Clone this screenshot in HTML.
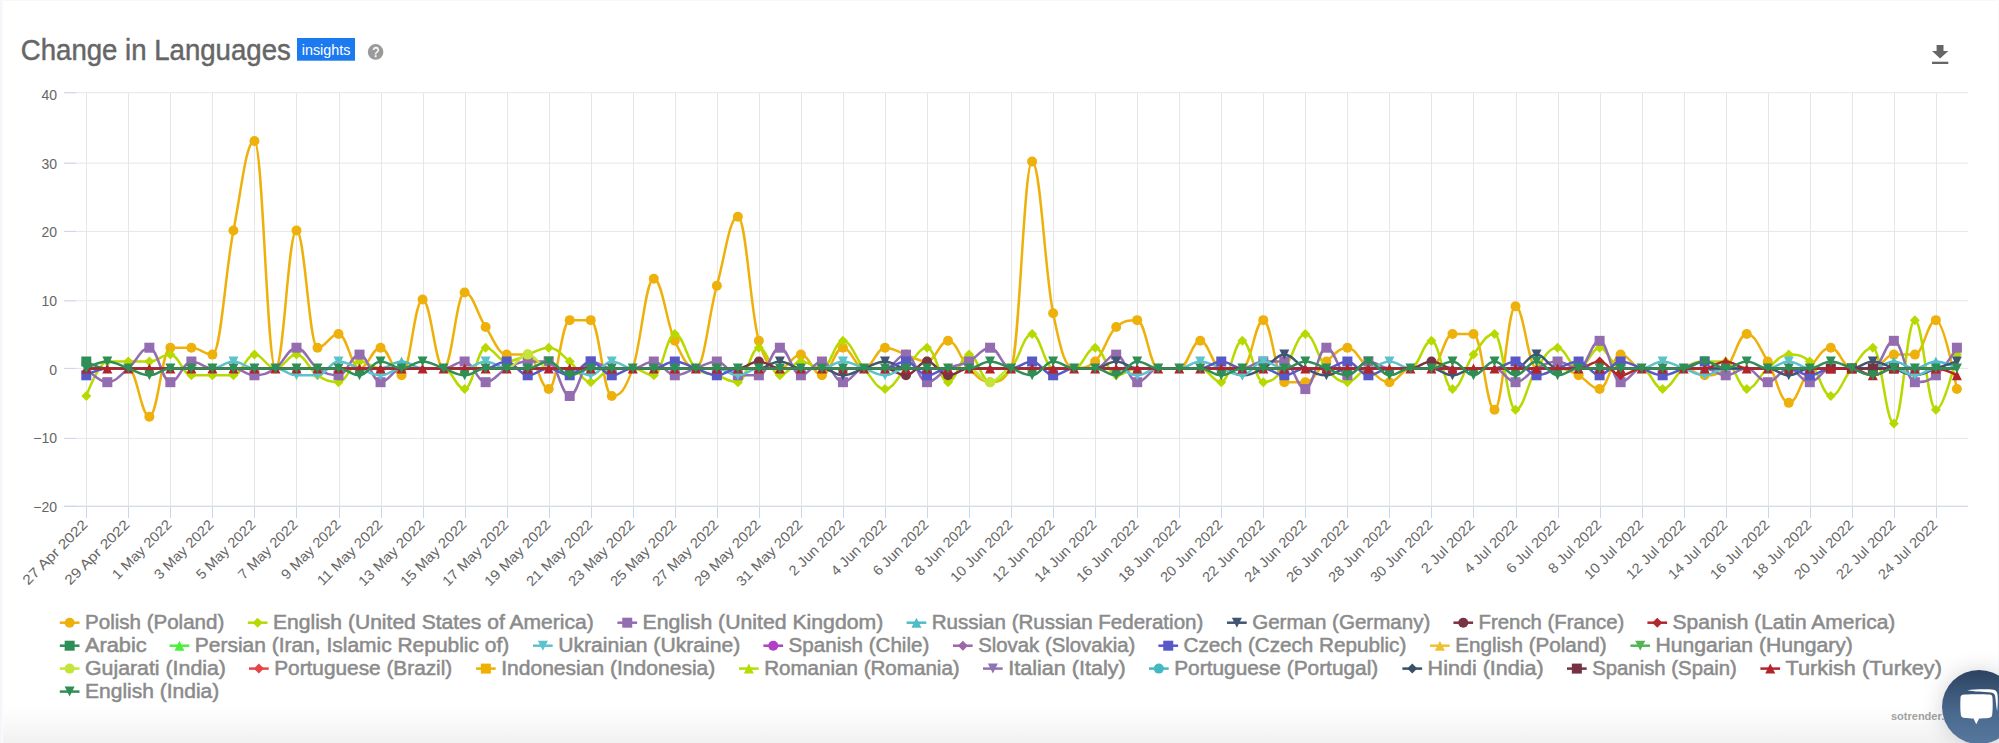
<!DOCTYPE html>
<html><head><meta charset="utf-8"><title>Change in Languages</title>
<style>
html,body{margin:0;padding:0;overflow:hidden;}
body{width:1999px;height:743px;background:#fff;}
.page{width:1999px;height:743px;overflow:hidden;position:relative;background:#fff;font-family:"Liberation Sans",Arial,sans-serif;}
.edge-l{position:absolute;left:0;top:0;width:3px;height:743px;background:linear-gradient(90deg,#f4f6f9 0,#f4f6f9 2px,#fafbfc 2px);}
.edge-t{position:absolute;left:0;top:0;width:1999px;height:1px;background:#f6f8fa;}
.edge-r{position:absolute;right:0;top:0;width:1px;height:743px;background:#f8f9fb;}
.bottom{position:absolute;left:3px;right:1px;top:704px;height:39px;background:linear-gradient(#fff,#fdfdfd 25%,#f1f1f1);}
.chart{position:absolute;left:0;top:0;}
.yl{font-size:14px;fill:#666;font-family:"Liberation Sans",Arial,sans-serif;}
.xl{font-size:14px;fill:#666;font-family:"Liberation Sans",Arial,sans-serif;}
.lg{font-size:19.5px;fill:#8b8b8b;stroke:#8b8b8b;stroke-width:0.5px;font-family:"Liberation Sans",Arial,sans-serif;}
.ttl{font-size:30px;fill:#666;stroke:#666;stroke-width:0.5px;font-family:"Liberation Sans",Arial,sans-serif;}
.bdg{font-size:15px;fill:#fff;font-family:"Liberation Sans",Arial,sans-serif;}
.hlp{font-size:14.6px;fill:#fff;stroke:#fff;stroke-width:0.35px;font-family:"Liberation Sans",Arial,sans-serif;}
.cr{font-size:11px;font-weight:bold;fill:#a2a2a2;font-family:"Liberation Sans",Arial,sans-serif;}
.dl{position:absolute;left:1930px;top:44px;}
.chat{position:absolute;left:1942px;top:670px;width:74px;height:74px;border-radius:50%;background:linear-gradient(#2c4360,#4b6a90 60%,#56779d);box-shadow:0 0 22px rgba(0,0,0,0.17);z-index:5;}
</style></head><body><div class="page">
<div class="edge-l"></div><div class="edge-t"></div><div class="edge-r"></div>
<div class="bottom"></div>
<svg class="chart" width="1999" height="743" viewBox="0 0 1999 743"><path d="M64 92.7H1968" stroke="#e6e6e6" stroke-width="1"/><path d="M64 163.2H1968" stroke="#e6e6e6" stroke-width="1"/><path d="M64 231.4H1968" stroke="#e6e6e6" stroke-width="1"/><path d="M64 300.8H1968" stroke="#e6e6e6" stroke-width="1"/><path d="M64 368.4H1968" stroke="#e6e6e6" stroke-width="1"/><path d="M64 438.4H1968" stroke="#e6e6e6" stroke-width="1"/><path d="M64 506.3H1968" stroke="#e6e6e6" stroke-width="1"/><path d="M86.5 93V507" stroke="#e6e6e6" stroke-width="1"/><path d="M128.5 93V507" stroke="#e6e6e6" stroke-width="1"/><path d="M170.5 93V507" stroke="#e6e6e6" stroke-width="1"/><path d="M212.5 93V507" stroke="#e6e6e6" stroke-width="1"/><path d="M254.5 93V507" stroke="#e6e6e6" stroke-width="1"/><path d="M296.5 93V507" stroke="#e6e6e6" stroke-width="1"/><path d="M339.5 93V507" stroke="#e6e6e6" stroke-width="1"/><path d="M381.5 93V507" stroke="#e6e6e6" stroke-width="1"/><path d="M423.5 93V507" stroke="#e6e6e6" stroke-width="1"/><path d="M465.5 93V507" stroke="#e6e6e6" stroke-width="1"/><path d="M507.5 93V507" stroke="#e6e6e6" stroke-width="1"/><path d="M549.5 93V507" stroke="#e6e6e6" stroke-width="1"/><path d="M591.5 93V507" stroke="#e6e6e6" stroke-width="1"/><path d="M633.5 93V507" stroke="#e6e6e6" stroke-width="1"/><path d="M675.5 93V507" stroke="#e6e6e6" stroke-width="1"/><path d="M717.5 93V507" stroke="#e6e6e6" stroke-width="1"/><path d="M759.5 93V507" stroke="#e6e6e6" stroke-width="1"/><path d="M801.5 93V507" stroke="#e6e6e6" stroke-width="1"/><path d="M843.5 93V507" stroke="#e6e6e6" stroke-width="1"/><path d="M885.5 93V507" stroke="#e6e6e6" stroke-width="1"/><path d="M927.5 93V507" stroke="#e6e6e6" stroke-width="1"/><path d="M969.5 93V507" stroke="#e6e6e6" stroke-width="1"/><path d="M1011.5 93V507" stroke="#e6e6e6" stroke-width="1"/><path d="M1053.5 93V507" stroke="#e6e6e6" stroke-width="1"/><path d="M1095.5 93V507" stroke="#e6e6e6" stroke-width="1"/><path d="M1137.5 93V507" stroke="#e6e6e6" stroke-width="1"/><path d="M1179.5 93V507" stroke="#e6e6e6" stroke-width="1"/><path d="M1221.5 93V507" stroke="#e6e6e6" stroke-width="1"/><path d="M1263.5 93V507" stroke="#e6e6e6" stroke-width="1"/><path d="M1305.5 93V507" stroke="#e6e6e6" stroke-width="1"/><path d="M1347.5 93V507" stroke="#e6e6e6" stroke-width="1"/><path d="M1389.5 93V507" stroke="#e6e6e6" stroke-width="1"/><path d="M1431.5 93V507" stroke="#e6e6e6" stroke-width="1"/><path d="M1473.5 93V507" stroke="#e6e6e6" stroke-width="1"/><path d="M1516.5 93V507" stroke="#e6e6e6" stroke-width="1"/><path d="M1558.5 93V507" stroke="#e6e6e6" stroke-width="1"/><path d="M1600.5 93V507" stroke="#e6e6e6" stroke-width="1"/><path d="M1642.5 93V507" stroke="#e6e6e6" stroke-width="1"/><path d="M1684.5 93V507" stroke="#e6e6e6" stroke-width="1"/><path d="M1726.5 93V507" stroke="#e6e6e6" stroke-width="1"/><path d="M1768.5 93V507" stroke="#e6e6e6" stroke-width="1"/><path d="M1810.5 93V507" stroke="#e6e6e6" stroke-width="1"/><path d="M1852.5 93V507" stroke="#e6e6e6" stroke-width="1"/><path d="M1894.5 93V507" stroke="#e6e6e6" stroke-width="1"/><path d="M1936.5 93V507" stroke="#e6e6e6" stroke-width="1"/><path d="M64 92.7H76" stroke="#ccd6eb" stroke-width="1"/><path d="M64 163.2H76" stroke="#ccd6eb" stroke-width="1"/><path d="M64 231.4H76" stroke="#ccd6eb" stroke-width="1"/><path d="M64 300.8H76" stroke="#ccd6eb" stroke-width="1"/><path d="M64 368.4H76" stroke="#ccd6eb" stroke-width="1"/><path d="M64 438.4H76" stroke="#ccd6eb" stroke-width="1"/><path d="M64 506.3H76" stroke="#ccd6eb" stroke-width="1"/><path d="M64 506.3H1968" stroke="#ccd6eb" stroke-width="1"/><path d="M86.5 507V518" stroke="#ccd6eb" stroke-width="1"/><path d="M128.5 507V518" stroke="#ccd6eb" stroke-width="1"/><path d="M170.5 507V518" stroke="#ccd6eb" stroke-width="1"/><path d="M212.5 507V518" stroke="#ccd6eb" stroke-width="1"/><path d="M254.5 507V518" stroke="#ccd6eb" stroke-width="1"/><path d="M296.5 507V518" stroke="#ccd6eb" stroke-width="1"/><path d="M339.5 507V518" stroke="#ccd6eb" stroke-width="1"/><path d="M381.5 507V518" stroke="#ccd6eb" stroke-width="1"/><path d="M423.5 507V518" stroke="#ccd6eb" stroke-width="1"/><path d="M465.5 507V518" stroke="#ccd6eb" stroke-width="1"/><path d="M507.5 507V518" stroke="#ccd6eb" stroke-width="1"/><path d="M549.5 507V518" stroke="#ccd6eb" stroke-width="1"/><path d="M591.5 507V518" stroke="#ccd6eb" stroke-width="1"/><path d="M633.5 507V518" stroke="#ccd6eb" stroke-width="1"/><path d="M675.5 507V518" stroke="#ccd6eb" stroke-width="1"/><path d="M717.5 507V518" stroke="#ccd6eb" stroke-width="1"/><path d="M759.5 507V518" stroke="#ccd6eb" stroke-width="1"/><path d="M801.5 507V518" stroke="#ccd6eb" stroke-width="1"/><path d="M843.5 507V518" stroke="#ccd6eb" stroke-width="1"/><path d="M885.5 507V518" stroke="#ccd6eb" stroke-width="1"/><path d="M927.5 507V518" stroke="#ccd6eb" stroke-width="1"/><path d="M969.5 507V518" stroke="#ccd6eb" stroke-width="1"/><path d="M1011.5 507V518" stroke="#ccd6eb" stroke-width="1"/><path d="M1053.5 507V518" stroke="#ccd6eb" stroke-width="1"/><path d="M1095.5 507V518" stroke="#ccd6eb" stroke-width="1"/><path d="M1137.5 507V518" stroke="#ccd6eb" stroke-width="1"/><path d="M1179.5 507V518" stroke="#ccd6eb" stroke-width="1"/><path d="M1221.5 507V518" stroke="#ccd6eb" stroke-width="1"/><path d="M1263.5 507V518" stroke="#ccd6eb" stroke-width="1"/><path d="M1305.5 507V518" stroke="#ccd6eb" stroke-width="1"/><path d="M1347.5 507V518" stroke="#ccd6eb" stroke-width="1"/><path d="M1389.5 507V518" stroke="#ccd6eb" stroke-width="1"/><path d="M1431.5 507V518" stroke="#ccd6eb" stroke-width="1"/><path d="M1473.5 507V518" stroke="#ccd6eb" stroke-width="1"/><path d="M1516.5 507V518" stroke="#ccd6eb" stroke-width="1"/><path d="M1558.5 507V518" stroke="#ccd6eb" stroke-width="1"/><path d="M1600.5 507V518" stroke="#ccd6eb" stroke-width="1"/><path d="M1642.5 507V518" stroke="#ccd6eb" stroke-width="1"/><path d="M1684.5 507V518" stroke="#ccd6eb" stroke-width="1"/><path d="M1726.5 507V518" stroke="#ccd6eb" stroke-width="1"/><path d="M1768.5 507V518" stroke="#ccd6eb" stroke-width="1"/><path d="M1810.5 507V518" stroke="#ccd6eb" stroke-width="1"/><path d="M1852.5 507V518" stroke="#ccd6eb" stroke-width="1"/><path d="M1894.5 507V518" stroke="#ccd6eb" stroke-width="1"/><path d="M1936.5 507V518" stroke="#ccd6eb" stroke-width="1"/><text x="57" y="99.8" text-anchor="end" class="yl">40</text><text x="57" y="168.5" text-anchor="end" class="yl">30</text><text x="57" y="237.1" text-anchor="end" class="yl">20</text><text x="57" y="305.8" text-anchor="end" class="yl">10</text><text x="57" y="374.5" text-anchor="end" class="yl">0</text><text x="57" y="443.1" text-anchor="end" class="yl">−10</text><text x="57" y="511.8" text-anchor="end" class="yl">−20</text><text x="88.5" y="525.5" text-anchor="end" transform="rotate(-45 88.5 525.5)" class="xl" textLength="85.2" lengthAdjust="spacingAndGlyphs">27 Apr 2022</text><text x="130.5" y="525.5" text-anchor="end" transform="rotate(-45 130.5 525.5)" class="xl" textLength="85.2" lengthAdjust="spacingAndGlyphs">29 Apr 2022</text><text x="172.5" y="525.5" text-anchor="end" transform="rotate(-45 172.5 525.5)" class="xl" textLength="77.3" lengthAdjust="spacingAndGlyphs">1 May 2022</text><text x="214.5" y="525.5" text-anchor="end" transform="rotate(-45 214.5 525.5)" class="xl" textLength="77.3" lengthAdjust="spacingAndGlyphs">3 May 2022</text><text x="256.5" y="525.5" text-anchor="end" transform="rotate(-45 256.5 525.5)" class="xl" textLength="77.3" lengthAdjust="spacingAndGlyphs">5 May 2022</text><text x="298.5" y="525.5" text-anchor="end" transform="rotate(-45 298.5 525.5)" class="xl" textLength="77.3" lengthAdjust="spacingAndGlyphs">7 May 2022</text><text x="341.5" y="525.5" text-anchor="end" transform="rotate(-45 341.5 525.5)" class="xl" textLength="77.3" lengthAdjust="spacingAndGlyphs">9 May 2022</text><text x="383.5" y="525.5" text-anchor="end" transform="rotate(-45 383.5 525.5)" class="xl" textLength="86.0" lengthAdjust="spacingAndGlyphs">11 May 2022</text><text x="425.5" y="525.5" text-anchor="end" transform="rotate(-45 425.5 525.5)" class="xl" textLength="87.1" lengthAdjust="spacingAndGlyphs">13 May 2022</text><text x="467.5" y="525.5" text-anchor="end" transform="rotate(-45 467.5 525.5)" class="xl" textLength="87.1" lengthAdjust="spacingAndGlyphs">15 May 2022</text><text x="509.5" y="525.5" text-anchor="end" transform="rotate(-45 509.5 525.5)" class="xl" textLength="87.1" lengthAdjust="spacingAndGlyphs">17 May 2022</text><text x="551.5" y="525.5" text-anchor="end" transform="rotate(-45 551.5 525.5)" class="xl" textLength="87.1" lengthAdjust="spacingAndGlyphs">19 May 2022</text><text x="593.5" y="525.5" text-anchor="end" transform="rotate(-45 593.5 525.5)" class="xl" textLength="87.1" lengthAdjust="spacingAndGlyphs">21 May 2022</text><text x="635.5" y="525.5" text-anchor="end" transform="rotate(-45 635.5 525.5)" class="xl" textLength="87.1" lengthAdjust="spacingAndGlyphs">23 May 2022</text><text x="677.5" y="525.5" text-anchor="end" transform="rotate(-45 677.5 525.5)" class="xl" textLength="87.1" lengthAdjust="spacingAndGlyphs">25 May 2022</text><text x="719.5" y="525.5" text-anchor="end" transform="rotate(-45 719.5 525.5)" class="xl" textLength="87.1" lengthAdjust="spacingAndGlyphs">27 May 2022</text><text x="761.5" y="525.5" text-anchor="end" transform="rotate(-45 761.5 525.5)" class="xl" textLength="87.1" lengthAdjust="spacingAndGlyphs">29 May 2022</text><text x="803.5" y="525.5" text-anchor="end" transform="rotate(-45 803.5 525.5)" class="xl" textLength="87.1" lengthAdjust="spacingAndGlyphs">31 May 2022</text><text x="845.5" y="525.5" text-anchor="end" transform="rotate(-45 845.5 525.5)" class="xl" textLength="72.1" lengthAdjust="spacingAndGlyphs">2 Jun 2022</text><text x="887.5" y="525.5" text-anchor="end" transform="rotate(-45 887.5 525.5)" class="xl" textLength="72.1" lengthAdjust="spacingAndGlyphs">4 Jun 2022</text><text x="929.5" y="525.5" text-anchor="end" transform="rotate(-45 929.5 525.5)" class="xl" textLength="72.1" lengthAdjust="spacingAndGlyphs">6 Jun 2022</text><text x="971.5" y="525.5" text-anchor="end" transform="rotate(-45 971.5 525.5)" class="xl" textLength="72.1" lengthAdjust="spacingAndGlyphs">8 Jun 2022</text><text x="1013.5" y="525.5" text-anchor="end" transform="rotate(-45 1013.5 525.5)" class="xl" textLength="81.3" lengthAdjust="spacingAndGlyphs">10 Jun 2022</text><text x="1055.5" y="525.5" text-anchor="end" transform="rotate(-45 1055.5 525.5)" class="xl" textLength="81.3" lengthAdjust="spacingAndGlyphs">12 Jun 2022</text><text x="1097.5" y="525.5" text-anchor="end" transform="rotate(-45 1097.5 525.5)" class="xl" textLength="81.3" lengthAdjust="spacingAndGlyphs">14 Jun 2022</text><text x="1139.5" y="525.5" text-anchor="end" transform="rotate(-45 1139.5 525.5)" class="xl" textLength="81.3" lengthAdjust="spacingAndGlyphs">16 Jun 2022</text><text x="1181.5" y="525.5" text-anchor="end" transform="rotate(-45 1181.5 525.5)" class="xl" textLength="81.3" lengthAdjust="spacingAndGlyphs">18 Jun 2022</text><text x="1223.5" y="525.5" text-anchor="end" transform="rotate(-45 1223.5 525.5)" class="xl" textLength="81.3" lengthAdjust="spacingAndGlyphs">20 Jun 2022</text><text x="1265.5" y="525.5" text-anchor="end" transform="rotate(-45 1265.5 525.5)" class="xl" textLength="81.3" lengthAdjust="spacingAndGlyphs">22 Jun 2022</text><text x="1307.5" y="525.5" text-anchor="end" transform="rotate(-45 1307.5 525.5)" class="xl" textLength="81.3" lengthAdjust="spacingAndGlyphs">24 Jun 2022</text><text x="1349.5" y="525.5" text-anchor="end" transform="rotate(-45 1349.5 525.5)" class="xl" textLength="81.3" lengthAdjust="spacingAndGlyphs">26 Jun 2022</text><text x="1391.5" y="525.5" text-anchor="end" transform="rotate(-45 1391.5 525.5)" class="xl" textLength="81.3" lengthAdjust="spacingAndGlyphs">28 Jun 2022</text><text x="1433.5" y="525.5" text-anchor="end" transform="rotate(-45 1433.5 525.5)" class="xl" textLength="81.3" lengthAdjust="spacingAndGlyphs">30 Jun 2022</text><text x="1475.5" y="525.5" text-anchor="end" transform="rotate(-45 1475.5 525.5)" class="xl" textLength="69.1" lengthAdjust="spacingAndGlyphs">2 Jul 2022</text><text x="1518.5" y="525.5" text-anchor="end" transform="rotate(-45 1518.5 525.5)" class="xl" textLength="69.1" lengthAdjust="spacingAndGlyphs">4 Jul 2022</text><text x="1560.5" y="525.5" text-anchor="end" transform="rotate(-45 1560.5 525.5)" class="xl" textLength="69.1" lengthAdjust="spacingAndGlyphs">6 Jul 2022</text><text x="1602.5" y="525.5" text-anchor="end" transform="rotate(-45 1602.5 525.5)" class="xl" textLength="69.1" lengthAdjust="spacingAndGlyphs">8 Jul 2022</text><text x="1644.5" y="525.5" text-anchor="end" transform="rotate(-45 1644.5 525.5)" class="xl" textLength="77.5" lengthAdjust="spacingAndGlyphs">10 Jul 2022</text><text x="1686.5" y="525.5" text-anchor="end" transform="rotate(-45 1686.5 525.5)" class="xl" textLength="77.5" lengthAdjust="spacingAndGlyphs">12 Jul 2022</text><text x="1728.5" y="525.5" text-anchor="end" transform="rotate(-45 1728.5 525.5)" class="xl" textLength="77.5" lengthAdjust="spacingAndGlyphs">14 Jul 2022</text><text x="1770.5" y="525.5" text-anchor="end" transform="rotate(-45 1770.5 525.5)" class="xl" textLength="77.5" lengthAdjust="spacingAndGlyphs">16 Jul 2022</text><text x="1812.5" y="525.5" text-anchor="end" transform="rotate(-45 1812.5 525.5)" class="xl" textLength="77.5" lengthAdjust="spacingAndGlyphs">18 Jul 2022</text><text x="1854.5" y="525.5" text-anchor="end" transform="rotate(-45 1854.5 525.5)" class="xl" textLength="77.5" lengthAdjust="spacingAndGlyphs">20 Jul 2022</text><text x="1896.5" y="525.5" text-anchor="end" transform="rotate(-45 1896.5 525.5)" class="xl" textLength="77.5" lengthAdjust="spacingAndGlyphs">22 Jul 2022</text><text x="1938.5" y="525.5" text-anchor="end" transform="rotate(-45 1938.5 525.5)" class="xl" textLength="77.5" lengthAdjust="spacingAndGlyphs">24 Jul 2022</text><g><path d="M86.30 368.40C86.30 368.40 98.91 368.40 107.32 368.40C115.73 368.40 119.93 368.40 128.34 368.40C136.74 368.40 140.95 416.65 149.35 416.65C157.76 416.65 161.96 347.72 170.37 347.72C178.78 347.72 182.98 347.72 191.39 347.72C199.80 347.72 204.00 354.61 212.41 354.61C220.82 354.61 225.02 273.28 233.43 230.54C241.83 187.80 246.04 140.93 254.44 140.93C262.85 140.93 267.05 368.40 275.46 368.40C283.87 368.40 288.07 230.54 296.48 230.54C304.89 230.54 309.09 347.72 317.50 347.72C325.91 347.72 330.11 333.94 338.52 333.94C346.92 333.94 351.13 368.40 359.53 368.40C367.94 368.40 372.14 347.72 380.55 347.72C388.96 347.72 393.16 375.29 401.57 375.29C409.98 375.29 414.18 299.47 422.59 299.47C431.00 299.47 435.20 368.40 443.61 368.40C452.01 368.40 456.22 292.58 464.62 292.58C473.03 292.58 477.23 314.63 485.64 327.04C494.05 339.45 498.25 354.61 506.66 354.61C515.07 354.61 519.27 354.61 527.68 354.61C536.09 354.61 540.29 389.08 548.70 389.08C557.10 389.08 561.31 320.15 569.71 320.15C578.12 320.15 582.32 320.15 590.73 320.15C599.14 320.15 603.34 395.97 611.75 395.97C620.16 395.97 624.36 391.84 632.77 368.40C641.18 344.96 645.38 278.79 653.79 278.79C662.19 278.79 666.40 322.91 674.80 340.83C683.21 358.75 687.41 368.40 695.82 368.40C704.23 368.40 708.43 316.01 716.84 285.68C725.25 255.35 729.45 216.75 737.86 216.75C746.27 216.75 750.47 313.26 758.88 340.83C767.28 368.40 771.49 368.40 779.89 368.40C788.30 368.40 792.50 354.61 800.91 354.61C809.32 354.61 813.52 375.29 821.93 375.29C830.34 375.29 834.54 347.72 842.95 347.72C851.36 347.72 855.56 368.40 863.97 368.40C872.37 368.40 876.58 347.72 884.98 347.72C893.39 347.72 897.59 351.86 906.00 354.61C914.41 357.37 918.61 361.51 927.02 361.51C935.43 361.51 939.63 340.83 948.04 340.83C956.45 340.83 960.65 360.13 969.06 368.40C977.46 376.67 981.67 382.19 990.07 382.19C998.48 382.19 1002.68 382.19 1011.09 368.40C1019.50 354.61 1023.70 161.61 1032.11 161.61C1040.52 161.61 1044.72 271.90 1053.13 313.26C1061.54 354.61 1065.74 368.40 1074.15 368.40C1082.55 368.40 1086.76 368.40 1095.16 361.51C1103.57 354.61 1107.77 333.93 1116.18 327.04C1124.59 320.15 1128.79 320.15 1137.20 320.15C1145.61 320.15 1149.81 368.40 1158.22 368.40C1166.63 368.40 1170.83 368.40 1179.24 368.40C1187.64 368.40 1191.85 340.83 1200.25 340.83C1208.66 340.83 1212.86 368.40 1221.27 368.40C1229.68 368.40 1233.88 368.40 1242.29 368.40C1250.70 368.40 1254.90 320.15 1263.31 320.15C1271.72 320.15 1275.92 382.19 1284.33 382.19C1292.73 382.19 1296.94 382.19 1305.34 382.19C1313.75 382.19 1317.95 368.40 1326.36 361.51C1334.77 354.61 1338.97 347.72 1347.38 347.72C1355.79 347.72 1359.99 361.51 1368.40 368.40C1376.81 375.29 1381.01 382.19 1389.42 382.19C1397.82 382.19 1402.03 368.40 1410.43 368.40C1418.84 368.40 1423.04 368.40 1431.45 368.40C1439.86 368.40 1444.06 333.94 1452.47 333.94C1460.88 333.94 1465.08 333.94 1473.49 333.94C1481.90 333.94 1486.10 409.76 1494.51 409.76C1502.91 409.76 1507.12 306.36 1515.52 306.36C1523.93 306.36 1528.13 368.40 1536.54 368.40C1544.95 368.40 1549.15 368.40 1557.56 368.40C1565.97 368.40 1570.17 371.16 1578.58 375.29C1586.99 379.43 1591.19 389.08 1599.60 389.08C1608.00 389.08 1612.21 354.61 1620.61 354.61C1629.02 354.61 1633.22 368.40 1641.63 368.40C1650.04 368.40 1654.24 368.40 1662.65 368.40C1671.06 368.40 1675.26 368.40 1683.67 368.40C1692.08 368.40 1696.28 375.29 1704.69 375.29C1713.09 375.29 1717.30 375.29 1725.70 368.40C1734.11 361.51 1738.31 333.94 1746.72 333.94C1755.13 333.94 1759.33 347.72 1767.74 361.51C1776.15 375.29 1780.35 402.86 1788.76 402.86C1797.17 402.86 1801.37 379.43 1809.78 368.40C1818.18 357.37 1822.39 347.72 1830.79 347.72C1839.20 347.72 1843.40 368.40 1851.81 368.40C1860.22 368.40 1864.42 368.40 1872.83 368.40C1881.24 368.40 1885.44 354.61 1893.85 354.61C1902.26 354.61 1906.46 354.61 1914.87 354.61C1923.27 354.61 1927.48 320.15 1935.88 320.15C1944.29 320.15 1956.90 389.08 1956.90 389.08" fill="none" stroke="#eeb10c" stroke-width="2.5" stroke-linejoin="round" stroke-linecap="round"/><circle cx="149.35" cy="416.65" r="5" fill="#eeb10c"/><circle cx="170.37" cy="347.72" r="5" fill="#eeb10c"/><circle cx="191.39" cy="347.72" r="5" fill="#eeb10c"/><circle cx="212.41" cy="354.61" r="5" fill="#eeb10c"/><circle cx="233.43" cy="230.54" r="5" fill="#eeb10c"/><circle cx="254.44" cy="140.93" r="5" fill="#eeb10c"/><circle cx="296.48" cy="230.54" r="5" fill="#eeb10c"/><circle cx="317.50" cy="347.72" r="5" fill="#eeb10c"/><circle cx="338.52" cy="333.94" r="5" fill="#eeb10c"/><circle cx="380.55" cy="347.72" r="5" fill="#eeb10c"/><circle cx="401.57" cy="375.29" r="5" fill="#eeb10c"/><circle cx="422.59" cy="299.47" r="5" fill="#eeb10c"/><circle cx="464.62" cy="292.58" r="5" fill="#eeb10c"/><circle cx="485.64" cy="327.04" r="5" fill="#eeb10c"/><circle cx="506.66" cy="354.61" r="5" fill="#eeb10c"/><circle cx="527.68" cy="354.61" r="5" fill="#eeb10c"/><circle cx="548.70" cy="389.08" r="5" fill="#eeb10c"/><circle cx="569.71" cy="320.15" r="5" fill="#eeb10c"/><circle cx="590.73" cy="320.15" r="5" fill="#eeb10c"/><circle cx="611.75" cy="395.97" r="5" fill="#eeb10c"/><circle cx="653.79" cy="278.79" r="5" fill="#eeb10c"/><circle cx="674.80" cy="340.83" r="5" fill="#eeb10c"/><circle cx="716.84" cy="285.68" r="5" fill="#eeb10c"/><circle cx="737.86" cy="216.75" r="5" fill="#eeb10c"/><circle cx="758.88" cy="340.83" r="5" fill="#eeb10c"/><circle cx="800.91" cy="354.61" r="5" fill="#eeb10c"/><circle cx="821.93" cy="375.29" r="5" fill="#eeb10c"/><circle cx="842.95" cy="347.72" r="5" fill="#eeb10c"/><circle cx="884.98" cy="347.72" r="5" fill="#eeb10c"/><circle cx="906.00" cy="354.61" r="5" fill="#eeb10c"/><circle cx="927.02" cy="361.51" r="5" fill="#eeb10c"/><circle cx="948.04" cy="340.83" r="5" fill="#eeb10c"/><circle cx="990.07" cy="382.19" r="5" fill="#eeb10c"/><circle cx="1032.11" cy="161.61" r="5" fill="#eeb10c"/><circle cx="1053.13" cy="313.26" r="5" fill="#eeb10c"/><circle cx="1095.16" cy="361.51" r="5" fill="#eeb10c"/><circle cx="1116.18" cy="327.04" r="5" fill="#eeb10c"/><circle cx="1137.20" cy="320.15" r="5" fill="#eeb10c"/><circle cx="1200.25" cy="340.83" r="5" fill="#eeb10c"/><circle cx="1263.31" cy="320.15" r="5" fill="#eeb10c"/><circle cx="1284.33" cy="382.19" r="5" fill="#eeb10c"/><circle cx="1305.34" cy="382.19" r="5" fill="#eeb10c"/><circle cx="1326.36" cy="361.51" r="5" fill="#eeb10c"/><circle cx="1347.38" cy="347.72" r="5" fill="#eeb10c"/><circle cx="1389.42" cy="382.19" r="5" fill="#eeb10c"/><circle cx="1452.47" cy="333.94" r="5" fill="#eeb10c"/><circle cx="1473.49" cy="333.94" r="5" fill="#eeb10c"/><circle cx="1494.51" cy="409.76" r="5" fill="#eeb10c"/><circle cx="1515.52" cy="306.36" r="5" fill="#eeb10c"/><circle cx="1578.58" cy="375.29" r="5" fill="#eeb10c"/><circle cx="1599.60" cy="389.08" r="5" fill="#eeb10c"/><circle cx="1620.61" cy="354.61" r="5" fill="#eeb10c"/><circle cx="1704.69" cy="375.29" r="5" fill="#eeb10c"/><circle cx="1746.72" cy="333.94" r="5" fill="#eeb10c"/><circle cx="1767.74" cy="361.51" r="5" fill="#eeb10c"/><circle cx="1788.76" cy="402.86" r="5" fill="#eeb10c"/><circle cx="1830.79" cy="347.72" r="5" fill="#eeb10c"/><circle cx="1893.85" cy="354.61" r="5" fill="#eeb10c"/><circle cx="1914.87" cy="354.61" r="5" fill="#eeb10c"/><circle cx="1935.88" cy="320.15" r="5" fill="#eeb10c"/><circle cx="1956.90" cy="389.08" r="5" fill="#eeb10c"/></g><g><path d="M86.30 395.97C86.30 395.97 98.91 361.51 107.32 361.51C115.73 361.51 119.93 361.51 128.34 361.51C136.74 361.51 140.95 361.51 149.35 361.51C157.76 361.51 161.96 354.61 170.37 354.61C178.78 354.61 182.98 375.29 191.39 375.29C199.80 375.29 204.00 375.29 212.41 375.29C220.82 375.29 225.02 375.29 233.43 375.29C241.83 375.29 246.04 354.61 254.44 354.61C262.85 354.61 267.05 368.40 275.46 368.40C283.87 368.40 288.07 354.61 296.48 354.61C304.89 354.61 309.09 369.78 317.50 375.29C325.91 380.81 330.11 382.19 338.52 382.19C346.92 382.19 351.13 361.51 359.53 361.51C367.94 361.51 372.14 368.40 380.55 368.40C388.96 368.40 393.16 368.40 401.57 368.40C409.98 368.40 414.18 368.40 422.59 368.40C431.00 368.40 435.20 368.40 443.61 368.40C452.01 368.40 456.22 389.08 464.62 389.08C473.03 389.08 477.23 347.72 485.64 347.72C494.05 347.72 498.25 361.51 506.66 361.51C515.07 361.51 519.27 357.37 527.68 354.61C536.09 351.86 540.29 347.72 548.70 347.72C557.10 347.72 561.31 354.61 569.71 361.51C578.12 368.40 582.32 382.19 590.73 382.19C599.14 382.19 603.34 368.40 611.75 368.40C620.16 368.40 624.36 368.40 632.77 368.40C641.18 368.40 645.38 375.29 653.79 375.29C662.19 375.29 666.40 333.94 674.80 333.94C683.21 333.94 687.41 361.51 695.82 368.40C704.23 375.29 708.43 372.54 716.84 375.29C725.25 378.05 729.45 382.19 737.86 382.19C746.27 382.19 750.47 347.72 758.88 347.72C767.28 347.72 771.49 375.29 779.89 375.29C788.30 375.29 792.50 361.51 800.91 361.51C809.32 361.51 813.52 368.40 821.93 368.40C830.34 368.40 834.54 340.83 842.95 340.83C851.36 340.83 855.56 358.75 863.97 368.40C872.37 378.05 876.58 389.08 884.98 389.08C893.39 389.08 897.59 376.67 906.00 368.40C914.41 360.13 918.61 347.72 927.02 347.72C935.43 347.72 939.63 382.19 948.04 382.19C956.45 382.19 960.65 354.61 969.06 354.61C977.46 354.61 981.67 382.19 990.07 382.19C998.48 382.19 1002.68 378.05 1011.09 368.40C1019.50 358.75 1023.70 333.94 1032.11 333.94C1040.52 333.94 1044.72 368.40 1053.13 368.40C1061.54 368.40 1065.74 368.40 1074.15 368.40C1082.55 368.40 1086.76 347.72 1095.16 347.72C1103.57 347.72 1107.77 375.29 1116.18 375.29C1124.59 375.29 1128.79 368.40 1137.20 368.40C1145.61 368.40 1149.81 368.40 1158.22 368.40C1166.63 368.40 1170.83 368.40 1179.24 368.40C1187.64 368.40 1191.85 368.40 1200.25 368.40C1208.66 368.40 1212.86 382.19 1221.27 382.19C1229.68 382.19 1233.88 340.83 1242.29 340.83C1250.70 340.83 1254.90 382.19 1263.31 382.19C1271.72 382.19 1275.92 378.05 1284.33 368.40C1292.73 358.75 1296.94 333.94 1305.34 333.94C1313.75 333.94 1317.95 358.75 1326.36 368.40C1334.77 378.05 1338.97 382.19 1347.38 382.19C1355.79 382.19 1359.99 368.40 1368.40 368.40C1376.81 368.40 1381.01 368.40 1389.42 368.40C1397.82 368.40 1402.03 368.40 1410.43 368.40C1418.84 368.40 1423.04 340.83 1431.45 340.83C1439.86 340.83 1444.06 389.08 1452.47 389.08C1460.88 389.08 1465.08 365.64 1473.49 354.61C1481.90 343.59 1486.10 333.94 1494.51 333.94C1502.91 333.94 1507.12 409.76 1515.52 409.76C1523.93 409.76 1528.13 380.81 1536.54 368.40C1544.95 355.99 1549.15 347.72 1557.56 347.72C1565.97 347.72 1570.17 368.40 1578.58 368.40C1586.99 368.40 1591.19 347.72 1599.60 347.72C1608.00 347.72 1612.21 368.40 1620.61 368.40C1629.02 368.40 1633.22 368.40 1641.63 368.40C1650.04 368.40 1654.24 389.08 1662.65 389.08C1671.06 389.08 1675.26 373.91 1683.67 368.40C1692.08 362.89 1696.28 361.51 1704.69 361.51C1713.09 361.51 1717.30 361.51 1725.70 361.51C1734.11 361.51 1738.31 389.08 1746.72 389.08C1755.13 389.08 1759.33 375.29 1767.74 368.40C1776.15 361.51 1780.35 354.61 1788.76 354.61C1797.17 354.61 1801.37 354.61 1809.78 361.51C1818.18 368.40 1822.39 395.97 1830.79 395.97C1839.20 395.97 1843.40 378.05 1851.81 368.40C1860.22 358.75 1864.42 347.72 1872.83 347.72C1881.24 347.72 1885.44 423.54 1893.85 423.54C1902.26 423.54 1906.46 320.15 1914.87 320.15C1923.27 320.15 1927.48 409.76 1935.88 409.76C1944.29 409.76 1956.90 354.61 1956.90 354.61" fill="none" stroke="#b8d900" stroke-width="2.5" stroke-linejoin="round" stroke-linecap="round"/><path d="M86.30 390.97L91.30 395.97L86.30 400.97L81.30 395.97Z" fill="#b8d900"/><path d="M107.32 356.51L112.32 361.51L107.32 366.51L102.32 361.51Z" fill="#b8d900"/><path d="M128.34 356.51L133.34 361.51L128.34 366.51L123.34 361.51Z" fill="#b8d900"/><path d="M149.35 356.51L154.35 361.51L149.35 366.51L144.35 361.51Z" fill="#b8d900"/><path d="M170.37 349.61L175.37 354.61L170.37 359.61L165.37 354.61Z" fill="#b8d900"/><path d="M191.39 370.29L196.39 375.29L191.39 380.29L186.39 375.29Z" fill="#b8d900"/><path d="M212.41 370.29L217.41 375.29L212.41 380.29L207.41 375.29Z" fill="#b8d900"/><path d="M233.43 370.29L238.43 375.29L233.43 380.29L228.43 375.29Z" fill="#b8d900"/><path d="M254.44 349.61L259.44 354.61L254.44 359.61L249.44 354.61Z" fill="#b8d900"/><path d="M296.48 349.61L301.48 354.61L296.48 359.61L291.48 354.61Z" fill="#b8d900"/><path d="M317.50 370.29L322.50 375.29L317.50 380.29L312.50 375.29Z" fill="#b8d900"/><path d="M338.52 377.19L343.52 382.19L338.52 387.19L333.52 382.19Z" fill="#b8d900"/><path d="M359.53 356.51L364.53 361.51L359.53 366.51L354.53 361.51Z" fill="#b8d900"/><path d="M464.62 384.08L469.62 389.08L464.62 394.08L459.62 389.08Z" fill="#b8d900"/><path d="M485.64 342.72L490.64 347.72L485.64 352.72L480.64 347.72Z" fill="#b8d900"/><path d="M506.66 356.51L511.66 361.51L506.66 366.51L501.66 361.51Z" fill="#b8d900"/><path d="M527.68 349.61L532.68 354.61L527.68 359.61L522.68 354.61Z" fill="#b8d900"/><path d="M548.70 342.72L553.70 347.72L548.70 352.72L543.70 347.72Z" fill="#b8d900"/><path d="M569.71 356.51L574.71 361.51L569.71 366.51L564.71 361.51Z" fill="#b8d900"/><path d="M590.73 377.19L595.73 382.19L590.73 387.19L585.73 382.19Z" fill="#b8d900"/><path d="M653.79 370.29L658.79 375.29L653.79 380.29L648.79 375.29Z" fill="#b8d900"/><path d="M674.80 328.94L679.80 333.94L674.80 338.94L669.80 333.94Z" fill="#b8d900"/><path d="M716.84 370.29L721.84 375.29L716.84 380.29L711.84 375.29Z" fill="#b8d900"/><path d="M737.86 377.19L742.86 382.19L737.86 387.19L732.86 382.19Z" fill="#b8d900"/><path d="M758.88 342.72L763.88 347.72L758.88 352.72L753.88 347.72Z" fill="#b8d900"/><path d="M779.89 370.29L784.89 375.29L779.89 380.29L774.89 375.29Z" fill="#b8d900"/><path d="M800.91 356.51L805.91 361.51L800.91 366.51L795.91 361.51Z" fill="#b8d900"/><path d="M842.95 335.83L847.95 340.83L842.95 345.83L837.95 340.83Z" fill="#b8d900"/><path d="M884.98 384.08L889.98 389.08L884.98 394.08L879.98 389.08Z" fill="#b8d900"/><path d="M927.02 342.72L932.02 347.72L927.02 352.72L922.02 347.72Z" fill="#b8d900"/><path d="M948.04 377.19L953.04 382.19L948.04 387.19L943.04 382.19Z" fill="#b8d900"/><path d="M969.06 349.61L974.06 354.61L969.06 359.61L964.06 354.61Z" fill="#b8d900"/><path d="M990.07 377.19L995.07 382.19L990.07 387.19L985.07 382.19Z" fill="#b8d900"/><path d="M1032.11 328.94L1037.11 333.94L1032.11 338.94L1027.11 333.94Z" fill="#b8d900"/><path d="M1095.16 342.72L1100.16 347.72L1095.16 352.72L1090.16 347.72Z" fill="#b8d900"/><path d="M1116.18 370.29L1121.18 375.29L1116.18 380.29L1111.18 375.29Z" fill="#b8d900"/><path d="M1221.27 377.19L1226.27 382.19L1221.27 387.19L1216.27 382.19Z" fill="#b8d900"/><path d="M1242.29 335.83L1247.29 340.83L1242.29 345.83L1237.29 340.83Z" fill="#b8d900"/><path d="M1263.31 377.19L1268.31 382.19L1263.31 387.19L1258.31 382.19Z" fill="#b8d900"/><path d="M1305.34 328.94L1310.34 333.94L1305.34 338.94L1300.34 333.94Z" fill="#b8d900"/><path d="M1347.38 377.19L1352.38 382.19L1347.38 387.19L1342.38 382.19Z" fill="#b8d900"/><path d="M1431.45 335.83L1436.45 340.83L1431.45 345.83L1426.45 340.83Z" fill="#b8d900"/><path d="M1452.47 384.08L1457.47 389.08L1452.47 394.08L1447.47 389.08Z" fill="#b8d900"/><path d="M1473.49 349.61L1478.49 354.61L1473.49 359.61L1468.49 354.61Z" fill="#b8d900"/><path d="M1494.51 328.94L1499.51 333.94L1494.51 338.94L1489.51 333.94Z" fill="#b8d900"/><path d="M1515.52 404.76L1520.52 409.76L1515.52 414.76L1510.52 409.76Z" fill="#b8d900"/><path d="M1557.56 342.72L1562.56 347.72L1557.56 352.72L1552.56 347.72Z" fill="#b8d900"/><path d="M1599.60 342.72L1604.60 347.72L1599.60 352.72L1594.60 347.72Z" fill="#b8d900"/><path d="M1662.65 384.08L1667.65 389.08L1662.65 394.08L1657.65 389.08Z" fill="#b8d900"/><path d="M1704.69 356.51L1709.69 361.51L1704.69 366.51L1699.69 361.51Z" fill="#b8d900"/><path d="M1725.70 356.51L1730.70 361.51L1725.70 366.51L1720.70 361.51Z" fill="#b8d900"/><path d="M1746.72 384.08L1751.72 389.08L1746.72 394.08L1741.72 389.08Z" fill="#b8d900"/><path d="M1788.76 349.61L1793.76 354.61L1788.76 359.61L1783.76 354.61Z" fill="#b8d900"/><path d="M1809.78 356.51L1814.78 361.51L1809.78 366.51L1804.78 361.51Z" fill="#b8d900"/><path d="M1830.79 390.97L1835.79 395.97L1830.79 400.97L1825.79 395.97Z" fill="#b8d900"/><path d="M1872.83 342.72L1877.83 347.72L1872.83 352.72L1867.83 347.72Z" fill="#b8d900"/><path d="M1893.85 418.54L1898.85 423.54L1893.85 428.54L1888.85 423.54Z" fill="#b8d900"/><path d="M1914.87 315.15L1919.87 320.15L1914.87 325.15L1909.87 320.15Z" fill="#b8d900"/><path d="M1935.88 404.76L1940.88 409.76L1935.88 414.76L1930.88 409.76Z" fill="#b8d900"/><path d="M1956.90 349.61L1961.90 354.61L1956.90 359.61L1951.90 354.61Z" fill="#b8d900"/></g><g><path d="M86.30 368.40C86.30 368.40 98.91 382.19 107.32 382.19C115.73 382.19 119.93 375.29 128.34 368.40C136.74 361.51 140.95 347.72 149.35 347.72C157.76 347.72 161.96 382.19 170.37 382.19C178.78 382.19 182.98 361.51 191.39 361.51C199.80 361.51 204.00 368.40 212.41 368.40C220.82 368.40 225.02 368.40 233.43 368.40C241.83 368.40 246.04 375.29 254.44 375.29C262.85 375.29 267.05 373.91 275.46 368.40C283.87 362.89 288.07 347.72 296.48 347.72C304.89 347.72 309.09 362.89 317.50 368.40C325.91 373.91 330.11 375.29 338.52 375.29C346.92 375.29 351.13 354.61 359.53 354.61C367.94 354.61 372.14 382.19 380.55 382.19C388.96 382.19 393.16 368.40 401.57 368.40C409.98 368.40 414.18 368.40 422.59 368.40C431.00 368.40 435.20 368.40 443.61 368.40C452.01 368.40 456.22 361.51 464.62 361.51C473.03 361.51 477.23 382.19 485.64 382.19C494.05 382.19 498.25 372.54 506.66 368.40C515.07 364.26 519.27 361.51 527.68 361.51C536.09 361.51 540.29 361.51 548.70 361.51C557.10 361.51 561.31 395.97 569.71 395.97C578.12 395.97 582.32 361.51 590.73 361.51C599.14 361.51 603.34 368.40 611.75 368.40C620.16 368.40 624.36 368.40 632.77 368.40C641.18 368.40 645.38 361.51 653.79 361.51C662.19 361.51 666.40 375.29 674.80 375.29C683.21 375.29 687.41 371.16 695.82 368.40C704.23 365.64 708.43 361.51 716.84 361.51C725.25 361.51 729.45 375.29 737.86 375.29C746.27 375.29 750.47 375.29 758.88 375.29C767.28 375.29 771.49 347.72 779.89 347.72C788.30 347.72 792.50 375.29 800.91 375.29C809.32 375.29 813.52 361.51 821.93 361.51C830.34 361.51 834.54 382.19 842.95 382.19C851.36 382.19 855.56 368.40 863.97 368.40C872.37 368.40 876.58 368.40 884.98 368.40C893.39 368.40 897.59 354.61 906.00 354.61C914.41 354.61 918.61 382.19 927.02 382.19C935.43 382.19 939.63 372.54 948.04 368.40C956.45 364.26 960.65 365.64 969.06 361.51C977.46 357.37 981.67 347.72 990.07 347.72C998.48 347.72 1002.68 368.40 1011.09 368.40C1019.50 368.40 1023.70 368.40 1032.11 368.40C1040.52 368.40 1044.72 368.40 1053.13 368.40C1061.54 368.40 1065.74 368.40 1074.15 368.40C1082.55 368.40 1086.76 368.40 1095.16 368.40C1103.57 368.40 1107.77 354.61 1116.18 354.61C1124.59 354.61 1128.79 382.19 1137.20 382.19C1145.61 382.19 1149.81 368.40 1158.22 368.40C1166.63 368.40 1170.83 368.40 1179.24 368.40C1187.64 368.40 1191.85 368.40 1200.25 368.40C1208.66 368.40 1212.86 368.40 1221.27 368.40C1229.68 368.40 1233.88 368.40 1242.29 368.40C1250.70 368.40 1254.90 361.51 1263.31 361.51C1271.72 361.51 1275.92 361.51 1284.33 361.51C1292.73 361.51 1296.94 389.08 1305.34 389.08C1313.75 389.08 1317.95 347.72 1326.36 347.72C1334.77 347.72 1338.97 375.29 1347.38 375.29C1355.79 375.29 1359.99 361.51 1368.40 361.51C1376.81 361.51 1381.01 368.40 1389.42 368.40C1397.82 368.40 1402.03 368.40 1410.43 368.40C1418.84 368.40 1423.04 368.40 1431.45 368.40C1439.86 368.40 1444.06 368.40 1452.47 368.40C1460.88 368.40 1465.08 368.40 1473.49 368.40C1481.90 368.40 1486.10 368.40 1494.51 368.40C1502.91 368.40 1507.12 382.19 1515.52 382.19C1523.93 382.19 1528.13 372.54 1536.54 368.40C1544.95 364.26 1549.15 361.51 1557.56 361.51C1565.97 361.51 1570.17 368.40 1578.58 368.40C1586.99 368.40 1591.19 340.83 1599.60 340.83C1608.00 340.83 1612.21 382.19 1620.61 382.19C1629.02 382.19 1633.22 368.40 1641.63 368.40C1650.04 368.40 1654.24 368.40 1662.65 368.40C1671.06 368.40 1675.26 368.40 1683.67 368.40C1692.08 368.40 1696.28 368.40 1704.69 368.40C1713.09 368.40 1717.30 375.29 1725.70 375.29C1734.11 375.29 1738.31 368.40 1746.72 368.40C1755.13 368.40 1759.33 382.19 1767.74 382.19C1776.15 382.19 1780.35 368.40 1788.76 368.40C1797.17 368.40 1801.37 382.19 1809.78 382.19C1818.18 382.19 1822.39 368.40 1830.79 368.40C1839.20 368.40 1843.40 368.40 1851.81 368.40C1860.22 368.40 1864.42 368.40 1872.83 368.40C1881.24 368.40 1885.44 340.83 1893.85 340.83C1902.26 340.83 1906.46 382.19 1914.87 382.19C1923.27 382.19 1927.48 382.19 1935.88 375.29C1944.29 368.40 1956.90 347.72 1956.90 347.72" fill="none" stroke="#946db0" stroke-width="2.5" stroke-linejoin="round" stroke-linecap="round"/><rect x="102.32" y="377.19" width="10" height="10" fill="#946db0"/><rect x="144.35" y="342.72" width="10" height="10" fill="#946db0"/><rect x="165.37" y="377.19" width="10" height="10" fill="#946db0"/><rect x="186.39" y="356.51" width="10" height="10" fill="#946db0"/><rect x="249.44" y="370.29" width="10" height="10" fill="#946db0"/><rect x="291.48" y="342.72" width="10" height="10" fill="#946db0"/><rect x="333.52" y="370.29" width="10" height="10" fill="#946db0"/><rect x="354.53" y="349.61" width="10" height="10" fill="#946db0"/><rect x="375.55" y="377.19" width="10" height="10" fill="#946db0"/><rect x="459.62" y="356.51" width="10" height="10" fill="#946db0"/><rect x="480.64" y="377.19" width="10" height="10" fill="#946db0"/><rect x="522.68" y="356.51" width="10" height="10" fill="#946db0"/><rect x="543.70" y="356.51" width="10" height="10" fill="#946db0"/><rect x="564.71" y="390.97" width="10" height="10" fill="#946db0"/><rect x="585.73" y="356.51" width="10" height="10" fill="#946db0"/><rect x="648.79" y="356.51" width="10" height="10" fill="#946db0"/><rect x="669.80" y="370.29" width="10" height="10" fill="#946db0"/><rect x="711.84" y="356.51" width="10" height="10" fill="#946db0"/><rect x="732.86" y="370.29" width="10" height="10" fill="#946db0"/><rect x="753.88" y="370.29" width="10" height="10" fill="#946db0"/><rect x="774.89" y="342.72" width="10" height="10" fill="#946db0"/><rect x="795.91" y="370.29" width="10" height="10" fill="#946db0"/><rect x="816.93" y="356.51" width="10" height="10" fill="#946db0"/><rect x="837.95" y="377.19" width="10" height="10" fill="#946db0"/><rect x="901.00" y="349.61" width="10" height="10" fill="#946db0"/><rect x="922.02" y="377.19" width="10" height="10" fill="#946db0"/><rect x="964.06" y="356.51" width="10" height="10" fill="#946db0"/><rect x="985.07" y="342.72" width="10" height="10" fill="#946db0"/><rect x="1111.18" y="349.61" width="10" height="10" fill="#946db0"/><rect x="1132.20" y="377.19" width="10" height="10" fill="#946db0"/><rect x="1258.31" y="356.51" width="10" height="10" fill="#946db0"/><rect x="1279.33" y="356.51" width="10" height="10" fill="#946db0"/><rect x="1300.34" y="384.08" width="10" height="10" fill="#946db0"/><rect x="1321.36" y="342.72" width="10" height="10" fill="#946db0"/><rect x="1342.38" y="370.29" width="10" height="10" fill="#946db0"/><rect x="1363.40" y="356.51" width="10" height="10" fill="#946db0"/><rect x="1510.52" y="377.19" width="10" height="10" fill="#946db0"/><rect x="1552.56" y="356.51" width="10" height="10" fill="#946db0"/><rect x="1594.60" y="335.83" width="10" height="10" fill="#946db0"/><rect x="1615.61" y="377.19" width="10" height="10" fill="#946db0"/><rect x="1720.70" y="370.29" width="10" height="10" fill="#946db0"/><rect x="1762.74" y="377.19" width="10" height="10" fill="#946db0"/><rect x="1804.78" y="377.19" width="10" height="10" fill="#946db0"/><rect x="1888.85" y="335.83" width="10" height="10" fill="#946db0"/><rect x="1909.87" y="377.19" width="10" height="10" fill="#946db0"/><rect x="1930.88" y="370.29" width="10" height="10" fill="#946db0"/><rect x="1951.90" y="342.72" width="10" height="10" fill="#946db0"/></g><g><path d="M86.30 368.40C86.30 368.40 98.91 368.40 107.32 368.40C115.73 368.40 119.93 368.40 128.34 368.40C136.74 368.40 140.95 368.40 149.35 368.40C157.76 368.40 161.96 368.40 170.37 368.40C178.78 368.40 182.98 368.40 191.39 368.40C199.80 368.40 204.00 368.40 212.41 368.40C220.82 368.40 225.02 368.40 233.43 368.40C241.83 368.40 246.04 368.40 254.44 368.40C262.85 368.40 267.05 368.40 275.46 368.40C283.87 368.40 288.07 368.40 296.48 368.40C304.89 368.40 309.09 368.40 317.50 368.40C325.91 368.40 330.11 368.40 338.52 368.40C346.92 368.40 351.13 368.40 359.53 368.40C367.94 368.40 372.14 368.40 380.55 368.40C388.96 368.40 393.16 361.51 401.57 361.51C409.98 361.51 414.18 368.40 422.59 368.40C431.00 368.40 435.20 368.40 443.61 368.40C452.01 368.40 456.22 368.40 464.62 368.40C473.03 368.40 477.23 368.40 485.64 368.40C494.05 368.40 498.25 368.40 506.66 368.40C515.07 368.40 519.27 368.40 527.68 368.40C536.09 368.40 540.29 368.40 548.70 368.40C557.10 368.40 561.31 368.40 569.71 368.40C578.12 368.40 582.32 368.40 590.73 368.40C599.14 368.40 603.34 368.40 611.75 368.40C620.16 368.40 624.36 368.40 632.77 368.40C641.18 368.40 645.38 368.40 653.79 368.40C662.19 368.40 666.40 368.40 674.80 368.40C683.21 368.40 687.41 368.40 695.82 368.40C704.23 368.40 708.43 368.40 716.84 368.40C725.25 368.40 729.45 368.40 737.86 368.40C746.27 368.40 750.47 368.40 758.88 368.40C767.28 368.40 771.49 368.40 779.89 368.40C788.30 368.40 792.50 368.40 800.91 368.40C809.32 368.40 813.52 368.40 821.93 368.40C830.34 368.40 834.54 368.40 842.95 368.40C851.36 368.40 855.56 368.40 863.97 368.40C872.37 368.40 876.58 368.40 884.98 368.40C893.39 368.40 897.59 368.40 906.00 368.40C914.41 368.40 918.61 368.40 927.02 368.40C935.43 368.40 939.63 368.40 948.04 368.40C956.45 368.40 960.65 368.40 969.06 368.40C977.46 368.40 981.67 368.40 990.07 368.40C998.48 368.40 1002.68 368.40 1011.09 368.40C1019.50 368.40 1023.70 368.40 1032.11 368.40C1040.52 368.40 1044.72 368.40 1053.13 368.40C1061.54 368.40 1065.74 368.40 1074.15 368.40C1082.55 368.40 1086.76 368.40 1095.16 368.40C1103.57 368.40 1107.77 368.40 1116.18 368.40C1124.59 368.40 1128.79 368.40 1137.20 368.40C1145.61 368.40 1149.81 368.40 1158.22 368.40C1166.63 368.40 1170.83 368.40 1179.24 368.40C1187.64 368.40 1191.85 368.40 1200.25 368.40C1208.66 368.40 1212.86 368.40 1221.27 368.40C1229.68 368.40 1233.88 368.40 1242.29 368.40C1250.70 368.40 1254.90 368.40 1263.31 368.40C1271.72 368.40 1275.92 368.40 1284.33 368.40C1292.73 368.40 1296.94 368.40 1305.34 368.40C1313.75 368.40 1317.95 368.40 1326.36 368.40C1334.77 368.40 1338.97 368.40 1347.38 368.40C1355.79 368.40 1359.99 368.40 1368.40 368.40C1376.81 368.40 1381.01 368.40 1389.42 368.40C1397.82 368.40 1402.03 368.40 1410.43 368.40C1418.84 368.40 1423.04 368.40 1431.45 368.40C1439.86 368.40 1444.06 368.40 1452.47 368.40C1460.88 368.40 1465.08 368.40 1473.49 368.40C1481.90 368.40 1486.10 368.40 1494.51 368.40C1502.91 368.40 1507.12 368.40 1515.52 368.40C1523.93 368.40 1528.13 368.40 1536.54 368.40C1544.95 368.40 1549.15 368.40 1557.56 368.40C1565.97 368.40 1570.17 368.40 1578.58 368.40C1586.99 368.40 1591.19 368.40 1599.60 368.40C1608.00 368.40 1612.21 368.40 1620.61 368.40C1629.02 368.40 1633.22 368.40 1641.63 368.40C1650.04 368.40 1654.24 368.40 1662.65 368.40C1671.06 368.40 1675.26 368.40 1683.67 368.40C1692.08 368.40 1696.28 368.40 1704.69 368.40C1713.09 368.40 1717.30 368.40 1725.70 368.40C1734.11 368.40 1738.31 368.40 1746.72 368.40C1755.13 368.40 1759.33 368.40 1767.74 368.40C1776.15 368.40 1780.35 368.40 1788.76 368.40C1797.17 368.40 1801.37 368.40 1809.78 368.40C1818.18 368.40 1822.39 368.40 1830.79 368.40C1839.20 368.40 1843.40 368.40 1851.81 368.40C1860.22 368.40 1864.42 368.40 1872.83 368.40C1881.24 368.40 1885.44 361.51 1893.85 361.51C1902.26 361.51 1906.46 368.40 1914.87 368.40C1923.27 368.40 1927.48 361.51 1935.88 361.51C1944.29 361.51 1956.90 368.40 1956.90 368.40" fill="none" stroke="#4fbcc8" stroke-width="2.5" stroke-linejoin="round" stroke-linecap="round"/><path d="M401.57 356.51L406.57 366.51L396.57 366.51Z" fill="#4fbcc8"/><path d="M1893.85 356.51L1898.85 366.51L1888.85 366.51Z" fill="#4fbcc8"/><path d="M1935.88 356.51L1940.88 366.51L1930.88 366.51Z" fill="#4fbcc8"/></g><g><path d="M86.30 368.40C86.30 368.40 98.91 368.40 107.32 368.40C115.73 368.40 119.93 368.40 128.34 368.40C136.74 368.40 140.95 368.40 149.35 368.40C157.76 368.40 161.96 368.40 170.37 368.40C178.78 368.40 182.98 368.40 191.39 368.40C199.80 368.40 204.00 368.40 212.41 368.40C220.82 368.40 225.02 368.40 233.43 368.40C241.83 368.40 246.04 368.40 254.44 368.40C262.85 368.40 267.05 368.40 275.46 368.40C283.87 368.40 288.07 368.40 296.48 368.40C304.89 368.40 309.09 368.40 317.50 368.40C325.91 368.40 330.11 368.40 338.52 368.40C346.92 368.40 351.13 368.40 359.53 368.40C367.94 368.40 372.14 368.40 380.55 368.40C388.96 368.40 393.16 368.40 401.57 368.40C409.98 368.40 414.18 368.40 422.59 368.40C431.00 368.40 435.20 368.40 443.61 368.40C452.01 368.40 456.22 368.40 464.62 368.40C473.03 368.40 477.23 368.40 485.64 368.40C494.05 368.40 498.25 368.40 506.66 368.40C515.07 368.40 519.27 368.40 527.68 368.40C536.09 368.40 540.29 368.40 548.70 368.40C557.10 368.40 561.31 368.40 569.71 368.40C578.12 368.40 582.32 368.40 590.73 368.40C599.14 368.40 603.34 368.40 611.75 368.40C620.16 368.40 624.36 368.40 632.77 368.40C641.18 368.40 645.38 368.40 653.79 368.40C662.19 368.40 666.40 368.40 674.80 368.40C683.21 368.40 687.41 368.40 695.82 368.40C704.23 368.40 708.43 368.40 716.84 368.40C725.25 368.40 729.45 368.40 737.86 368.40C746.27 368.40 750.47 368.40 758.88 368.40C767.28 368.40 771.49 361.51 779.89 361.51C788.30 361.51 792.50 368.40 800.91 368.40C809.32 368.40 813.52 368.40 821.93 368.40C830.34 368.40 834.54 375.29 842.95 375.29C851.36 375.29 855.56 371.16 863.97 368.40C872.37 365.64 876.58 361.51 884.98 361.51C893.39 361.51 897.59 368.40 906.00 368.40C914.41 368.40 918.61 368.40 927.02 368.40C935.43 368.40 939.63 368.40 948.04 368.40C956.45 368.40 960.65 368.40 969.06 368.40C977.46 368.40 981.67 368.40 990.07 368.40C998.48 368.40 1002.68 368.40 1011.09 368.40C1019.50 368.40 1023.70 368.40 1032.11 368.40C1040.52 368.40 1044.72 368.40 1053.13 368.40C1061.54 368.40 1065.74 368.40 1074.15 368.40C1082.55 368.40 1086.76 368.40 1095.16 368.40C1103.57 368.40 1107.77 361.51 1116.18 361.51C1124.59 361.51 1128.79 368.40 1137.20 368.40C1145.61 368.40 1149.81 368.40 1158.22 368.40C1166.63 368.40 1170.83 368.40 1179.24 368.40C1187.64 368.40 1191.85 368.40 1200.25 368.40C1208.66 368.40 1212.86 368.40 1221.27 368.40C1229.68 368.40 1233.88 375.29 1242.29 375.29C1250.70 375.29 1254.90 372.54 1263.31 368.40C1271.72 364.26 1275.92 354.61 1284.33 354.61C1292.73 354.61 1296.94 364.26 1305.34 368.40C1313.75 372.54 1317.95 375.29 1326.36 375.29C1334.77 375.29 1338.97 368.40 1347.38 368.40C1355.79 368.40 1359.99 368.40 1368.40 368.40C1376.81 368.40 1381.01 368.40 1389.42 368.40C1397.82 368.40 1402.03 368.40 1410.43 368.40C1418.84 368.40 1423.04 368.40 1431.45 368.40C1439.86 368.40 1444.06 375.29 1452.47 375.29C1460.88 375.29 1465.08 368.40 1473.49 368.40C1481.90 368.40 1486.10 368.40 1494.51 368.40C1502.91 368.40 1507.12 368.40 1515.52 368.40C1523.93 368.40 1528.13 354.61 1536.54 354.61C1544.95 354.61 1549.15 368.40 1557.56 368.40C1565.97 368.40 1570.17 368.40 1578.58 368.40C1586.99 368.40 1591.19 368.40 1599.60 368.40C1608.00 368.40 1612.21 368.40 1620.61 368.40C1629.02 368.40 1633.22 368.40 1641.63 368.40C1650.04 368.40 1654.24 368.40 1662.65 368.40C1671.06 368.40 1675.26 368.40 1683.67 368.40C1692.08 368.40 1696.28 368.40 1704.69 368.40C1713.09 368.40 1717.30 368.40 1725.70 368.40C1734.11 368.40 1738.31 368.40 1746.72 368.40C1755.13 368.40 1759.33 368.40 1767.74 368.40C1776.15 368.40 1780.35 375.29 1788.76 375.29C1797.17 375.29 1801.37 368.40 1809.78 368.40C1818.18 368.40 1822.39 368.40 1830.79 368.40C1839.20 368.40 1843.40 368.40 1851.81 368.40C1860.22 368.40 1864.42 361.51 1872.83 361.51C1881.24 361.51 1885.44 365.64 1893.85 368.40C1902.26 371.16 1906.46 375.29 1914.87 375.29C1923.27 375.29 1927.48 371.16 1935.88 368.40C1944.29 365.64 1956.90 361.51 1956.90 361.51" fill="none" stroke="#3f5570" stroke-width="2.5" stroke-linejoin="round" stroke-linecap="round"/><path d="M774.89 356.51L784.89 356.51L779.89 366.51Z" fill="#3f5570"/><path d="M837.95 370.29L847.95 370.29L842.95 380.29Z" fill="#3f5570"/><path d="M879.98 356.51L889.98 356.51L884.98 366.51Z" fill="#3f5570"/><path d="M1111.18 356.51L1121.18 356.51L1116.18 366.51Z" fill="#3f5570"/><path d="M1237.29 370.29L1247.29 370.29L1242.29 380.29Z" fill="#3f5570"/><path d="M1279.33 349.61L1289.33 349.61L1284.33 359.61Z" fill="#3f5570"/><path d="M1321.36 370.29L1331.36 370.29L1326.36 380.29Z" fill="#3f5570"/><path d="M1447.47 370.29L1457.47 370.29L1452.47 380.29Z" fill="#3f5570"/><path d="M1531.54 349.61L1541.54 349.61L1536.54 359.61Z" fill="#3f5570"/><path d="M1783.76 370.29L1793.76 370.29L1788.76 380.29Z" fill="#3f5570"/><path d="M1867.83 356.51L1877.83 356.51L1872.83 366.51Z" fill="#3f5570"/><path d="M1909.87 370.29L1919.87 370.29L1914.87 380.29Z" fill="#3f5570"/><path d="M1951.90 356.51L1961.90 356.51L1956.90 366.51Z" fill="#3f5570"/></g><g><path d="M86.30 368.40C86.30 368.40 98.91 368.40 107.32 368.40C115.73 368.40 119.93 368.40 128.34 368.40C136.74 368.40 140.95 368.40 149.35 368.40C157.76 368.40 161.96 368.40 170.37 368.40C178.78 368.40 182.98 368.40 191.39 368.40C199.80 368.40 204.00 368.40 212.41 368.40C220.82 368.40 225.02 368.40 233.43 368.40C241.83 368.40 246.04 368.40 254.44 368.40C262.85 368.40 267.05 368.40 275.46 368.40C283.87 368.40 288.07 368.40 296.48 368.40C304.89 368.40 309.09 368.40 317.50 368.40C325.91 368.40 330.11 368.40 338.52 368.40C346.92 368.40 351.13 368.40 359.53 368.40C367.94 368.40 372.14 368.40 380.55 368.40C388.96 368.40 393.16 368.40 401.57 368.40C409.98 368.40 414.18 368.40 422.59 368.40C431.00 368.40 435.20 368.40 443.61 368.40C452.01 368.40 456.22 368.40 464.62 368.40C473.03 368.40 477.23 368.40 485.64 368.40C494.05 368.40 498.25 368.40 506.66 368.40C515.07 368.40 519.27 368.40 527.68 368.40C536.09 368.40 540.29 368.40 548.70 368.40C557.10 368.40 561.31 368.40 569.71 368.40C578.12 368.40 582.32 368.40 590.73 368.40C599.14 368.40 603.34 368.40 611.75 368.40C620.16 368.40 624.36 368.40 632.77 368.40C641.18 368.40 645.38 368.40 653.79 368.40C662.19 368.40 666.40 368.40 674.80 368.40C683.21 368.40 687.41 368.40 695.82 368.40C704.23 368.40 708.43 368.40 716.84 368.40C725.25 368.40 729.45 368.40 737.86 368.40C746.27 368.40 750.47 361.51 758.88 361.51C767.28 361.51 771.49 368.40 779.89 368.40C788.30 368.40 792.50 368.40 800.91 368.40C809.32 368.40 813.52 368.40 821.93 368.40C830.34 368.40 834.54 368.40 842.95 368.40C851.36 368.40 855.56 368.40 863.97 368.40C872.37 368.40 876.58 368.40 884.98 368.40C893.39 368.40 897.59 375.29 906.00 375.29C914.41 375.29 918.61 361.51 927.02 361.51C935.43 361.51 939.63 375.29 948.04 375.29C956.45 375.29 960.65 368.40 969.06 368.40C977.46 368.40 981.67 368.40 990.07 368.40C998.48 368.40 1002.68 368.40 1011.09 368.40C1019.50 368.40 1023.70 368.40 1032.11 368.40C1040.52 368.40 1044.72 368.40 1053.13 368.40C1061.54 368.40 1065.74 368.40 1074.15 368.40C1082.55 368.40 1086.76 368.40 1095.16 368.40C1103.57 368.40 1107.77 368.40 1116.18 368.40C1124.59 368.40 1128.79 368.40 1137.20 368.40C1145.61 368.40 1149.81 368.40 1158.22 368.40C1166.63 368.40 1170.83 368.40 1179.24 368.40C1187.64 368.40 1191.85 368.40 1200.25 368.40C1208.66 368.40 1212.86 368.40 1221.27 368.40C1229.68 368.40 1233.88 368.40 1242.29 368.40C1250.70 368.40 1254.90 368.40 1263.31 368.40C1271.72 368.40 1275.92 368.40 1284.33 368.40C1292.73 368.40 1296.94 368.40 1305.34 368.40C1313.75 368.40 1317.95 368.40 1326.36 368.40C1334.77 368.40 1338.97 368.40 1347.38 368.40C1355.79 368.40 1359.99 368.40 1368.40 368.40C1376.81 368.40 1381.01 368.40 1389.42 368.40C1397.82 368.40 1402.03 368.40 1410.43 368.40C1418.84 368.40 1423.04 361.51 1431.45 361.51C1439.86 361.51 1444.06 368.40 1452.47 368.40C1460.88 368.40 1465.08 368.40 1473.49 368.40C1481.90 368.40 1486.10 368.40 1494.51 368.40C1502.91 368.40 1507.12 368.40 1515.52 368.40C1523.93 368.40 1528.13 368.40 1536.54 368.40C1544.95 368.40 1549.15 368.40 1557.56 368.40C1565.97 368.40 1570.17 368.40 1578.58 368.40C1586.99 368.40 1591.19 368.40 1599.60 368.40C1608.00 368.40 1612.21 368.40 1620.61 368.40C1629.02 368.40 1633.22 368.40 1641.63 368.40C1650.04 368.40 1654.24 368.40 1662.65 368.40C1671.06 368.40 1675.26 368.40 1683.67 368.40C1692.08 368.40 1696.28 368.40 1704.69 368.40C1713.09 368.40 1717.30 368.40 1725.70 368.40C1734.11 368.40 1738.31 368.40 1746.72 368.40C1755.13 368.40 1759.33 368.40 1767.74 368.40C1776.15 368.40 1780.35 368.40 1788.76 368.40C1797.17 368.40 1801.37 368.40 1809.78 368.40C1818.18 368.40 1822.39 368.40 1830.79 368.40C1839.20 368.40 1843.40 368.40 1851.81 368.40C1860.22 368.40 1864.42 368.40 1872.83 368.40C1881.24 368.40 1885.44 368.40 1893.85 368.40C1902.26 368.40 1906.46 368.40 1914.87 368.40C1923.27 368.40 1927.48 368.40 1935.88 368.40C1944.29 368.40 1956.90 368.40 1956.90 368.40" fill="none" stroke="#7a3342" stroke-width="2.5" stroke-linejoin="round" stroke-linecap="round"/><circle cx="758.88" cy="361.51" r="5" fill="#7a3342"/><circle cx="906.00" cy="375.29" r="5" fill="#7a3342"/><circle cx="927.02" cy="361.51" r="5" fill="#7a3342"/><circle cx="948.04" cy="375.29" r="5" fill="#7a3342"/><circle cx="1431.45" cy="361.51" r="5" fill="#7a3342"/></g><g><path d="M86.30 368.40C86.30 368.40 98.91 368.40 107.32 368.40C115.73 368.40 119.93 368.40 128.34 368.40C136.74 368.40 140.95 368.40 149.35 368.40C157.76 368.40 161.96 368.40 170.37 368.40C178.78 368.40 182.98 368.40 191.39 368.40C199.80 368.40 204.00 368.40 212.41 368.40C220.82 368.40 225.02 368.40 233.43 368.40C241.83 368.40 246.04 368.40 254.44 368.40C262.85 368.40 267.05 368.40 275.46 368.40C283.87 368.40 288.07 368.40 296.48 368.40C304.89 368.40 309.09 368.40 317.50 368.40C325.91 368.40 330.11 368.40 338.52 368.40C346.92 368.40 351.13 368.40 359.53 368.40C367.94 368.40 372.14 368.40 380.55 368.40C388.96 368.40 393.16 368.40 401.57 368.40C409.98 368.40 414.18 368.40 422.59 368.40C431.00 368.40 435.20 368.40 443.61 368.40C452.01 368.40 456.22 368.40 464.62 368.40C473.03 368.40 477.23 368.40 485.64 368.40C494.05 368.40 498.25 368.40 506.66 368.40C515.07 368.40 519.27 368.40 527.68 368.40C536.09 368.40 540.29 368.40 548.70 368.40C557.10 368.40 561.31 368.40 569.71 368.40C578.12 368.40 582.32 368.40 590.73 368.40C599.14 368.40 603.34 368.40 611.75 368.40C620.16 368.40 624.36 368.40 632.77 368.40C641.18 368.40 645.38 368.40 653.79 368.40C662.19 368.40 666.40 368.40 674.80 368.40C683.21 368.40 687.41 368.40 695.82 368.40C704.23 368.40 708.43 368.40 716.84 368.40C725.25 368.40 729.45 368.40 737.86 368.40C746.27 368.40 750.47 368.40 758.88 368.40C767.28 368.40 771.49 368.40 779.89 368.40C788.30 368.40 792.50 368.40 800.91 368.40C809.32 368.40 813.52 368.40 821.93 368.40C830.34 368.40 834.54 368.40 842.95 368.40C851.36 368.40 855.56 368.40 863.97 368.40C872.37 368.40 876.58 368.40 884.98 368.40C893.39 368.40 897.59 368.40 906.00 368.40C914.41 368.40 918.61 368.40 927.02 368.40C935.43 368.40 939.63 368.40 948.04 368.40C956.45 368.40 960.65 368.40 969.06 368.40C977.46 368.40 981.67 368.40 990.07 368.40C998.48 368.40 1002.68 368.40 1011.09 368.40C1019.50 368.40 1023.70 368.40 1032.11 368.40C1040.52 368.40 1044.72 368.40 1053.13 368.40C1061.54 368.40 1065.74 368.40 1074.15 368.40C1082.55 368.40 1086.76 368.40 1095.16 368.40C1103.57 368.40 1107.77 368.40 1116.18 368.40C1124.59 368.40 1128.79 368.40 1137.20 368.40C1145.61 368.40 1149.81 368.40 1158.22 368.40C1166.63 368.40 1170.83 368.40 1179.24 368.40C1187.64 368.40 1191.85 368.40 1200.25 368.40C1208.66 368.40 1212.86 368.40 1221.27 368.40C1229.68 368.40 1233.88 368.40 1242.29 368.40C1250.70 368.40 1254.90 368.40 1263.31 368.40C1271.72 368.40 1275.92 368.40 1284.33 368.40C1292.73 368.40 1296.94 368.40 1305.34 368.40C1313.75 368.40 1317.95 368.40 1326.36 368.40C1334.77 368.40 1338.97 368.40 1347.38 368.40C1355.79 368.40 1359.99 368.40 1368.40 368.40C1376.81 368.40 1381.01 368.40 1389.42 368.40C1397.82 368.40 1402.03 368.40 1410.43 368.40C1418.84 368.40 1423.04 368.40 1431.45 368.40C1439.86 368.40 1444.06 368.40 1452.47 368.40C1460.88 368.40 1465.08 368.40 1473.49 368.40C1481.90 368.40 1486.10 368.40 1494.51 368.40C1502.91 368.40 1507.12 368.40 1515.52 368.40C1523.93 368.40 1528.13 368.40 1536.54 368.40C1544.95 368.40 1549.15 368.40 1557.56 368.40C1565.97 368.40 1570.17 368.40 1578.58 368.40C1586.99 368.40 1591.19 361.51 1599.60 361.51C1608.00 361.51 1612.21 375.29 1620.61 375.29C1629.02 375.29 1633.22 368.40 1641.63 368.40C1650.04 368.40 1654.24 368.40 1662.65 368.40C1671.06 368.40 1675.26 368.40 1683.67 368.40C1692.08 368.40 1696.28 368.40 1704.69 368.40C1713.09 368.40 1717.30 368.40 1725.70 368.40C1734.11 368.40 1738.31 368.40 1746.72 368.40C1755.13 368.40 1759.33 368.40 1767.74 368.40C1776.15 368.40 1780.35 368.40 1788.76 368.40C1797.17 368.40 1801.37 368.40 1809.78 368.40C1818.18 368.40 1822.39 368.40 1830.79 368.40C1839.20 368.40 1843.40 368.40 1851.81 368.40C1860.22 368.40 1864.42 368.40 1872.83 368.40C1881.24 368.40 1885.44 368.40 1893.85 368.40C1902.26 368.40 1906.46 368.40 1914.87 368.40C1923.27 368.40 1927.48 368.40 1935.88 368.40C1944.29 368.40 1956.90 368.40 1956.90 368.40" fill="none" stroke="#b0282a" stroke-width="2.5" stroke-linejoin="round" stroke-linecap="round"/><path d="M1599.60 356.51L1604.60 361.51L1599.60 366.51L1594.60 361.51Z" fill="#b0282a"/><path d="M1620.61 370.29L1625.61 375.29L1620.61 380.29L1615.61 375.29Z" fill="#b0282a"/></g><g><path d="M86.30 361.51C86.30 361.51 98.91 368.40 107.32 368.40C115.73 368.40 119.93 368.40 128.34 368.40C136.74 368.40 140.95 368.40 149.35 368.40C157.76 368.40 161.96 368.40 170.37 368.40C178.78 368.40 182.98 368.40 191.39 368.40C199.80 368.40 204.00 368.40 212.41 368.40C220.82 368.40 225.02 368.40 233.43 368.40C241.83 368.40 246.04 368.40 254.44 368.40C262.85 368.40 267.05 368.40 275.46 368.40C283.87 368.40 288.07 368.40 296.48 368.40C304.89 368.40 309.09 368.40 317.50 368.40C325.91 368.40 330.11 368.40 338.52 368.40C346.92 368.40 351.13 368.40 359.53 368.40C367.94 368.40 372.14 368.40 380.55 368.40C388.96 368.40 393.16 368.40 401.57 368.40C409.98 368.40 414.18 368.40 422.59 368.40C431.00 368.40 435.20 368.40 443.61 368.40C452.01 368.40 456.22 368.40 464.62 368.40C473.03 368.40 477.23 368.40 485.64 368.40C494.05 368.40 498.25 368.40 506.66 368.40C515.07 368.40 519.27 368.40 527.68 368.40C536.09 368.40 540.29 368.40 548.70 368.40C557.10 368.40 561.31 368.40 569.71 368.40C578.12 368.40 582.32 368.40 590.73 368.40C599.14 368.40 603.34 368.40 611.75 368.40C620.16 368.40 624.36 368.40 632.77 368.40C641.18 368.40 645.38 368.40 653.79 368.40C662.19 368.40 666.40 368.40 674.80 368.40C683.21 368.40 687.41 368.40 695.82 368.40C704.23 368.40 708.43 368.40 716.84 368.40C725.25 368.40 729.45 368.40 737.86 368.40C746.27 368.40 750.47 368.40 758.88 368.40C767.28 368.40 771.49 368.40 779.89 368.40C788.30 368.40 792.50 368.40 800.91 368.40C809.32 368.40 813.52 368.40 821.93 368.40C830.34 368.40 834.54 368.40 842.95 368.40C851.36 368.40 855.56 368.40 863.97 368.40C872.37 368.40 876.58 368.40 884.98 368.40C893.39 368.40 897.59 368.40 906.00 368.40C914.41 368.40 918.61 368.40 927.02 368.40C935.43 368.40 939.63 368.40 948.04 368.40C956.45 368.40 960.65 368.40 969.06 368.40C977.46 368.40 981.67 368.40 990.07 368.40C998.48 368.40 1002.68 368.40 1011.09 368.40C1019.50 368.40 1023.70 368.40 1032.11 368.40C1040.52 368.40 1044.72 368.40 1053.13 368.40C1061.54 368.40 1065.74 368.40 1074.15 368.40C1082.55 368.40 1086.76 368.40 1095.16 368.40C1103.57 368.40 1107.77 368.40 1116.18 368.40C1124.59 368.40 1128.79 368.40 1137.20 368.40C1145.61 368.40 1149.81 368.40 1158.22 368.40C1166.63 368.40 1170.83 368.40 1179.24 368.40C1187.64 368.40 1191.85 368.40 1200.25 368.40C1208.66 368.40 1212.86 368.40 1221.27 368.40C1229.68 368.40 1233.88 368.40 1242.29 368.40C1250.70 368.40 1254.90 368.40 1263.31 368.40C1271.72 368.40 1275.92 368.40 1284.33 368.40C1292.73 368.40 1296.94 368.40 1305.34 368.40C1313.75 368.40 1317.95 368.40 1326.36 368.40C1334.77 368.40 1338.97 368.40 1347.38 368.40C1355.79 368.40 1359.99 368.40 1368.40 368.40C1376.81 368.40 1381.01 368.40 1389.42 368.40C1397.82 368.40 1402.03 368.40 1410.43 368.40C1418.84 368.40 1423.04 368.40 1431.45 368.40C1439.86 368.40 1444.06 368.40 1452.47 368.40C1460.88 368.40 1465.08 368.40 1473.49 368.40C1481.90 368.40 1486.10 368.40 1494.51 368.40C1502.91 368.40 1507.12 368.40 1515.52 368.40C1523.93 368.40 1528.13 368.40 1536.54 368.40C1544.95 368.40 1549.15 368.40 1557.56 368.40C1565.97 368.40 1570.17 368.40 1578.58 368.40C1586.99 368.40 1591.19 368.40 1599.60 368.40C1608.00 368.40 1612.21 368.40 1620.61 368.40C1629.02 368.40 1633.22 368.40 1641.63 368.40C1650.04 368.40 1654.24 368.40 1662.65 368.40C1671.06 368.40 1675.26 368.40 1683.67 368.40C1692.08 368.40 1696.28 368.40 1704.69 368.40C1713.09 368.40 1717.30 368.40 1725.70 368.40C1734.11 368.40 1738.31 368.40 1746.72 368.40C1755.13 368.40 1759.33 368.40 1767.74 368.40C1776.15 368.40 1780.35 368.40 1788.76 368.40C1797.17 368.40 1801.37 368.40 1809.78 368.40C1818.18 368.40 1822.39 368.40 1830.79 368.40C1839.20 368.40 1843.40 368.40 1851.81 368.40C1860.22 368.40 1864.42 368.40 1872.83 368.40C1881.24 368.40 1885.44 368.40 1893.85 368.40C1902.26 368.40 1906.46 368.40 1914.87 368.40C1923.27 368.40 1927.48 368.40 1935.88 368.40C1944.29 368.40 1956.90 368.40 1956.90 368.40" fill="none" stroke="#2e8f56" stroke-width="2.5" stroke-linejoin="round" stroke-linecap="round"/><rect x="81.30" y="356.51" width="10" height="10" fill="#2e8f56"/></g><g><path d="M86.30 368.40C86.30 368.40 98.91 368.40 107.32 368.40C115.73 368.40 119.93 368.40 128.34 368.40C136.74 368.40 140.95 368.40 149.35 368.40C157.76 368.40 161.96 368.40 170.37 368.40C178.78 368.40 182.98 368.40 191.39 368.40C199.80 368.40 204.00 368.40 212.41 368.40C220.82 368.40 225.02 368.40 233.43 368.40C241.83 368.40 246.04 368.40 254.44 368.40C262.85 368.40 267.05 368.40 275.46 368.40C283.87 368.40 288.07 368.40 296.48 368.40C304.89 368.40 309.09 368.40 317.50 368.40C325.91 368.40 330.11 368.40 338.52 368.40C346.92 368.40 351.13 368.40 359.53 368.40C367.94 368.40 372.14 368.40 380.55 368.40C388.96 368.40 393.16 368.40 401.57 368.40C409.98 368.40 414.18 368.40 422.59 368.40C431.00 368.40 435.20 368.40 443.61 368.40C452.01 368.40 456.22 368.40 464.62 368.40C473.03 368.40 477.23 368.40 485.64 368.40C494.05 368.40 498.25 368.40 506.66 368.40C515.07 368.40 519.27 368.40 527.68 368.40C536.09 368.40 540.29 368.40 548.70 368.40C557.10 368.40 561.31 368.40 569.71 368.40C578.12 368.40 582.32 368.40 590.73 368.40C599.14 368.40 603.34 368.40 611.75 368.40C620.16 368.40 624.36 368.40 632.77 368.40C641.18 368.40 645.38 368.40 653.79 368.40C662.19 368.40 666.40 368.40 674.80 368.40C683.21 368.40 687.41 368.40 695.82 368.40C704.23 368.40 708.43 368.40 716.84 368.40C725.25 368.40 729.45 368.40 737.86 368.40C746.27 368.40 750.47 368.40 758.88 368.40C767.28 368.40 771.49 368.40 779.89 368.40C788.30 368.40 792.50 368.40 800.91 368.40C809.32 368.40 813.52 368.40 821.93 368.40C830.34 368.40 834.54 368.40 842.95 368.40C851.36 368.40 855.56 368.40 863.97 368.40C872.37 368.40 876.58 368.40 884.98 368.40C893.39 368.40 897.59 368.40 906.00 368.40C914.41 368.40 918.61 368.40 927.02 368.40C935.43 368.40 939.63 368.40 948.04 368.40C956.45 368.40 960.65 368.40 969.06 368.40C977.46 368.40 981.67 368.40 990.07 368.40C998.48 368.40 1002.68 368.40 1011.09 368.40C1019.50 368.40 1023.70 368.40 1032.11 368.40C1040.52 368.40 1044.72 368.40 1053.13 368.40C1061.54 368.40 1065.74 368.40 1074.15 368.40C1082.55 368.40 1086.76 368.40 1095.16 368.40C1103.57 368.40 1107.77 368.40 1116.18 368.40C1124.59 368.40 1128.79 368.40 1137.20 368.40C1145.61 368.40 1149.81 368.40 1158.22 368.40C1166.63 368.40 1170.83 368.40 1179.24 368.40C1187.64 368.40 1191.85 368.40 1200.25 368.40C1208.66 368.40 1212.86 368.40 1221.27 368.40C1229.68 368.40 1233.88 368.40 1242.29 368.40C1250.70 368.40 1254.90 368.40 1263.31 368.40C1271.72 368.40 1275.92 368.40 1284.33 368.40C1292.73 368.40 1296.94 368.40 1305.34 368.40C1313.75 368.40 1317.95 368.40 1326.36 368.40C1334.77 368.40 1338.97 368.40 1347.38 368.40C1355.79 368.40 1359.99 368.40 1368.40 368.40C1376.81 368.40 1381.01 368.40 1389.42 368.40C1397.82 368.40 1402.03 368.40 1410.43 368.40C1418.84 368.40 1423.04 368.40 1431.45 368.40C1439.86 368.40 1444.06 368.40 1452.47 368.40C1460.88 368.40 1465.08 368.40 1473.49 368.40C1481.90 368.40 1486.10 368.40 1494.51 368.40C1502.91 368.40 1507.12 368.40 1515.52 368.40C1523.93 368.40 1528.13 368.40 1536.54 368.40C1544.95 368.40 1549.15 368.40 1557.56 368.40C1565.97 368.40 1570.17 368.40 1578.58 368.40C1586.99 368.40 1591.19 368.40 1599.60 368.40C1608.00 368.40 1612.21 368.40 1620.61 368.40C1629.02 368.40 1633.22 368.40 1641.63 368.40C1650.04 368.40 1654.24 368.40 1662.65 368.40C1671.06 368.40 1675.26 368.40 1683.67 368.40C1692.08 368.40 1696.28 368.40 1704.69 368.40C1713.09 368.40 1717.30 368.40 1725.70 368.40C1734.11 368.40 1738.31 368.40 1746.72 368.40C1755.13 368.40 1759.33 368.40 1767.74 368.40C1776.15 368.40 1780.35 368.40 1788.76 368.40C1797.17 368.40 1801.37 368.40 1809.78 368.40C1818.18 368.40 1822.39 368.40 1830.79 368.40C1839.20 368.40 1843.40 368.40 1851.81 368.40C1860.22 368.40 1864.42 368.40 1872.83 368.40C1881.24 368.40 1885.44 368.40 1893.85 368.40C1902.26 368.40 1906.46 368.40 1914.87 368.40C1923.27 368.40 1927.48 368.40 1935.88 368.40C1944.29 368.40 1956.90 368.40 1956.90 368.40" fill="none" stroke="#4cf03c" stroke-width="2.5" stroke-linejoin="round" stroke-linecap="round"/></g><g><path d="M86.30 368.40C86.30 368.40 98.91 368.40 107.32 368.40C115.73 368.40 119.93 368.40 128.34 368.40C136.74 368.40 140.95 368.40 149.35 368.40C157.76 368.40 161.96 368.40 170.37 368.40C178.78 368.40 182.98 368.40 191.39 368.40C199.80 368.40 204.00 368.40 212.41 368.40C220.82 368.40 225.02 361.51 233.43 361.51C241.83 361.51 246.04 368.40 254.44 368.40C262.85 368.40 267.05 368.40 275.46 368.40C283.87 368.40 288.07 375.29 296.48 375.29C304.89 375.29 309.09 375.29 317.50 375.29C325.91 375.29 330.11 361.51 338.52 361.51C346.92 361.51 351.13 365.64 359.53 368.40C367.94 371.16 372.14 375.29 380.55 375.29C388.96 375.29 393.16 368.40 401.57 368.40C409.98 368.40 414.18 368.40 422.59 368.40C431.00 368.40 435.20 368.40 443.61 368.40C452.01 368.40 456.22 368.40 464.62 368.40C473.03 368.40 477.23 361.51 485.64 361.51C494.05 361.51 498.25 368.40 506.66 368.40C515.07 368.40 519.27 368.40 527.68 368.40C536.09 368.40 540.29 368.40 548.70 368.40C557.10 368.40 561.31 368.40 569.71 368.40C578.12 368.40 582.32 375.29 590.73 375.29C599.14 375.29 603.34 361.51 611.75 361.51C620.16 361.51 624.36 368.40 632.77 368.40C641.18 368.40 645.38 368.40 653.79 368.40C662.19 368.40 666.40 368.40 674.80 368.40C683.21 368.40 687.41 368.40 695.82 368.40C704.23 368.40 708.43 368.40 716.84 368.40C725.25 368.40 729.45 375.29 737.86 375.29C746.27 375.29 750.47 368.40 758.88 368.40C767.28 368.40 771.49 368.40 779.89 368.40C788.30 368.40 792.50 368.40 800.91 368.40C809.32 368.40 813.52 368.40 821.93 368.40C830.34 368.40 834.54 361.51 842.95 361.51C851.36 361.51 855.56 365.64 863.97 368.40C872.37 371.16 876.58 375.29 884.98 375.29C893.39 375.29 897.59 368.40 906.00 368.40C914.41 368.40 918.61 368.40 927.02 368.40C935.43 368.40 939.63 368.40 948.04 368.40C956.45 368.40 960.65 368.40 969.06 368.40C977.46 368.40 981.67 368.40 990.07 368.40C998.48 368.40 1002.68 368.40 1011.09 368.40C1019.50 368.40 1023.70 368.40 1032.11 368.40C1040.52 368.40 1044.72 368.40 1053.13 368.40C1061.54 368.40 1065.74 368.40 1074.15 368.40C1082.55 368.40 1086.76 368.40 1095.16 368.40C1103.57 368.40 1107.77 368.40 1116.18 368.40C1124.59 368.40 1128.79 375.29 1137.20 375.29C1145.61 375.29 1149.81 368.40 1158.22 368.40C1166.63 368.40 1170.83 368.40 1179.24 368.40C1187.64 368.40 1191.85 361.51 1200.25 361.51C1208.66 361.51 1212.86 365.64 1221.27 368.40C1229.68 371.16 1233.88 375.29 1242.29 375.29C1250.70 375.29 1254.90 361.51 1263.31 361.51C1271.72 361.51 1275.92 368.40 1284.33 368.40C1292.73 368.40 1296.94 368.40 1305.34 368.40C1313.75 368.40 1317.95 368.40 1326.36 368.40C1334.77 368.40 1338.97 368.40 1347.38 368.40C1355.79 368.40 1359.99 368.40 1368.40 368.40C1376.81 368.40 1381.01 361.51 1389.42 361.51C1397.82 361.51 1402.03 368.40 1410.43 368.40C1418.84 368.40 1423.04 368.40 1431.45 368.40C1439.86 368.40 1444.06 368.40 1452.47 368.40C1460.88 368.40 1465.08 368.40 1473.49 368.40C1481.90 368.40 1486.10 368.40 1494.51 368.40C1502.91 368.40 1507.12 368.40 1515.52 368.40C1523.93 368.40 1528.13 368.40 1536.54 368.40C1544.95 368.40 1549.15 368.40 1557.56 368.40C1565.97 368.40 1570.17 368.40 1578.58 368.40C1586.99 368.40 1591.19 368.40 1599.60 368.40C1608.00 368.40 1612.21 368.40 1620.61 368.40C1629.02 368.40 1633.22 368.40 1641.63 368.40C1650.04 368.40 1654.24 361.51 1662.65 361.51C1671.06 361.51 1675.26 365.64 1683.67 368.40C1692.08 371.16 1696.28 375.29 1704.69 375.29C1713.09 375.29 1717.30 368.40 1725.70 368.40C1734.11 368.40 1738.31 368.40 1746.72 368.40C1755.13 368.40 1759.33 368.40 1767.74 368.40C1776.15 368.40 1780.35 361.51 1788.76 361.51C1797.17 361.51 1801.37 368.40 1809.78 368.40C1818.18 368.40 1822.39 368.40 1830.79 368.40C1839.20 368.40 1843.40 368.40 1851.81 368.40C1860.22 368.40 1864.42 368.40 1872.83 368.40C1881.24 368.40 1885.44 368.40 1893.85 368.40C1902.26 368.40 1906.46 375.29 1914.87 375.29C1923.27 375.29 1927.48 368.40 1935.88 368.40C1944.29 368.40 1956.90 368.40 1956.90 368.40" fill="none" stroke="#5cc2cb" stroke-width="2.5" stroke-linejoin="round" stroke-linecap="round"/><path d="M228.43 356.51L238.43 356.51L233.43 366.51Z" fill="#5cc2cb"/><path d="M291.48 370.29L301.48 370.29L296.48 380.29Z" fill="#5cc2cb"/><path d="M312.50 370.29L322.50 370.29L317.50 380.29Z" fill="#5cc2cb"/><path d="M333.52 356.51L343.52 356.51L338.52 366.51Z" fill="#5cc2cb"/><path d="M375.55 370.29L385.55 370.29L380.55 380.29Z" fill="#5cc2cb"/><path d="M480.64 356.51L490.64 356.51L485.64 366.51Z" fill="#5cc2cb"/><path d="M585.73 370.29L595.73 370.29L590.73 380.29Z" fill="#5cc2cb"/><path d="M606.75 356.51L616.75 356.51L611.75 366.51Z" fill="#5cc2cb"/><path d="M732.86 370.29L742.86 370.29L737.86 380.29Z" fill="#5cc2cb"/><path d="M837.95 356.51L847.95 356.51L842.95 366.51Z" fill="#5cc2cb"/><path d="M879.98 370.29L889.98 370.29L884.98 380.29Z" fill="#5cc2cb"/><path d="M1132.20 370.29L1142.20 370.29L1137.20 380.29Z" fill="#5cc2cb"/><path d="M1195.25 356.51L1205.25 356.51L1200.25 366.51Z" fill="#5cc2cb"/><path d="M1237.29 370.29L1247.29 370.29L1242.29 380.29Z" fill="#5cc2cb"/><path d="M1258.31 356.51L1268.31 356.51L1263.31 366.51Z" fill="#5cc2cb"/><path d="M1384.42 356.51L1394.42 356.51L1389.42 366.51Z" fill="#5cc2cb"/><path d="M1657.65 356.51L1667.65 356.51L1662.65 366.51Z" fill="#5cc2cb"/><path d="M1699.69 370.29L1709.69 370.29L1704.69 380.29Z" fill="#5cc2cb"/><path d="M1783.76 356.51L1793.76 356.51L1788.76 366.51Z" fill="#5cc2cb"/><path d="M1909.87 370.29L1919.87 370.29L1914.87 380.29Z" fill="#5cc2cb"/></g><g><path d="M86.30 368.40C86.30 368.40 98.91 368.40 107.32 368.40C115.73 368.40 119.93 368.40 128.34 368.40C136.74 368.40 140.95 368.40 149.35 368.40C157.76 368.40 161.96 368.40 170.37 368.40C178.78 368.40 182.98 368.40 191.39 368.40C199.80 368.40 204.00 368.40 212.41 368.40C220.82 368.40 225.02 368.40 233.43 368.40C241.83 368.40 246.04 368.40 254.44 368.40C262.85 368.40 267.05 368.40 275.46 368.40C283.87 368.40 288.07 368.40 296.48 368.40C304.89 368.40 309.09 368.40 317.50 368.40C325.91 368.40 330.11 368.40 338.52 368.40C346.92 368.40 351.13 368.40 359.53 368.40C367.94 368.40 372.14 368.40 380.55 368.40C388.96 368.40 393.16 368.40 401.57 368.40C409.98 368.40 414.18 368.40 422.59 368.40C431.00 368.40 435.20 368.40 443.61 368.40C452.01 368.40 456.22 368.40 464.62 368.40C473.03 368.40 477.23 368.40 485.64 368.40C494.05 368.40 498.25 368.40 506.66 368.40C515.07 368.40 519.27 368.40 527.68 368.40C536.09 368.40 540.29 368.40 548.70 368.40C557.10 368.40 561.31 368.40 569.71 368.40C578.12 368.40 582.32 368.40 590.73 368.40C599.14 368.40 603.34 368.40 611.75 368.40C620.16 368.40 624.36 368.40 632.77 368.40C641.18 368.40 645.38 368.40 653.79 368.40C662.19 368.40 666.40 368.40 674.80 368.40C683.21 368.40 687.41 368.40 695.82 368.40C704.23 368.40 708.43 368.40 716.84 368.40C725.25 368.40 729.45 368.40 737.86 368.40C746.27 368.40 750.47 368.40 758.88 368.40C767.28 368.40 771.49 368.40 779.89 368.40C788.30 368.40 792.50 368.40 800.91 368.40C809.32 368.40 813.52 368.40 821.93 368.40C830.34 368.40 834.54 368.40 842.95 368.40C851.36 368.40 855.56 368.40 863.97 368.40C872.37 368.40 876.58 368.40 884.98 368.40C893.39 368.40 897.59 368.40 906.00 368.40C914.41 368.40 918.61 368.40 927.02 368.40C935.43 368.40 939.63 368.40 948.04 368.40C956.45 368.40 960.65 368.40 969.06 368.40C977.46 368.40 981.67 368.40 990.07 368.40C998.48 368.40 1002.68 368.40 1011.09 368.40C1019.50 368.40 1023.70 368.40 1032.11 368.40C1040.52 368.40 1044.72 368.40 1053.13 368.40C1061.54 368.40 1065.74 368.40 1074.15 368.40C1082.55 368.40 1086.76 368.40 1095.16 368.40C1103.57 368.40 1107.77 368.40 1116.18 368.40C1124.59 368.40 1128.79 368.40 1137.20 368.40C1145.61 368.40 1149.81 368.40 1158.22 368.40C1166.63 368.40 1170.83 368.40 1179.24 368.40C1187.64 368.40 1191.85 368.40 1200.25 368.40C1208.66 368.40 1212.86 368.40 1221.27 368.40C1229.68 368.40 1233.88 368.40 1242.29 368.40C1250.70 368.40 1254.90 368.40 1263.31 368.40C1271.72 368.40 1275.92 368.40 1284.33 368.40C1292.73 368.40 1296.94 368.40 1305.34 368.40C1313.75 368.40 1317.95 368.40 1326.36 368.40C1334.77 368.40 1338.97 368.40 1347.38 368.40C1355.79 368.40 1359.99 368.40 1368.40 368.40C1376.81 368.40 1381.01 368.40 1389.42 368.40C1397.82 368.40 1402.03 368.40 1410.43 368.40C1418.84 368.40 1423.04 368.40 1431.45 368.40C1439.86 368.40 1444.06 368.40 1452.47 368.40C1460.88 368.40 1465.08 368.40 1473.49 368.40C1481.90 368.40 1486.10 368.40 1494.51 368.40C1502.91 368.40 1507.12 368.40 1515.52 368.40C1523.93 368.40 1528.13 368.40 1536.54 368.40C1544.95 368.40 1549.15 368.40 1557.56 368.40C1565.97 368.40 1570.17 368.40 1578.58 368.40C1586.99 368.40 1591.19 368.40 1599.60 368.40C1608.00 368.40 1612.21 368.40 1620.61 368.40C1629.02 368.40 1633.22 368.40 1641.63 368.40C1650.04 368.40 1654.24 368.40 1662.65 368.40C1671.06 368.40 1675.26 368.40 1683.67 368.40C1692.08 368.40 1696.28 368.40 1704.69 368.40C1713.09 368.40 1717.30 368.40 1725.70 368.40C1734.11 368.40 1738.31 368.40 1746.72 368.40C1755.13 368.40 1759.33 368.40 1767.74 368.40C1776.15 368.40 1780.35 368.40 1788.76 368.40C1797.17 368.40 1801.37 368.40 1809.78 368.40C1818.18 368.40 1822.39 368.40 1830.79 368.40C1839.20 368.40 1843.40 368.40 1851.81 368.40C1860.22 368.40 1864.42 368.40 1872.83 368.40C1881.24 368.40 1885.44 368.40 1893.85 368.40C1902.26 368.40 1906.46 368.40 1914.87 368.40C1923.27 368.40 1927.48 368.40 1935.88 368.40C1944.29 368.40 1956.90 368.40 1956.90 368.40" fill="none" stroke="#b040c4" stroke-width="2.5" stroke-linejoin="round" stroke-linecap="round"/></g><g><path d="M86.30 368.40C86.30 368.40 98.91 368.40 107.32 368.40C115.73 368.40 119.93 368.40 128.34 368.40C136.74 368.40 140.95 368.40 149.35 368.40C157.76 368.40 161.96 368.40 170.37 368.40C178.78 368.40 182.98 368.40 191.39 368.40C199.80 368.40 204.00 368.40 212.41 368.40C220.82 368.40 225.02 368.40 233.43 368.40C241.83 368.40 246.04 368.40 254.44 368.40C262.85 368.40 267.05 368.40 275.46 368.40C283.87 368.40 288.07 368.40 296.48 368.40C304.89 368.40 309.09 368.40 317.50 368.40C325.91 368.40 330.11 368.40 338.52 368.40C346.92 368.40 351.13 368.40 359.53 368.40C367.94 368.40 372.14 368.40 380.55 368.40C388.96 368.40 393.16 368.40 401.57 368.40C409.98 368.40 414.18 368.40 422.59 368.40C431.00 368.40 435.20 368.40 443.61 368.40C452.01 368.40 456.22 368.40 464.62 368.40C473.03 368.40 477.23 368.40 485.64 368.40C494.05 368.40 498.25 368.40 506.66 368.40C515.07 368.40 519.27 368.40 527.68 368.40C536.09 368.40 540.29 368.40 548.70 368.40C557.10 368.40 561.31 368.40 569.71 368.40C578.12 368.40 582.32 368.40 590.73 368.40C599.14 368.40 603.34 368.40 611.75 368.40C620.16 368.40 624.36 368.40 632.77 368.40C641.18 368.40 645.38 368.40 653.79 368.40C662.19 368.40 666.40 368.40 674.80 368.40C683.21 368.40 687.41 368.40 695.82 368.40C704.23 368.40 708.43 368.40 716.84 368.40C725.25 368.40 729.45 368.40 737.86 368.40C746.27 368.40 750.47 368.40 758.88 368.40C767.28 368.40 771.49 368.40 779.89 368.40C788.30 368.40 792.50 368.40 800.91 368.40C809.32 368.40 813.52 368.40 821.93 368.40C830.34 368.40 834.54 368.40 842.95 368.40C851.36 368.40 855.56 368.40 863.97 368.40C872.37 368.40 876.58 368.40 884.98 368.40C893.39 368.40 897.59 368.40 906.00 368.40C914.41 368.40 918.61 368.40 927.02 368.40C935.43 368.40 939.63 368.40 948.04 368.40C956.45 368.40 960.65 368.40 969.06 368.40C977.46 368.40 981.67 368.40 990.07 368.40C998.48 368.40 1002.68 368.40 1011.09 368.40C1019.50 368.40 1023.70 368.40 1032.11 368.40C1040.52 368.40 1044.72 368.40 1053.13 368.40C1061.54 368.40 1065.74 368.40 1074.15 368.40C1082.55 368.40 1086.76 368.40 1095.16 368.40C1103.57 368.40 1107.77 368.40 1116.18 368.40C1124.59 368.40 1128.79 368.40 1137.20 368.40C1145.61 368.40 1149.81 368.40 1158.22 368.40C1166.63 368.40 1170.83 368.40 1179.24 368.40C1187.64 368.40 1191.85 368.40 1200.25 368.40C1208.66 368.40 1212.86 368.40 1221.27 368.40C1229.68 368.40 1233.88 368.40 1242.29 368.40C1250.70 368.40 1254.90 368.40 1263.31 368.40C1271.72 368.40 1275.92 368.40 1284.33 368.40C1292.73 368.40 1296.94 368.40 1305.34 368.40C1313.75 368.40 1317.95 368.40 1326.36 368.40C1334.77 368.40 1338.97 368.40 1347.38 368.40C1355.79 368.40 1359.99 368.40 1368.40 368.40C1376.81 368.40 1381.01 368.40 1389.42 368.40C1397.82 368.40 1402.03 368.40 1410.43 368.40C1418.84 368.40 1423.04 368.40 1431.45 368.40C1439.86 368.40 1444.06 368.40 1452.47 368.40C1460.88 368.40 1465.08 368.40 1473.49 368.40C1481.90 368.40 1486.10 368.40 1494.51 368.40C1502.91 368.40 1507.12 368.40 1515.52 368.40C1523.93 368.40 1528.13 368.40 1536.54 368.40C1544.95 368.40 1549.15 368.40 1557.56 368.40C1565.97 368.40 1570.17 368.40 1578.58 368.40C1586.99 368.40 1591.19 368.40 1599.60 368.40C1608.00 368.40 1612.21 368.40 1620.61 368.40C1629.02 368.40 1633.22 368.40 1641.63 368.40C1650.04 368.40 1654.24 368.40 1662.65 368.40C1671.06 368.40 1675.26 368.40 1683.67 368.40C1692.08 368.40 1696.28 368.40 1704.69 368.40C1713.09 368.40 1717.30 368.40 1725.70 368.40C1734.11 368.40 1738.31 368.40 1746.72 368.40C1755.13 368.40 1759.33 368.40 1767.74 368.40C1776.15 368.40 1780.35 368.40 1788.76 368.40C1797.17 368.40 1801.37 368.40 1809.78 368.40C1818.18 368.40 1822.39 368.40 1830.79 368.40C1839.20 368.40 1843.40 368.40 1851.81 368.40C1860.22 368.40 1864.42 368.40 1872.83 368.40C1881.24 368.40 1885.44 368.40 1893.85 368.40C1902.26 368.40 1906.46 368.40 1914.87 368.40C1923.27 368.40 1927.48 368.40 1935.88 368.40C1944.29 368.40 1956.90 368.40 1956.90 368.40" fill="none" stroke="#9c66a8" stroke-width="2.5" stroke-linejoin="round" stroke-linecap="round"/></g><g><path d="M86.30 375.29C86.30 375.29 98.91 368.40 107.32 368.40C115.73 368.40 119.93 368.40 128.34 368.40C136.74 368.40 140.95 368.40 149.35 368.40C157.76 368.40 161.96 368.40 170.37 368.40C178.78 368.40 182.98 368.40 191.39 368.40C199.80 368.40 204.00 368.40 212.41 368.40C220.82 368.40 225.02 368.40 233.43 368.40C241.83 368.40 246.04 368.40 254.44 368.40C262.85 368.40 267.05 368.40 275.46 368.40C283.87 368.40 288.07 368.40 296.48 368.40C304.89 368.40 309.09 368.40 317.50 368.40C325.91 368.40 330.11 368.40 338.52 368.40C346.92 368.40 351.13 368.40 359.53 368.40C367.94 368.40 372.14 368.40 380.55 368.40C388.96 368.40 393.16 368.40 401.57 368.40C409.98 368.40 414.18 368.40 422.59 368.40C431.00 368.40 435.20 368.40 443.61 368.40C452.01 368.40 456.22 368.40 464.62 368.40C473.03 368.40 477.23 368.40 485.64 368.40C494.05 368.40 498.25 361.51 506.66 361.51C515.07 361.51 519.27 375.29 527.68 375.29C536.09 375.29 540.29 368.40 548.70 368.40C557.10 368.40 561.31 375.29 569.71 375.29C578.12 375.29 582.32 361.51 590.73 361.51C599.14 361.51 603.34 375.29 611.75 375.29C620.16 375.29 624.36 368.40 632.77 368.40C641.18 368.40 645.38 368.40 653.79 368.40C662.19 368.40 666.40 361.51 674.80 361.51C683.21 361.51 687.41 365.64 695.82 368.40C704.23 371.16 708.43 375.29 716.84 375.29C725.25 375.29 729.45 368.40 737.86 368.40C746.27 368.40 750.47 368.40 758.88 368.40C767.28 368.40 771.49 368.40 779.89 368.40C788.30 368.40 792.50 368.40 800.91 368.40C809.32 368.40 813.52 368.40 821.93 368.40C830.34 368.40 834.54 368.40 842.95 368.40C851.36 368.40 855.56 368.40 863.97 368.40C872.37 368.40 876.58 368.40 884.98 368.40C893.39 368.40 897.59 361.51 906.00 361.51C914.41 361.51 918.61 375.29 927.02 375.29C935.43 375.29 939.63 368.40 948.04 368.40C956.45 368.40 960.65 368.40 969.06 368.40C977.46 368.40 981.67 368.40 990.07 368.40C998.48 368.40 1002.68 368.40 1011.09 368.40C1019.50 368.40 1023.70 361.51 1032.11 361.51C1040.52 361.51 1044.72 375.29 1053.13 375.29C1061.54 375.29 1065.74 368.40 1074.15 368.40C1082.55 368.40 1086.76 368.40 1095.16 368.40C1103.57 368.40 1107.77 368.40 1116.18 368.40C1124.59 368.40 1128.79 368.40 1137.20 368.40C1145.61 368.40 1149.81 368.40 1158.22 368.40C1166.63 368.40 1170.83 368.40 1179.24 368.40C1187.64 368.40 1191.85 368.40 1200.25 368.40C1208.66 368.40 1212.86 361.51 1221.27 361.51C1229.68 361.51 1233.88 368.40 1242.29 368.40C1250.70 368.40 1254.90 368.40 1263.31 368.40C1271.72 368.40 1275.92 375.29 1284.33 375.29C1292.73 375.29 1296.94 368.40 1305.34 368.40C1313.75 368.40 1317.95 368.40 1326.36 368.40C1334.77 368.40 1338.97 361.51 1347.38 361.51C1355.79 361.51 1359.99 375.29 1368.40 375.29C1376.81 375.29 1381.01 368.40 1389.42 368.40C1397.82 368.40 1402.03 368.40 1410.43 368.40C1418.84 368.40 1423.04 368.40 1431.45 368.40C1439.86 368.40 1444.06 368.40 1452.47 368.40C1460.88 368.40 1465.08 368.40 1473.49 368.40C1481.90 368.40 1486.10 368.40 1494.51 368.40C1502.91 368.40 1507.12 361.51 1515.52 361.51C1523.93 361.51 1528.13 375.29 1536.54 375.29C1544.95 375.29 1549.15 371.16 1557.56 368.40C1565.97 365.64 1570.17 361.51 1578.58 361.51C1586.99 361.51 1591.19 375.29 1599.60 375.29C1608.00 375.29 1612.21 361.51 1620.61 361.51C1629.02 361.51 1633.22 365.64 1641.63 368.40C1650.04 371.16 1654.24 375.29 1662.65 375.29C1671.06 375.29 1675.26 371.16 1683.67 368.40C1692.08 365.64 1696.28 361.51 1704.69 361.51C1713.09 361.51 1717.30 368.40 1725.70 368.40C1734.11 368.40 1738.31 368.40 1746.72 368.40C1755.13 368.40 1759.33 368.40 1767.74 368.40C1776.15 368.40 1780.35 368.40 1788.76 368.40C1797.17 368.40 1801.37 375.29 1809.78 375.29C1818.18 375.29 1822.39 368.40 1830.79 368.40C1839.20 368.40 1843.40 368.40 1851.81 368.40C1860.22 368.40 1864.42 368.40 1872.83 368.40C1881.24 368.40 1885.44 368.40 1893.85 368.40C1902.26 368.40 1906.46 368.40 1914.87 368.40C1923.27 368.40 1927.48 368.40 1935.88 368.40C1944.29 368.40 1956.90 368.40 1956.90 368.40" fill="none" stroke="#5858c6" stroke-width="2.5" stroke-linejoin="round" stroke-linecap="round"/><rect x="81.30" y="370.29" width="10" height="10" fill="#5858c6"/><rect x="501.66" y="356.51" width="10" height="10" fill="#5858c6"/><rect x="522.68" y="370.29" width="10" height="10" fill="#5858c6"/><rect x="564.71" y="370.29" width="10" height="10" fill="#5858c6"/><rect x="585.73" y="356.51" width="10" height="10" fill="#5858c6"/><rect x="606.75" y="370.29" width="10" height="10" fill="#5858c6"/><rect x="669.80" y="356.51" width="10" height="10" fill="#5858c6"/><rect x="711.84" y="370.29" width="10" height="10" fill="#5858c6"/><rect x="901.00" y="356.51" width="10" height="10" fill="#5858c6"/><rect x="922.02" y="370.29" width="10" height="10" fill="#5858c6"/><rect x="1027.11" y="356.51" width="10" height="10" fill="#5858c6"/><rect x="1048.13" y="370.29" width="10" height="10" fill="#5858c6"/><rect x="1216.27" y="356.51" width="10" height="10" fill="#5858c6"/><rect x="1279.33" y="370.29" width="10" height="10" fill="#5858c6"/><rect x="1342.38" y="356.51" width="10" height="10" fill="#5858c6"/><rect x="1363.40" y="370.29" width="10" height="10" fill="#5858c6"/><rect x="1510.52" y="356.51" width="10" height="10" fill="#5858c6"/><rect x="1531.54" y="370.29" width="10" height="10" fill="#5858c6"/><rect x="1573.58" y="356.51" width="10" height="10" fill="#5858c6"/><rect x="1594.60" y="370.29" width="10" height="10" fill="#5858c6"/><rect x="1615.61" y="356.51" width="10" height="10" fill="#5858c6"/><rect x="1657.65" y="370.29" width="10" height="10" fill="#5858c6"/><rect x="1699.69" y="356.51" width="10" height="10" fill="#5858c6"/><rect x="1804.78" y="370.29" width="10" height="10" fill="#5858c6"/></g><g><path d="M86.30 368.40C86.30 368.40 98.91 368.40 107.32 368.40C115.73 368.40 119.93 368.40 128.34 368.40C136.74 368.40 140.95 368.40 149.35 368.40C157.76 368.40 161.96 368.40 170.37 368.40C178.78 368.40 182.98 368.40 191.39 368.40C199.80 368.40 204.00 368.40 212.41 368.40C220.82 368.40 225.02 368.40 233.43 368.40C241.83 368.40 246.04 368.40 254.44 368.40C262.85 368.40 267.05 368.40 275.46 368.40C283.87 368.40 288.07 368.40 296.48 368.40C304.89 368.40 309.09 368.40 317.50 368.40C325.91 368.40 330.11 368.40 338.52 368.40C346.92 368.40 351.13 368.40 359.53 368.40C367.94 368.40 372.14 368.40 380.55 368.40C388.96 368.40 393.16 368.40 401.57 368.40C409.98 368.40 414.18 368.40 422.59 368.40C431.00 368.40 435.20 368.40 443.61 368.40C452.01 368.40 456.22 368.40 464.62 368.40C473.03 368.40 477.23 368.40 485.64 368.40C494.05 368.40 498.25 368.40 506.66 368.40C515.07 368.40 519.27 368.40 527.68 368.40C536.09 368.40 540.29 368.40 548.70 368.40C557.10 368.40 561.31 368.40 569.71 368.40C578.12 368.40 582.32 368.40 590.73 368.40C599.14 368.40 603.34 368.40 611.75 368.40C620.16 368.40 624.36 368.40 632.77 368.40C641.18 368.40 645.38 368.40 653.79 368.40C662.19 368.40 666.40 368.40 674.80 368.40C683.21 368.40 687.41 368.40 695.82 368.40C704.23 368.40 708.43 368.40 716.84 368.40C725.25 368.40 729.45 368.40 737.86 368.40C746.27 368.40 750.47 368.40 758.88 368.40C767.28 368.40 771.49 368.40 779.89 368.40C788.30 368.40 792.50 368.40 800.91 368.40C809.32 368.40 813.52 368.40 821.93 368.40C830.34 368.40 834.54 368.40 842.95 368.40C851.36 368.40 855.56 368.40 863.97 368.40C872.37 368.40 876.58 368.40 884.98 368.40C893.39 368.40 897.59 368.40 906.00 368.40C914.41 368.40 918.61 368.40 927.02 368.40C935.43 368.40 939.63 368.40 948.04 368.40C956.45 368.40 960.65 368.40 969.06 368.40C977.46 368.40 981.67 368.40 990.07 368.40C998.48 368.40 1002.68 368.40 1011.09 368.40C1019.50 368.40 1023.70 368.40 1032.11 368.40C1040.52 368.40 1044.72 368.40 1053.13 368.40C1061.54 368.40 1065.74 368.40 1074.15 368.40C1082.55 368.40 1086.76 368.40 1095.16 368.40C1103.57 368.40 1107.77 368.40 1116.18 368.40C1124.59 368.40 1128.79 368.40 1137.20 368.40C1145.61 368.40 1149.81 368.40 1158.22 368.40C1166.63 368.40 1170.83 368.40 1179.24 368.40C1187.64 368.40 1191.85 368.40 1200.25 368.40C1208.66 368.40 1212.86 368.40 1221.27 368.40C1229.68 368.40 1233.88 368.40 1242.29 368.40C1250.70 368.40 1254.90 368.40 1263.31 368.40C1271.72 368.40 1275.92 368.40 1284.33 368.40C1292.73 368.40 1296.94 368.40 1305.34 368.40C1313.75 368.40 1317.95 368.40 1326.36 368.40C1334.77 368.40 1338.97 368.40 1347.38 368.40C1355.79 368.40 1359.99 368.40 1368.40 368.40C1376.81 368.40 1381.01 368.40 1389.42 368.40C1397.82 368.40 1402.03 368.40 1410.43 368.40C1418.84 368.40 1423.04 368.40 1431.45 368.40C1439.86 368.40 1444.06 368.40 1452.47 368.40C1460.88 368.40 1465.08 368.40 1473.49 368.40C1481.90 368.40 1486.10 368.40 1494.51 368.40C1502.91 368.40 1507.12 368.40 1515.52 368.40C1523.93 368.40 1528.13 368.40 1536.54 368.40C1544.95 368.40 1549.15 368.40 1557.56 368.40C1565.97 368.40 1570.17 368.40 1578.58 368.40C1586.99 368.40 1591.19 368.40 1599.60 368.40C1608.00 368.40 1612.21 368.40 1620.61 368.40C1629.02 368.40 1633.22 368.40 1641.63 368.40C1650.04 368.40 1654.24 368.40 1662.65 368.40C1671.06 368.40 1675.26 368.40 1683.67 368.40C1692.08 368.40 1696.28 368.40 1704.69 368.40C1713.09 368.40 1717.30 368.40 1725.70 368.40C1734.11 368.40 1738.31 368.40 1746.72 368.40C1755.13 368.40 1759.33 368.40 1767.74 368.40C1776.15 368.40 1780.35 368.40 1788.76 368.40C1797.17 368.40 1801.37 368.40 1809.78 368.40C1818.18 368.40 1822.39 368.40 1830.79 368.40C1839.20 368.40 1843.40 368.40 1851.81 368.40C1860.22 368.40 1864.42 368.40 1872.83 368.40C1881.24 368.40 1885.44 368.40 1893.85 368.40C1902.26 368.40 1906.46 368.40 1914.87 368.40C1923.27 368.40 1927.48 368.40 1935.88 368.40C1944.29 368.40 1956.90 368.40 1956.90 368.40" fill="none" stroke="#f0c030" stroke-width="2.5" stroke-linejoin="round" stroke-linecap="round"/></g><g><path d="M86.30 368.40C86.30 368.40 98.91 368.40 107.32 368.40C115.73 368.40 119.93 368.40 128.34 368.40C136.74 368.40 140.95 368.40 149.35 368.40C157.76 368.40 161.96 368.40 170.37 368.40C178.78 368.40 182.98 368.40 191.39 368.40C199.80 368.40 204.00 368.40 212.41 368.40C220.82 368.40 225.02 368.40 233.43 368.40C241.83 368.40 246.04 368.40 254.44 368.40C262.85 368.40 267.05 368.40 275.46 368.40C283.87 368.40 288.07 368.40 296.48 368.40C304.89 368.40 309.09 368.40 317.50 368.40C325.91 368.40 330.11 368.40 338.52 368.40C346.92 368.40 351.13 368.40 359.53 368.40C367.94 368.40 372.14 368.40 380.55 368.40C388.96 368.40 393.16 368.40 401.57 368.40C409.98 368.40 414.18 368.40 422.59 368.40C431.00 368.40 435.20 368.40 443.61 368.40C452.01 368.40 456.22 368.40 464.62 368.40C473.03 368.40 477.23 368.40 485.64 368.40C494.05 368.40 498.25 368.40 506.66 368.40C515.07 368.40 519.27 368.40 527.68 368.40C536.09 368.40 540.29 368.40 548.70 368.40C557.10 368.40 561.31 368.40 569.71 368.40C578.12 368.40 582.32 368.40 590.73 368.40C599.14 368.40 603.34 368.40 611.75 368.40C620.16 368.40 624.36 368.40 632.77 368.40C641.18 368.40 645.38 368.40 653.79 368.40C662.19 368.40 666.40 368.40 674.80 368.40C683.21 368.40 687.41 368.40 695.82 368.40C704.23 368.40 708.43 368.40 716.84 368.40C725.25 368.40 729.45 368.40 737.86 368.40C746.27 368.40 750.47 368.40 758.88 368.40C767.28 368.40 771.49 368.40 779.89 368.40C788.30 368.40 792.50 368.40 800.91 368.40C809.32 368.40 813.52 368.40 821.93 368.40C830.34 368.40 834.54 368.40 842.95 368.40C851.36 368.40 855.56 368.40 863.97 368.40C872.37 368.40 876.58 368.40 884.98 368.40C893.39 368.40 897.59 368.40 906.00 368.40C914.41 368.40 918.61 368.40 927.02 368.40C935.43 368.40 939.63 368.40 948.04 368.40C956.45 368.40 960.65 368.40 969.06 368.40C977.46 368.40 981.67 368.40 990.07 368.40C998.48 368.40 1002.68 368.40 1011.09 368.40C1019.50 368.40 1023.70 368.40 1032.11 368.40C1040.52 368.40 1044.72 368.40 1053.13 368.40C1061.54 368.40 1065.74 368.40 1074.15 368.40C1082.55 368.40 1086.76 368.40 1095.16 368.40C1103.57 368.40 1107.77 368.40 1116.18 368.40C1124.59 368.40 1128.79 368.40 1137.20 368.40C1145.61 368.40 1149.81 368.40 1158.22 368.40C1166.63 368.40 1170.83 368.40 1179.24 368.40C1187.64 368.40 1191.85 368.40 1200.25 368.40C1208.66 368.40 1212.86 368.40 1221.27 368.40C1229.68 368.40 1233.88 368.40 1242.29 368.40C1250.70 368.40 1254.90 368.40 1263.31 368.40C1271.72 368.40 1275.92 368.40 1284.33 368.40C1292.73 368.40 1296.94 368.40 1305.34 368.40C1313.75 368.40 1317.95 368.40 1326.36 368.40C1334.77 368.40 1338.97 368.40 1347.38 368.40C1355.79 368.40 1359.99 368.40 1368.40 368.40C1376.81 368.40 1381.01 368.40 1389.42 368.40C1397.82 368.40 1402.03 368.40 1410.43 368.40C1418.84 368.40 1423.04 368.40 1431.45 368.40C1439.86 368.40 1444.06 368.40 1452.47 368.40C1460.88 368.40 1465.08 368.40 1473.49 368.40C1481.90 368.40 1486.10 368.40 1494.51 368.40C1502.91 368.40 1507.12 368.40 1515.52 368.40C1523.93 368.40 1528.13 368.40 1536.54 368.40C1544.95 368.40 1549.15 368.40 1557.56 368.40C1565.97 368.40 1570.17 368.40 1578.58 368.40C1586.99 368.40 1591.19 368.40 1599.60 368.40C1608.00 368.40 1612.21 368.40 1620.61 368.40C1629.02 368.40 1633.22 368.40 1641.63 368.40C1650.04 368.40 1654.24 368.40 1662.65 368.40C1671.06 368.40 1675.26 368.40 1683.67 368.40C1692.08 368.40 1696.28 368.40 1704.69 368.40C1713.09 368.40 1717.30 368.40 1725.70 368.40C1734.11 368.40 1738.31 368.40 1746.72 368.40C1755.13 368.40 1759.33 368.40 1767.74 368.40C1776.15 368.40 1780.35 368.40 1788.76 368.40C1797.17 368.40 1801.37 368.40 1809.78 368.40C1818.18 368.40 1822.39 368.40 1830.79 368.40C1839.20 368.40 1843.40 368.40 1851.81 368.40C1860.22 368.40 1864.42 368.40 1872.83 368.40C1881.24 368.40 1885.44 368.40 1893.85 368.40C1902.26 368.40 1906.46 368.40 1914.87 368.40C1923.27 368.40 1927.48 368.40 1935.88 368.40C1944.29 368.40 1956.90 368.40 1956.90 368.40" fill="none" stroke="#52b552" stroke-width="2.5" stroke-linejoin="round" stroke-linecap="round"/></g><g><path d="M86.30 368.40C86.30 368.40 98.91 368.40 107.32 368.40C115.73 368.40 119.93 368.40 128.34 368.40C136.74 368.40 140.95 368.40 149.35 368.40C157.76 368.40 161.96 368.40 170.37 368.40C178.78 368.40 182.98 368.40 191.39 368.40C199.80 368.40 204.00 368.40 212.41 368.40C220.82 368.40 225.02 368.40 233.43 368.40C241.83 368.40 246.04 368.40 254.44 368.40C262.85 368.40 267.05 368.40 275.46 368.40C283.87 368.40 288.07 368.40 296.48 368.40C304.89 368.40 309.09 368.40 317.50 368.40C325.91 368.40 330.11 368.40 338.52 368.40C346.92 368.40 351.13 368.40 359.53 368.40C367.94 368.40 372.14 368.40 380.55 368.40C388.96 368.40 393.16 368.40 401.57 368.40C409.98 368.40 414.18 368.40 422.59 368.40C431.00 368.40 435.20 368.40 443.61 368.40C452.01 368.40 456.22 368.40 464.62 368.40C473.03 368.40 477.23 368.40 485.64 368.40C494.05 368.40 498.25 368.40 506.66 368.40C515.07 368.40 519.27 354.61 527.68 354.61C536.09 354.61 540.29 368.40 548.70 368.40C557.10 368.40 561.31 368.40 569.71 368.40C578.12 368.40 582.32 368.40 590.73 368.40C599.14 368.40 603.34 368.40 611.75 368.40C620.16 368.40 624.36 368.40 632.77 368.40C641.18 368.40 645.38 368.40 653.79 368.40C662.19 368.40 666.40 368.40 674.80 368.40C683.21 368.40 687.41 368.40 695.82 368.40C704.23 368.40 708.43 368.40 716.84 368.40C725.25 368.40 729.45 368.40 737.86 368.40C746.27 368.40 750.47 368.40 758.88 368.40C767.28 368.40 771.49 368.40 779.89 368.40C788.30 368.40 792.50 368.40 800.91 368.40C809.32 368.40 813.52 368.40 821.93 368.40C830.34 368.40 834.54 368.40 842.95 368.40C851.36 368.40 855.56 368.40 863.97 368.40C872.37 368.40 876.58 368.40 884.98 368.40C893.39 368.40 897.59 368.40 906.00 368.40C914.41 368.40 918.61 368.40 927.02 368.40C935.43 368.40 939.63 368.40 948.04 368.40C956.45 368.40 960.65 368.40 969.06 368.40C977.46 368.40 981.67 382.19 990.07 382.19C998.48 382.19 1002.68 368.40 1011.09 368.40C1019.50 368.40 1023.70 368.40 1032.11 368.40C1040.52 368.40 1044.72 368.40 1053.13 368.40C1061.54 368.40 1065.74 368.40 1074.15 368.40C1082.55 368.40 1086.76 368.40 1095.16 368.40C1103.57 368.40 1107.77 368.40 1116.18 368.40C1124.59 368.40 1128.79 368.40 1137.20 368.40C1145.61 368.40 1149.81 368.40 1158.22 368.40C1166.63 368.40 1170.83 368.40 1179.24 368.40C1187.64 368.40 1191.85 368.40 1200.25 368.40C1208.66 368.40 1212.86 368.40 1221.27 368.40C1229.68 368.40 1233.88 368.40 1242.29 368.40C1250.70 368.40 1254.90 368.40 1263.31 368.40C1271.72 368.40 1275.92 368.40 1284.33 368.40C1292.73 368.40 1296.94 368.40 1305.34 368.40C1313.75 368.40 1317.95 368.40 1326.36 368.40C1334.77 368.40 1338.97 368.40 1347.38 368.40C1355.79 368.40 1359.99 368.40 1368.40 368.40C1376.81 368.40 1381.01 368.40 1389.42 368.40C1397.82 368.40 1402.03 368.40 1410.43 368.40C1418.84 368.40 1423.04 368.40 1431.45 368.40C1439.86 368.40 1444.06 368.40 1452.47 368.40C1460.88 368.40 1465.08 368.40 1473.49 368.40C1481.90 368.40 1486.10 368.40 1494.51 368.40C1502.91 368.40 1507.12 368.40 1515.52 368.40C1523.93 368.40 1528.13 368.40 1536.54 368.40C1544.95 368.40 1549.15 368.40 1557.56 368.40C1565.97 368.40 1570.17 368.40 1578.58 368.40C1586.99 368.40 1591.19 368.40 1599.60 368.40C1608.00 368.40 1612.21 368.40 1620.61 368.40C1629.02 368.40 1633.22 368.40 1641.63 368.40C1650.04 368.40 1654.24 368.40 1662.65 368.40C1671.06 368.40 1675.26 368.40 1683.67 368.40C1692.08 368.40 1696.28 368.40 1704.69 368.40C1713.09 368.40 1717.30 368.40 1725.70 368.40C1734.11 368.40 1738.31 368.40 1746.72 368.40C1755.13 368.40 1759.33 368.40 1767.74 368.40C1776.15 368.40 1780.35 368.40 1788.76 368.40C1797.17 368.40 1801.37 368.40 1809.78 368.40C1818.18 368.40 1822.39 368.40 1830.79 368.40C1839.20 368.40 1843.40 368.40 1851.81 368.40C1860.22 368.40 1864.42 368.40 1872.83 368.40C1881.24 368.40 1885.44 368.40 1893.85 368.40C1902.26 368.40 1906.46 368.40 1914.87 368.40C1923.27 368.40 1927.48 368.40 1935.88 368.40C1944.29 368.40 1956.90 368.40 1956.90 368.40" fill="none" stroke="#c5e43a" stroke-width="2.5" stroke-linejoin="round" stroke-linecap="round"/><circle cx="527.68" cy="354.61" r="5" fill="#c5e43a"/><circle cx="990.07" cy="382.19" r="5" fill="#c5e43a"/></g><g><path d="M86.30 368.40C86.30 368.40 98.91 368.40 107.32 368.40C115.73 368.40 119.93 368.40 128.34 368.40C136.74 368.40 140.95 368.40 149.35 368.40C157.76 368.40 161.96 368.40 170.37 368.40C178.78 368.40 182.98 368.40 191.39 368.40C199.80 368.40 204.00 368.40 212.41 368.40C220.82 368.40 225.02 368.40 233.43 368.40C241.83 368.40 246.04 368.40 254.44 368.40C262.85 368.40 267.05 368.40 275.46 368.40C283.87 368.40 288.07 368.40 296.48 368.40C304.89 368.40 309.09 368.40 317.50 368.40C325.91 368.40 330.11 368.40 338.52 368.40C346.92 368.40 351.13 368.40 359.53 368.40C367.94 368.40 372.14 368.40 380.55 368.40C388.96 368.40 393.16 368.40 401.57 368.40C409.98 368.40 414.18 368.40 422.59 368.40C431.00 368.40 435.20 368.40 443.61 368.40C452.01 368.40 456.22 368.40 464.62 368.40C473.03 368.40 477.23 368.40 485.64 368.40C494.05 368.40 498.25 368.40 506.66 368.40C515.07 368.40 519.27 368.40 527.68 368.40C536.09 368.40 540.29 368.40 548.70 368.40C557.10 368.40 561.31 368.40 569.71 368.40C578.12 368.40 582.32 368.40 590.73 368.40C599.14 368.40 603.34 368.40 611.75 368.40C620.16 368.40 624.36 368.40 632.77 368.40C641.18 368.40 645.38 368.40 653.79 368.40C662.19 368.40 666.40 368.40 674.80 368.40C683.21 368.40 687.41 368.40 695.82 368.40C704.23 368.40 708.43 368.40 716.84 368.40C725.25 368.40 729.45 368.40 737.86 368.40C746.27 368.40 750.47 368.40 758.88 368.40C767.28 368.40 771.49 368.40 779.89 368.40C788.30 368.40 792.50 368.40 800.91 368.40C809.32 368.40 813.52 368.40 821.93 368.40C830.34 368.40 834.54 368.40 842.95 368.40C851.36 368.40 855.56 368.40 863.97 368.40C872.37 368.40 876.58 368.40 884.98 368.40C893.39 368.40 897.59 368.40 906.00 368.40C914.41 368.40 918.61 368.40 927.02 368.40C935.43 368.40 939.63 368.40 948.04 368.40C956.45 368.40 960.65 368.40 969.06 368.40C977.46 368.40 981.67 368.40 990.07 368.40C998.48 368.40 1002.68 368.40 1011.09 368.40C1019.50 368.40 1023.70 368.40 1032.11 368.40C1040.52 368.40 1044.72 368.40 1053.13 368.40C1061.54 368.40 1065.74 368.40 1074.15 368.40C1082.55 368.40 1086.76 368.40 1095.16 368.40C1103.57 368.40 1107.77 368.40 1116.18 368.40C1124.59 368.40 1128.79 368.40 1137.20 368.40C1145.61 368.40 1149.81 368.40 1158.22 368.40C1166.63 368.40 1170.83 368.40 1179.24 368.40C1187.64 368.40 1191.85 368.40 1200.25 368.40C1208.66 368.40 1212.86 368.40 1221.27 368.40C1229.68 368.40 1233.88 368.40 1242.29 368.40C1250.70 368.40 1254.90 368.40 1263.31 368.40C1271.72 368.40 1275.92 368.40 1284.33 368.40C1292.73 368.40 1296.94 368.40 1305.34 368.40C1313.75 368.40 1317.95 368.40 1326.36 368.40C1334.77 368.40 1338.97 368.40 1347.38 368.40C1355.79 368.40 1359.99 368.40 1368.40 368.40C1376.81 368.40 1381.01 368.40 1389.42 368.40C1397.82 368.40 1402.03 368.40 1410.43 368.40C1418.84 368.40 1423.04 368.40 1431.45 368.40C1439.86 368.40 1444.06 368.40 1452.47 368.40C1460.88 368.40 1465.08 368.40 1473.49 368.40C1481.90 368.40 1486.10 368.40 1494.51 368.40C1502.91 368.40 1507.12 368.40 1515.52 368.40C1523.93 368.40 1528.13 368.40 1536.54 368.40C1544.95 368.40 1549.15 368.40 1557.56 368.40C1565.97 368.40 1570.17 368.40 1578.58 368.40C1586.99 368.40 1591.19 368.40 1599.60 368.40C1608.00 368.40 1612.21 368.40 1620.61 368.40C1629.02 368.40 1633.22 368.40 1641.63 368.40C1650.04 368.40 1654.24 368.40 1662.65 368.40C1671.06 368.40 1675.26 368.40 1683.67 368.40C1692.08 368.40 1696.28 368.40 1704.69 368.40C1713.09 368.40 1717.30 368.40 1725.70 368.40C1734.11 368.40 1738.31 368.40 1746.72 368.40C1755.13 368.40 1759.33 368.40 1767.74 368.40C1776.15 368.40 1780.35 368.40 1788.76 368.40C1797.17 368.40 1801.37 368.40 1809.78 368.40C1818.18 368.40 1822.39 368.40 1830.79 368.40C1839.20 368.40 1843.40 368.40 1851.81 368.40C1860.22 368.40 1864.42 368.40 1872.83 368.40C1881.24 368.40 1885.44 368.40 1893.85 368.40C1902.26 368.40 1906.46 368.40 1914.87 368.40C1923.27 368.40 1927.48 368.40 1935.88 368.40C1944.29 368.40 1956.90 368.40 1956.90 368.40" fill="none" stroke="#e64545" stroke-width="2.5" stroke-linejoin="round" stroke-linecap="round"/></g><g><path d="M86.30 368.40C86.30 368.40 98.91 368.40 107.32 368.40C115.73 368.40 119.93 368.40 128.34 368.40C136.74 368.40 140.95 368.40 149.35 368.40C157.76 368.40 161.96 368.40 170.37 368.40C178.78 368.40 182.98 368.40 191.39 368.40C199.80 368.40 204.00 368.40 212.41 368.40C220.82 368.40 225.02 368.40 233.43 368.40C241.83 368.40 246.04 368.40 254.44 368.40C262.85 368.40 267.05 368.40 275.46 368.40C283.87 368.40 288.07 368.40 296.48 368.40C304.89 368.40 309.09 368.40 317.50 368.40C325.91 368.40 330.11 368.40 338.52 368.40C346.92 368.40 351.13 368.40 359.53 368.40C367.94 368.40 372.14 368.40 380.55 368.40C388.96 368.40 393.16 368.40 401.57 368.40C409.98 368.40 414.18 368.40 422.59 368.40C431.00 368.40 435.20 368.40 443.61 368.40C452.01 368.40 456.22 368.40 464.62 368.40C473.03 368.40 477.23 368.40 485.64 368.40C494.05 368.40 498.25 368.40 506.66 368.40C515.07 368.40 519.27 368.40 527.68 368.40C536.09 368.40 540.29 368.40 548.70 368.40C557.10 368.40 561.31 368.40 569.71 368.40C578.12 368.40 582.32 368.40 590.73 368.40C599.14 368.40 603.34 368.40 611.75 368.40C620.16 368.40 624.36 368.40 632.77 368.40C641.18 368.40 645.38 368.40 653.79 368.40C662.19 368.40 666.40 368.40 674.80 368.40C683.21 368.40 687.41 368.40 695.82 368.40C704.23 368.40 708.43 368.40 716.84 368.40C725.25 368.40 729.45 368.40 737.86 368.40C746.27 368.40 750.47 368.40 758.88 368.40C767.28 368.40 771.49 368.40 779.89 368.40C788.30 368.40 792.50 368.40 800.91 368.40C809.32 368.40 813.52 368.40 821.93 368.40C830.34 368.40 834.54 368.40 842.95 368.40C851.36 368.40 855.56 368.40 863.97 368.40C872.37 368.40 876.58 368.40 884.98 368.40C893.39 368.40 897.59 368.40 906.00 368.40C914.41 368.40 918.61 368.40 927.02 368.40C935.43 368.40 939.63 368.40 948.04 368.40C956.45 368.40 960.65 368.40 969.06 368.40C977.46 368.40 981.67 368.40 990.07 368.40C998.48 368.40 1002.68 368.40 1011.09 368.40C1019.50 368.40 1023.70 368.40 1032.11 368.40C1040.52 368.40 1044.72 368.40 1053.13 368.40C1061.54 368.40 1065.74 368.40 1074.15 368.40C1082.55 368.40 1086.76 368.40 1095.16 368.40C1103.57 368.40 1107.77 368.40 1116.18 368.40C1124.59 368.40 1128.79 368.40 1137.20 368.40C1145.61 368.40 1149.81 368.40 1158.22 368.40C1166.63 368.40 1170.83 368.40 1179.24 368.40C1187.64 368.40 1191.85 368.40 1200.25 368.40C1208.66 368.40 1212.86 368.40 1221.27 368.40C1229.68 368.40 1233.88 368.40 1242.29 368.40C1250.70 368.40 1254.90 368.40 1263.31 368.40C1271.72 368.40 1275.92 368.40 1284.33 368.40C1292.73 368.40 1296.94 368.40 1305.34 368.40C1313.75 368.40 1317.95 368.40 1326.36 368.40C1334.77 368.40 1338.97 368.40 1347.38 368.40C1355.79 368.40 1359.99 368.40 1368.40 368.40C1376.81 368.40 1381.01 368.40 1389.42 368.40C1397.82 368.40 1402.03 368.40 1410.43 368.40C1418.84 368.40 1423.04 368.40 1431.45 368.40C1439.86 368.40 1444.06 368.40 1452.47 368.40C1460.88 368.40 1465.08 368.40 1473.49 368.40C1481.90 368.40 1486.10 368.40 1494.51 368.40C1502.91 368.40 1507.12 368.40 1515.52 368.40C1523.93 368.40 1528.13 368.40 1536.54 368.40C1544.95 368.40 1549.15 368.40 1557.56 368.40C1565.97 368.40 1570.17 368.40 1578.58 368.40C1586.99 368.40 1591.19 368.40 1599.60 368.40C1608.00 368.40 1612.21 368.40 1620.61 368.40C1629.02 368.40 1633.22 368.40 1641.63 368.40C1650.04 368.40 1654.24 368.40 1662.65 368.40C1671.06 368.40 1675.26 368.40 1683.67 368.40C1692.08 368.40 1696.28 368.40 1704.69 368.40C1713.09 368.40 1717.30 368.40 1725.70 368.40C1734.11 368.40 1738.31 368.40 1746.72 368.40C1755.13 368.40 1759.33 368.40 1767.74 368.40C1776.15 368.40 1780.35 368.40 1788.76 368.40C1797.17 368.40 1801.37 368.40 1809.78 368.40C1818.18 368.40 1822.39 368.40 1830.79 368.40C1839.20 368.40 1843.40 368.40 1851.81 368.40C1860.22 368.40 1864.42 368.40 1872.83 368.40C1881.24 368.40 1885.44 368.40 1893.85 368.40C1902.26 368.40 1906.46 368.40 1914.87 368.40C1923.27 368.40 1927.48 368.40 1935.88 368.40C1944.29 368.40 1956.90 368.40 1956.90 368.40" fill="none" stroke="#f0b000" stroke-width="2.5" stroke-linejoin="round" stroke-linecap="round"/></g><g><path d="M86.30 368.40C86.30 368.40 98.91 368.40 107.32 368.40C115.73 368.40 119.93 368.40 128.34 368.40C136.74 368.40 140.95 368.40 149.35 368.40C157.76 368.40 161.96 368.40 170.37 368.40C178.78 368.40 182.98 368.40 191.39 368.40C199.80 368.40 204.00 368.40 212.41 368.40C220.82 368.40 225.02 368.40 233.43 368.40C241.83 368.40 246.04 368.40 254.44 368.40C262.85 368.40 267.05 368.40 275.46 368.40C283.87 368.40 288.07 368.40 296.48 368.40C304.89 368.40 309.09 368.40 317.50 368.40C325.91 368.40 330.11 368.40 338.52 368.40C346.92 368.40 351.13 368.40 359.53 368.40C367.94 368.40 372.14 368.40 380.55 368.40C388.96 368.40 393.16 368.40 401.57 368.40C409.98 368.40 414.18 368.40 422.59 368.40C431.00 368.40 435.20 368.40 443.61 368.40C452.01 368.40 456.22 368.40 464.62 368.40C473.03 368.40 477.23 368.40 485.64 368.40C494.05 368.40 498.25 368.40 506.66 368.40C515.07 368.40 519.27 368.40 527.68 368.40C536.09 368.40 540.29 368.40 548.70 368.40C557.10 368.40 561.31 368.40 569.71 368.40C578.12 368.40 582.32 368.40 590.73 368.40C599.14 368.40 603.34 368.40 611.75 368.40C620.16 368.40 624.36 368.40 632.77 368.40C641.18 368.40 645.38 368.40 653.79 368.40C662.19 368.40 666.40 368.40 674.80 368.40C683.21 368.40 687.41 368.40 695.82 368.40C704.23 368.40 708.43 368.40 716.84 368.40C725.25 368.40 729.45 368.40 737.86 368.40C746.27 368.40 750.47 368.40 758.88 368.40C767.28 368.40 771.49 368.40 779.89 368.40C788.30 368.40 792.50 368.40 800.91 368.40C809.32 368.40 813.52 368.40 821.93 368.40C830.34 368.40 834.54 368.40 842.95 368.40C851.36 368.40 855.56 368.40 863.97 368.40C872.37 368.40 876.58 368.40 884.98 368.40C893.39 368.40 897.59 368.40 906.00 368.40C914.41 368.40 918.61 368.40 927.02 368.40C935.43 368.40 939.63 368.40 948.04 368.40C956.45 368.40 960.65 368.40 969.06 368.40C977.46 368.40 981.67 368.40 990.07 368.40C998.48 368.40 1002.68 368.40 1011.09 368.40C1019.50 368.40 1023.70 368.40 1032.11 368.40C1040.52 368.40 1044.72 368.40 1053.13 368.40C1061.54 368.40 1065.74 368.40 1074.15 368.40C1082.55 368.40 1086.76 368.40 1095.16 368.40C1103.57 368.40 1107.77 368.40 1116.18 368.40C1124.59 368.40 1128.79 368.40 1137.20 368.40C1145.61 368.40 1149.81 368.40 1158.22 368.40C1166.63 368.40 1170.83 368.40 1179.24 368.40C1187.64 368.40 1191.85 368.40 1200.25 368.40C1208.66 368.40 1212.86 368.40 1221.27 368.40C1229.68 368.40 1233.88 368.40 1242.29 368.40C1250.70 368.40 1254.90 368.40 1263.31 368.40C1271.72 368.40 1275.92 368.40 1284.33 368.40C1292.73 368.40 1296.94 368.40 1305.34 368.40C1313.75 368.40 1317.95 368.40 1326.36 368.40C1334.77 368.40 1338.97 368.40 1347.38 368.40C1355.79 368.40 1359.99 368.40 1368.40 368.40C1376.81 368.40 1381.01 368.40 1389.42 368.40C1397.82 368.40 1402.03 368.40 1410.43 368.40C1418.84 368.40 1423.04 368.40 1431.45 368.40C1439.86 368.40 1444.06 368.40 1452.47 368.40C1460.88 368.40 1465.08 368.40 1473.49 368.40C1481.90 368.40 1486.10 368.40 1494.51 368.40C1502.91 368.40 1507.12 368.40 1515.52 368.40C1523.93 368.40 1528.13 368.40 1536.54 368.40C1544.95 368.40 1549.15 368.40 1557.56 368.40C1565.97 368.40 1570.17 368.40 1578.58 368.40C1586.99 368.40 1591.19 368.40 1599.60 368.40C1608.00 368.40 1612.21 368.40 1620.61 368.40C1629.02 368.40 1633.22 368.40 1641.63 368.40C1650.04 368.40 1654.24 368.40 1662.65 368.40C1671.06 368.40 1675.26 368.40 1683.67 368.40C1692.08 368.40 1696.28 368.40 1704.69 368.40C1713.09 368.40 1717.30 368.40 1725.70 368.40C1734.11 368.40 1738.31 368.40 1746.72 368.40C1755.13 368.40 1759.33 368.40 1767.74 368.40C1776.15 368.40 1780.35 368.40 1788.76 368.40C1797.17 368.40 1801.37 368.40 1809.78 368.40C1818.18 368.40 1822.39 368.40 1830.79 368.40C1839.20 368.40 1843.40 368.40 1851.81 368.40C1860.22 368.40 1864.42 368.40 1872.83 368.40C1881.24 368.40 1885.44 368.40 1893.85 368.40C1902.26 368.40 1906.46 368.40 1914.87 368.40C1923.27 368.40 1927.48 368.40 1935.88 368.40C1944.29 368.40 1956.90 368.40 1956.90 368.40" fill="none" stroke="#b4de00" stroke-width="2.5" stroke-linejoin="round" stroke-linecap="round"/></g><g><path d="M86.30 368.40C86.30 368.40 98.91 368.40 107.32 368.40C115.73 368.40 119.93 368.40 128.34 368.40C136.74 368.40 140.95 368.40 149.35 368.40C157.76 368.40 161.96 368.40 170.37 368.40C178.78 368.40 182.98 368.40 191.39 368.40C199.80 368.40 204.00 368.40 212.41 368.40C220.82 368.40 225.02 368.40 233.43 368.40C241.83 368.40 246.04 368.40 254.44 368.40C262.85 368.40 267.05 368.40 275.46 368.40C283.87 368.40 288.07 368.40 296.48 368.40C304.89 368.40 309.09 368.40 317.50 368.40C325.91 368.40 330.11 368.40 338.52 368.40C346.92 368.40 351.13 368.40 359.53 368.40C367.94 368.40 372.14 368.40 380.55 368.40C388.96 368.40 393.16 368.40 401.57 368.40C409.98 368.40 414.18 368.40 422.59 368.40C431.00 368.40 435.20 368.40 443.61 368.40C452.01 368.40 456.22 368.40 464.62 368.40C473.03 368.40 477.23 368.40 485.64 368.40C494.05 368.40 498.25 368.40 506.66 368.40C515.07 368.40 519.27 368.40 527.68 368.40C536.09 368.40 540.29 368.40 548.70 368.40C557.10 368.40 561.31 368.40 569.71 368.40C578.12 368.40 582.32 368.40 590.73 368.40C599.14 368.40 603.34 368.40 611.75 368.40C620.16 368.40 624.36 368.40 632.77 368.40C641.18 368.40 645.38 368.40 653.79 368.40C662.19 368.40 666.40 368.40 674.80 368.40C683.21 368.40 687.41 368.40 695.82 368.40C704.23 368.40 708.43 368.40 716.84 368.40C725.25 368.40 729.45 368.40 737.86 368.40C746.27 368.40 750.47 368.40 758.88 368.40C767.28 368.40 771.49 368.40 779.89 368.40C788.30 368.40 792.50 368.40 800.91 368.40C809.32 368.40 813.52 368.40 821.93 368.40C830.34 368.40 834.54 368.40 842.95 368.40C851.36 368.40 855.56 368.40 863.97 368.40C872.37 368.40 876.58 368.40 884.98 368.40C893.39 368.40 897.59 368.40 906.00 368.40C914.41 368.40 918.61 368.40 927.02 368.40C935.43 368.40 939.63 368.40 948.04 368.40C956.45 368.40 960.65 368.40 969.06 368.40C977.46 368.40 981.67 368.40 990.07 368.40C998.48 368.40 1002.68 368.40 1011.09 368.40C1019.50 368.40 1023.70 368.40 1032.11 368.40C1040.52 368.40 1044.72 368.40 1053.13 368.40C1061.54 368.40 1065.74 368.40 1074.15 368.40C1082.55 368.40 1086.76 368.40 1095.16 368.40C1103.57 368.40 1107.77 368.40 1116.18 368.40C1124.59 368.40 1128.79 368.40 1137.20 368.40C1145.61 368.40 1149.81 368.40 1158.22 368.40C1166.63 368.40 1170.83 368.40 1179.24 368.40C1187.64 368.40 1191.85 368.40 1200.25 368.40C1208.66 368.40 1212.86 368.40 1221.27 368.40C1229.68 368.40 1233.88 368.40 1242.29 368.40C1250.70 368.40 1254.90 368.40 1263.31 368.40C1271.72 368.40 1275.92 368.40 1284.33 368.40C1292.73 368.40 1296.94 368.40 1305.34 368.40C1313.75 368.40 1317.95 368.40 1326.36 368.40C1334.77 368.40 1338.97 368.40 1347.38 368.40C1355.79 368.40 1359.99 368.40 1368.40 368.40C1376.81 368.40 1381.01 368.40 1389.42 368.40C1397.82 368.40 1402.03 368.40 1410.43 368.40C1418.84 368.40 1423.04 368.40 1431.45 368.40C1439.86 368.40 1444.06 368.40 1452.47 368.40C1460.88 368.40 1465.08 368.40 1473.49 368.40C1481.90 368.40 1486.10 368.40 1494.51 368.40C1502.91 368.40 1507.12 368.40 1515.52 368.40C1523.93 368.40 1528.13 368.40 1536.54 368.40C1544.95 368.40 1549.15 368.40 1557.56 368.40C1565.97 368.40 1570.17 368.40 1578.58 368.40C1586.99 368.40 1591.19 368.40 1599.60 368.40C1608.00 368.40 1612.21 368.40 1620.61 368.40C1629.02 368.40 1633.22 368.40 1641.63 368.40C1650.04 368.40 1654.24 368.40 1662.65 368.40C1671.06 368.40 1675.26 368.40 1683.67 368.40C1692.08 368.40 1696.28 368.40 1704.69 368.40C1713.09 368.40 1717.30 368.40 1725.70 368.40C1734.11 368.40 1738.31 368.40 1746.72 368.40C1755.13 368.40 1759.33 368.40 1767.74 368.40C1776.15 368.40 1780.35 368.40 1788.76 368.40C1797.17 368.40 1801.37 368.40 1809.78 368.40C1818.18 368.40 1822.39 368.40 1830.79 368.40C1839.20 368.40 1843.40 368.40 1851.81 368.40C1860.22 368.40 1864.42 368.40 1872.83 368.40C1881.24 368.40 1885.44 368.40 1893.85 368.40C1902.26 368.40 1906.46 368.40 1914.87 368.40C1923.27 368.40 1927.48 368.40 1935.88 368.40C1944.29 368.40 1956.90 368.40 1956.90 368.40" fill="none" stroke="#9272b2" stroke-width="2.5" stroke-linejoin="round" stroke-linecap="round"/></g><g><path d="M86.30 368.40C86.30 368.40 98.91 368.40 107.32 368.40C115.73 368.40 119.93 368.40 128.34 368.40C136.74 368.40 140.95 368.40 149.35 368.40C157.76 368.40 161.96 368.40 170.37 368.40C178.78 368.40 182.98 368.40 191.39 368.40C199.80 368.40 204.00 368.40 212.41 368.40C220.82 368.40 225.02 368.40 233.43 368.40C241.83 368.40 246.04 368.40 254.44 368.40C262.85 368.40 267.05 368.40 275.46 368.40C283.87 368.40 288.07 368.40 296.48 368.40C304.89 368.40 309.09 368.40 317.50 368.40C325.91 368.40 330.11 368.40 338.52 368.40C346.92 368.40 351.13 368.40 359.53 368.40C367.94 368.40 372.14 368.40 380.55 368.40C388.96 368.40 393.16 368.40 401.57 368.40C409.98 368.40 414.18 368.40 422.59 368.40C431.00 368.40 435.20 368.40 443.61 368.40C452.01 368.40 456.22 368.40 464.62 368.40C473.03 368.40 477.23 368.40 485.64 368.40C494.05 368.40 498.25 368.40 506.66 368.40C515.07 368.40 519.27 368.40 527.68 368.40C536.09 368.40 540.29 368.40 548.70 368.40C557.10 368.40 561.31 368.40 569.71 368.40C578.12 368.40 582.32 368.40 590.73 368.40C599.14 368.40 603.34 368.40 611.75 368.40C620.16 368.40 624.36 368.40 632.77 368.40C641.18 368.40 645.38 368.40 653.79 368.40C662.19 368.40 666.40 368.40 674.80 368.40C683.21 368.40 687.41 368.40 695.82 368.40C704.23 368.40 708.43 368.40 716.84 368.40C725.25 368.40 729.45 368.40 737.86 368.40C746.27 368.40 750.47 368.40 758.88 368.40C767.28 368.40 771.49 368.40 779.89 368.40C788.30 368.40 792.50 368.40 800.91 368.40C809.32 368.40 813.52 368.40 821.93 368.40C830.34 368.40 834.54 368.40 842.95 368.40C851.36 368.40 855.56 368.40 863.97 368.40C872.37 368.40 876.58 368.40 884.98 368.40C893.39 368.40 897.59 368.40 906.00 368.40C914.41 368.40 918.61 368.40 927.02 368.40C935.43 368.40 939.63 368.40 948.04 368.40C956.45 368.40 960.65 368.40 969.06 368.40C977.46 368.40 981.67 368.40 990.07 368.40C998.48 368.40 1002.68 368.40 1011.09 368.40C1019.50 368.40 1023.70 368.40 1032.11 368.40C1040.52 368.40 1044.72 368.40 1053.13 368.40C1061.54 368.40 1065.74 368.40 1074.15 368.40C1082.55 368.40 1086.76 368.40 1095.16 368.40C1103.57 368.40 1107.77 368.40 1116.18 368.40C1124.59 368.40 1128.79 368.40 1137.20 368.40C1145.61 368.40 1149.81 368.40 1158.22 368.40C1166.63 368.40 1170.83 368.40 1179.24 368.40C1187.64 368.40 1191.85 368.40 1200.25 368.40C1208.66 368.40 1212.86 368.40 1221.27 368.40C1229.68 368.40 1233.88 368.40 1242.29 368.40C1250.70 368.40 1254.90 368.40 1263.31 368.40C1271.72 368.40 1275.92 368.40 1284.33 368.40C1292.73 368.40 1296.94 368.40 1305.34 368.40C1313.75 368.40 1317.95 368.40 1326.36 368.40C1334.77 368.40 1338.97 368.40 1347.38 368.40C1355.79 368.40 1359.99 368.40 1368.40 368.40C1376.81 368.40 1381.01 368.40 1389.42 368.40C1397.82 368.40 1402.03 368.40 1410.43 368.40C1418.84 368.40 1423.04 368.40 1431.45 368.40C1439.86 368.40 1444.06 368.40 1452.47 368.40C1460.88 368.40 1465.08 368.40 1473.49 368.40C1481.90 368.40 1486.10 368.40 1494.51 368.40C1502.91 368.40 1507.12 368.40 1515.52 368.40C1523.93 368.40 1528.13 368.40 1536.54 368.40C1544.95 368.40 1549.15 368.40 1557.56 368.40C1565.97 368.40 1570.17 368.40 1578.58 368.40C1586.99 368.40 1591.19 368.40 1599.60 368.40C1608.00 368.40 1612.21 368.40 1620.61 368.40C1629.02 368.40 1633.22 368.40 1641.63 368.40C1650.04 368.40 1654.24 368.40 1662.65 368.40C1671.06 368.40 1675.26 368.40 1683.67 368.40C1692.08 368.40 1696.28 368.40 1704.69 368.40C1713.09 368.40 1717.30 368.40 1725.70 368.40C1734.11 368.40 1738.31 368.40 1746.72 368.40C1755.13 368.40 1759.33 368.40 1767.74 368.40C1776.15 368.40 1780.35 368.40 1788.76 368.40C1797.17 368.40 1801.37 368.40 1809.78 368.40C1818.18 368.40 1822.39 368.40 1830.79 368.40C1839.20 368.40 1843.40 368.40 1851.81 368.40C1860.22 368.40 1864.42 368.40 1872.83 368.40C1881.24 368.40 1885.44 368.40 1893.85 368.40C1902.26 368.40 1906.46 368.40 1914.87 368.40C1923.27 368.40 1927.48 368.40 1935.88 368.40C1944.29 368.40 1956.90 368.40 1956.90 368.40" fill="none" stroke="#42b9c2" stroke-width="2.5" stroke-linejoin="round" stroke-linecap="round"/></g><g><path d="M86.30 368.40C86.30 368.40 98.91 368.40 107.32 368.40C115.73 368.40 119.93 368.40 128.34 368.40C136.74 368.40 140.95 368.40 149.35 368.40C157.76 368.40 161.96 368.40 170.37 368.40C178.78 368.40 182.98 368.40 191.39 368.40C199.80 368.40 204.00 368.40 212.41 368.40C220.82 368.40 225.02 368.40 233.43 368.40C241.83 368.40 246.04 368.40 254.44 368.40C262.85 368.40 267.05 368.40 275.46 368.40C283.87 368.40 288.07 368.40 296.48 368.40C304.89 368.40 309.09 368.40 317.50 368.40C325.91 368.40 330.11 368.40 338.52 368.40C346.92 368.40 351.13 368.40 359.53 368.40C367.94 368.40 372.14 368.40 380.55 368.40C388.96 368.40 393.16 368.40 401.57 368.40C409.98 368.40 414.18 368.40 422.59 368.40C431.00 368.40 435.20 368.40 443.61 368.40C452.01 368.40 456.22 368.40 464.62 368.40C473.03 368.40 477.23 368.40 485.64 368.40C494.05 368.40 498.25 368.40 506.66 368.40C515.07 368.40 519.27 368.40 527.68 368.40C536.09 368.40 540.29 368.40 548.70 368.40C557.10 368.40 561.31 368.40 569.71 368.40C578.12 368.40 582.32 368.40 590.73 368.40C599.14 368.40 603.34 368.40 611.75 368.40C620.16 368.40 624.36 368.40 632.77 368.40C641.18 368.40 645.38 368.40 653.79 368.40C662.19 368.40 666.40 368.40 674.80 368.40C683.21 368.40 687.41 368.40 695.82 368.40C704.23 368.40 708.43 368.40 716.84 368.40C725.25 368.40 729.45 368.40 737.86 368.40C746.27 368.40 750.47 368.40 758.88 368.40C767.28 368.40 771.49 368.40 779.89 368.40C788.30 368.40 792.50 368.40 800.91 368.40C809.32 368.40 813.52 368.40 821.93 368.40C830.34 368.40 834.54 368.40 842.95 368.40C851.36 368.40 855.56 368.40 863.97 368.40C872.37 368.40 876.58 368.40 884.98 368.40C893.39 368.40 897.59 368.40 906.00 368.40C914.41 368.40 918.61 368.40 927.02 368.40C935.43 368.40 939.63 368.40 948.04 368.40C956.45 368.40 960.65 368.40 969.06 368.40C977.46 368.40 981.67 368.40 990.07 368.40C998.48 368.40 1002.68 368.40 1011.09 368.40C1019.50 368.40 1023.70 368.40 1032.11 368.40C1040.52 368.40 1044.72 368.40 1053.13 368.40C1061.54 368.40 1065.74 368.40 1074.15 368.40C1082.55 368.40 1086.76 368.40 1095.16 368.40C1103.57 368.40 1107.77 368.40 1116.18 368.40C1124.59 368.40 1128.79 368.40 1137.20 368.40C1145.61 368.40 1149.81 368.40 1158.22 368.40C1166.63 368.40 1170.83 368.40 1179.24 368.40C1187.64 368.40 1191.85 368.40 1200.25 368.40C1208.66 368.40 1212.86 368.40 1221.27 368.40C1229.68 368.40 1233.88 368.40 1242.29 368.40C1250.70 368.40 1254.90 368.40 1263.31 368.40C1271.72 368.40 1275.92 368.40 1284.33 368.40C1292.73 368.40 1296.94 368.40 1305.34 368.40C1313.75 368.40 1317.95 368.40 1326.36 368.40C1334.77 368.40 1338.97 368.40 1347.38 368.40C1355.79 368.40 1359.99 368.40 1368.40 368.40C1376.81 368.40 1381.01 368.40 1389.42 368.40C1397.82 368.40 1402.03 368.40 1410.43 368.40C1418.84 368.40 1423.04 368.40 1431.45 368.40C1439.86 368.40 1444.06 368.40 1452.47 368.40C1460.88 368.40 1465.08 368.40 1473.49 368.40C1481.90 368.40 1486.10 368.40 1494.51 368.40C1502.91 368.40 1507.12 368.40 1515.52 368.40C1523.93 368.40 1528.13 368.40 1536.54 368.40C1544.95 368.40 1549.15 368.40 1557.56 368.40C1565.97 368.40 1570.17 368.40 1578.58 368.40C1586.99 368.40 1591.19 368.40 1599.60 368.40C1608.00 368.40 1612.21 368.40 1620.61 368.40C1629.02 368.40 1633.22 368.40 1641.63 368.40C1650.04 368.40 1654.24 368.40 1662.65 368.40C1671.06 368.40 1675.26 368.40 1683.67 368.40C1692.08 368.40 1696.28 368.40 1704.69 368.40C1713.09 368.40 1717.30 368.40 1725.70 368.40C1734.11 368.40 1738.31 368.40 1746.72 368.40C1755.13 368.40 1759.33 368.40 1767.74 368.40C1776.15 368.40 1780.35 368.40 1788.76 368.40C1797.17 368.40 1801.37 368.40 1809.78 368.40C1818.18 368.40 1822.39 368.40 1830.79 368.40C1839.20 368.40 1843.40 368.40 1851.81 368.40C1860.22 368.40 1864.42 368.40 1872.83 368.40C1881.24 368.40 1885.44 368.40 1893.85 368.40C1902.26 368.40 1906.46 368.40 1914.87 368.40C1923.27 368.40 1927.48 368.40 1935.88 368.40C1944.29 368.40 1956.90 368.40 1956.90 368.40" fill="none" stroke="#3a5068" stroke-width="2.5" stroke-linejoin="round" stroke-linecap="round"/></g><g><path d="M1830.79 368.40C1830.79 368.40 1843.40 368.40 1851.81 368.40C1860.22 368.40 1864.42 368.40 1872.83 368.40C1881.24 368.40 1893.85 368.40 1893.85 368.40" fill="none" stroke="#743242" stroke-width="2.5" stroke-linejoin="round" stroke-linecap="round"/><rect x="1825.79" y="363.40" width="10" height="10" fill="#743242"/><rect x="1846.81" y="363.40" width="10" height="10" fill="#743242"/><rect x="1867.83" y="363.40" width="10" height="10" fill="#743242"/><rect x="1888.85" y="363.40" width="10" height="10" fill="#743242"/></g><g><path d="M86.30 368.40C86.30 368.40 98.91 368.40 107.32 368.40C115.73 368.40 119.93 368.40 128.34 368.40C136.74 368.40 140.95 368.40 149.35 368.40C157.76 368.40 161.96 368.40 170.37 368.40C178.78 368.40 182.98 368.40 191.39 368.40C199.80 368.40 204.00 368.40 212.41 368.40C220.82 368.40 225.02 368.40 233.43 368.40C241.83 368.40 246.04 368.40 254.44 368.40C262.85 368.40 267.05 368.40 275.46 368.40C283.87 368.40 288.07 368.40 296.48 368.40C304.89 368.40 309.09 368.40 317.50 368.40C325.91 368.40 330.11 368.40 338.52 368.40C346.92 368.40 351.13 368.40 359.53 368.40C367.94 368.40 372.14 368.40 380.55 368.40C388.96 368.40 393.16 368.40 401.57 368.40C409.98 368.40 414.18 368.40 422.59 368.40C431.00 368.40 435.20 368.40 443.61 368.40C452.01 368.40 456.22 368.40 464.62 368.40C473.03 368.40 477.23 368.40 485.64 368.40C494.05 368.40 498.25 368.40 506.66 368.40C515.07 368.40 519.27 368.40 527.68 368.40C536.09 368.40 540.29 368.40 548.70 368.40C557.10 368.40 561.31 368.40 569.71 368.40C578.12 368.40 582.32 368.40 590.73 368.40C599.14 368.40 603.34 368.40 611.75 368.40C620.16 368.40 624.36 368.40 632.77 368.40C641.18 368.40 645.38 368.40 653.79 368.40C662.19 368.40 666.40 368.40 674.80 368.40C683.21 368.40 687.41 368.40 695.82 368.40C704.23 368.40 708.43 368.40 716.84 368.40C725.25 368.40 729.45 368.40 737.86 368.40C746.27 368.40 750.47 368.40 758.88 368.40C767.28 368.40 771.49 368.40 779.89 368.40C788.30 368.40 792.50 368.40 800.91 368.40C809.32 368.40 813.52 368.40 821.93 368.40C830.34 368.40 834.54 368.40 842.95 368.40C851.36 368.40 855.56 368.40 863.97 368.40C872.37 368.40 876.58 368.40 884.98 368.40C893.39 368.40 897.59 368.40 906.00 368.40C914.41 368.40 918.61 368.40 927.02 368.40C935.43 368.40 939.63 368.40 948.04 368.40C956.45 368.40 960.65 368.40 969.06 368.40C977.46 368.40 981.67 368.40 990.07 368.40C998.48 368.40 1002.68 368.40 1011.09 368.40C1019.50 368.40 1023.70 368.40 1032.11 368.40C1040.52 368.40 1044.72 368.40 1053.13 368.40C1061.54 368.40 1065.74 368.40 1074.15 368.40C1082.55 368.40 1086.76 368.40 1095.16 368.40C1103.57 368.40 1107.77 368.40 1116.18 368.40C1124.59 368.40 1128.79 368.40 1137.20 368.40C1145.61 368.40 1149.81 368.40 1158.22 368.40C1166.63 368.40 1170.83 368.40 1179.24 368.40C1187.64 368.40 1191.85 368.40 1200.25 368.40C1208.66 368.40 1212.86 368.40 1221.27 368.40C1229.68 368.40 1233.88 368.40 1242.29 368.40C1250.70 368.40 1254.90 368.40 1263.31 368.40C1271.72 368.40 1275.92 368.40 1284.33 368.40C1292.73 368.40 1296.94 368.40 1305.34 368.40C1313.75 368.40 1317.95 368.40 1326.36 368.40C1334.77 368.40 1338.97 368.40 1347.38 368.40C1355.79 368.40 1359.99 368.40 1368.40 368.40C1376.81 368.40 1381.01 368.40 1389.42 368.40C1397.82 368.40 1402.03 368.40 1410.43 368.40C1418.84 368.40 1423.04 368.40 1431.45 368.40C1439.86 368.40 1444.06 368.40 1452.47 368.40C1460.88 368.40 1465.08 368.40 1473.49 368.40C1481.90 368.40 1486.10 368.40 1494.51 368.40C1502.91 368.40 1507.12 368.40 1515.52 368.40C1523.93 368.40 1528.13 368.40 1536.54 368.40C1544.95 368.40 1549.15 368.40 1557.56 368.40C1565.97 368.40 1570.17 368.40 1578.58 368.40C1586.99 368.40 1591.19 368.40 1599.60 368.40C1608.00 368.40 1612.21 368.40 1620.61 368.40C1629.02 368.40 1633.22 368.40 1641.63 368.40C1650.04 368.40 1654.24 368.40 1662.65 368.40C1671.06 368.40 1675.26 368.40 1683.67 368.40C1692.08 368.40 1696.28 368.40 1704.69 368.40C1713.09 368.40 1717.30 361.51 1725.70 361.51C1734.11 361.51 1738.31 368.40 1746.72 368.40C1755.13 368.40 1759.33 368.40 1767.74 368.40C1776.15 368.40 1780.35 368.40 1788.76 368.40C1797.17 368.40 1801.37 368.40 1809.78 368.40C1818.18 368.40 1822.39 368.40 1830.79 368.40C1839.20 368.40 1843.40 368.40 1851.81 368.40C1860.22 368.40 1864.42 375.29 1872.83 375.29C1881.24 375.29 1885.44 368.40 1893.85 368.40C1902.26 368.40 1906.46 368.40 1914.87 368.40C1923.27 368.40 1927.48 368.40 1935.88 368.40C1944.29 368.40 1956.90 375.29 1956.90 375.29" fill="none" stroke="#b2232a" stroke-width="2.5" stroke-linejoin="round" stroke-linecap="round"/><path d="M86.30 363.40L91.30 373.40L81.30 373.40Z" fill="#b2232a"/><path d="M107.32 363.40L112.32 373.40L102.32 373.40Z" fill="#b2232a"/><path d="M128.34 363.40L133.34 373.40L123.34 373.40Z" fill="#b2232a"/><path d="M149.35 363.40L154.35 373.40L144.35 373.40Z" fill="#b2232a"/><path d="M170.37 363.40L175.37 373.40L165.37 373.40Z" fill="#b2232a"/><path d="M191.39 363.40L196.39 373.40L186.39 373.40Z" fill="#b2232a"/><path d="M212.41 363.40L217.41 373.40L207.41 373.40Z" fill="#b2232a"/><path d="M233.43 363.40L238.43 373.40L228.43 373.40Z" fill="#b2232a"/><path d="M254.44 363.40L259.44 373.40L249.44 373.40Z" fill="#b2232a"/><path d="M275.46 363.40L280.46 373.40L270.46 373.40Z" fill="#b2232a"/><path d="M296.48 363.40L301.48 373.40L291.48 373.40Z" fill="#b2232a"/><path d="M317.50 363.40L322.50 373.40L312.50 373.40Z" fill="#b2232a"/><path d="M338.52 363.40L343.52 373.40L333.52 373.40Z" fill="#b2232a"/><path d="M359.53 363.40L364.53 373.40L354.53 373.40Z" fill="#b2232a"/><path d="M380.55 363.40L385.55 373.40L375.55 373.40Z" fill="#b2232a"/><path d="M401.57 363.40L406.57 373.40L396.57 373.40Z" fill="#b2232a"/><path d="M422.59 363.40L427.59 373.40L417.59 373.40Z" fill="#b2232a"/><path d="M443.61 363.40L448.61 373.40L438.61 373.40Z" fill="#b2232a"/><path d="M464.62 363.40L469.62 373.40L459.62 373.40Z" fill="#b2232a"/><path d="M485.64 363.40L490.64 373.40L480.64 373.40Z" fill="#b2232a"/><path d="M506.66 363.40L511.66 373.40L501.66 373.40Z" fill="#b2232a"/><path d="M527.68 363.40L532.68 373.40L522.68 373.40Z" fill="#b2232a"/><path d="M548.70 363.40L553.70 373.40L543.70 373.40Z" fill="#b2232a"/><path d="M569.71 363.40L574.71 373.40L564.71 373.40Z" fill="#b2232a"/><path d="M590.73 363.40L595.73 373.40L585.73 373.40Z" fill="#b2232a"/><path d="M611.75 363.40L616.75 373.40L606.75 373.40Z" fill="#b2232a"/><path d="M632.77 363.40L637.77 373.40L627.77 373.40Z" fill="#b2232a"/><path d="M653.79 363.40L658.79 373.40L648.79 373.40Z" fill="#b2232a"/><path d="M674.80 363.40L679.80 373.40L669.80 373.40Z" fill="#b2232a"/><path d="M695.82 363.40L700.82 373.40L690.82 373.40Z" fill="#b2232a"/><path d="M716.84 363.40L721.84 373.40L711.84 373.40Z" fill="#b2232a"/><path d="M737.86 363.40L742.86 373.40L732.86 373.40Z" fill="#b2232a"/><path d="M758.88 363.40L763.88 373.40L753.88 373.40Z" fill="#b2232a"/><path d="M779.89 363.40L784.89 373.40L774.89 373.40Z" fill="#b2232a"/><path d="M800.91 363.40L805.91 373.40L795.91 373.40Z" fill="#b2232a"/><path d="M821.93 363.40L826.93 373.40L816.93 373.40Z" fill="#b2232a"/><path d="M842.95 363.40L847.95 373.40L837.95 373.40Z" fill="#b2232a"/><path d="M863.97 363.40L868.97 373.40L858.97 373.40Z" fill="#b2232a"/><path d="M884.98 363.40L889.98 373.40L879.98 373.40Z" fill="#b2232a"/><path d="M906.00 363.40L911.00 373.40L901.00 373.40Z" fill="#b2232a"/><path d="M927.02 363.40L932.02 373.40L922.02 373.40Z" fill="#b2232a"/><path d="M948.04 363.40L953.04 373.40L943.04 373.40Z" fill="#b2232a"/><path d="M969.06 363.40L974.06 373.40L964.06 373.40Z" fill="#b2232a"/><path d="M990.07 363.40L995.07 373.40L985.07 373.40Z" fill="#b2232a"/><path d="M1011.09 363.40L1016.09 373.40L1006.09 373.40Z" fill="#b2232a"/><path d="M1032.11 363.40L1037.11 373.40L1027.11 373.40Z" fill="#b2232a"/><path d="M1053.13 363.40L1058.13 373.40L1048.13 373.40Z" fill="#b2232a"/><path d="M1074.15 363.40L1079.15 373.40L1069.15 373.40Z" fill="#b2232a"/><path d="M1095.16 363.40L1100.16 373.40L1090.16 373.40Z" fill="#b2232a"/><path d="M1116.18 363.40L1121.18 373.40L1111.18 373.40Z" fill="#b2232a"/><path d="M1137.20 363.40L1142.20 373.40L1132.20 373.40Z" fill="#b2232a"/><path d="M1158.22 363.40L1163.22 373.40L1153.22 373.40Z" fill="#b2232a"/><path d="M1179.24 363.40L1184.24 373.40L1174.24 373.40Z" fill="#b2232a"/><path d="M1200.25 363.40L1205.25 373.40L1195.25 373.40Z" fill="#b2232a"/><path d="M1221.27 363.40L1226.27 373.40L1216.27 373.40Z" fill="#b2232a"/><path d="M1242.29 363.40L1247.29 373.40L1237.29 373.40Z" fill="#b2232a"/><path d="M1263.31 363.40L1268.31 373.40L1258.31 373.40Z" fill="#b2232a"/><path d="M1284.33 363.40L1289.33 373.40L1279.33 373.40Z" fill="#b2232a"/><path d="M1305.34 363.40L1310.34 373.40L1300.34 373.40Z" fill="#b2232a"/><path d="M1326.36 363.40L1331.36 373.40L1321.36 373.40Z" fill="#b2232a"/><path d="M1347.38 363.40L1352.38 373.40L1342.38 373.40Z" fill="#b2232a"/><path d="M1368.40 363.40L1373.40 373.40L1363.40 373.40Z" fill="#b2232a"/><path d="M1389.42 363.40L1394.42 373.40L1384.42 373.40Z" fill="#b2232a"/><path d="M1410.43 363.40L1415.43 373.40L1405.43 373.40Z" fill="#b2232a"/><path d="M1431.45 363.40L1436.45 373.40L1426.45 373.40Z" fill="#b2232a"/><path d="M1452.47 363.40L1457.47 373.40L1447.47 373.40Z" fill="#b2232a"/><path d="M1473.49 363.40L1478.49 373.40L1468.49 373.40Z" fill="#b2232a"/><path d="M1494.51 363.40L1499.51 373.40L1489.51 373.40Z" fill="#b2232a"/><path d="M1515.52 363.40L1520.52 373.40L1510.52 373.40Z" fill="#b2232a"/><path d="M1536.54 363.40L1541.54 373.40L1531.54 373.40Z" fill="#b2232a"/><path d="M1557.56 363.40L1562.56 373.40L1552.56 373.40Z" fill="#b2232a"/><path d="M1578.58 363.40L1583.58 373.40L1573.58 373.40Z" fill="#b2232a"/><path d="M1599.60 363.40L1604.60 373.40L1594.60 373.40Z" fill="#b2232a"/><path d="M1620.61 363.40L1625.61 373.40L1615.61 373.40Z" fill="#b2232a"/><path d="M1641.63 363.40L1646.63 373.40L1636.63 373.40Z" fill="#b2232a"/><path d="M1662.65 363.40L1667.65 373.40L1657.65 373.40Z" fill="#b2232a"/><path d="M1683.67 363.40L1688.67 373.40L1678.67 373.40Z" fill="#b2232a"/><path d="M1704.69 363.40L1709.69 373.40L1699.69 373.40Z" fill="#b2232a"/><path d="M1725.70 356.51L1730.70 366.51L1720.70 366.51Z" fill="#b2232a"/><path d="M1746.72 363.40L1751.72 373.40L1741.72 373.40Z" fill="#b2232a"/><path d="M1767.74 363.40L1772.74 373.40L1762.74 373.40Z" fill="#b2232a"/><path d="M1788.76 363.40L1793.76 373.40L1783.76 373.40Z" fill="#b2232a"/><path d="M1809.78 363.40L1814.78 373.40L1804.78 373.40Z" fill="#b2232a"/><path d="M1830.79 363.40L1835.79 373.40L1825.79 373.40Z" fill="#b2232a"/><path d="M1851.81 363.40L1856.81 373.40L1846.81 373.40Z" fill="#b2232a"/><path d="M1872.83 370.29L1877.83 380.29L1867.83 380.29Z" fill="#b2232a"/><path d="M1893.85 363.40L1898.85 373.40L1888.85 373.40Z" fill="#b2232a"/><path d="M1914.87 363.40L1919.87 373.40L1909.87 373.40Z" fill="#b2232a"/><path d="M1935.88 363.40L1940.88 373.40L1930.88 373.40Z" fill="#b2232a"/><path d="M1956.90 370.29L1961.90 380.29L1951.90 380.29Z" fill="#b2232a"/></g><g><path d="M86.30 368.40C86.30 368.40 98.91 361.51 107.32 361.51C115.73 361.51 119.93 365.64 128.34 368.40C136.74 371.16 140.95 375.29 149.35 375.29C157.76 375.29 161.96 368.40 170.37 368.40C178.78 368.40 182.98 368.40 191.39 368.40C199.80 368.40 204.00 368.40 212.41 368.40C220.82 368.40 225.02 368.40 233.43 368.40C241.83 368.40 246.04 368.40 254.44 368.40C262.85 368.40 267.05 368.40 275.46 368.40C283.87 368.40 288.07 368.40 296.48 368.40C304.89 368.40 309.09 368.40 317.50 368.40C325.91 368.40 330.11 368.40 338.52 368.40C346.92 368.40 351.13 375.29 359.53 375.29C367.94 375.29 372.14 361.51 380.55 361.51C388.96 361.51 393.16 368.40 401.57 368.40C409.98 368.40 414.18 361.51 422.59 361.51C431.00 361.51 435.20 365.64 443.61 368.40C452.01 371.16 456.22 375.29 464.62 375.29C473.03 375.29 477.23 368.40 485.64 368.40C494.05 368.40 498.25 368.40 506.66 368.40C515.07 368.40 519.27 368.40 527.68 368.40C536.09 368.40 540.29 361.51 548.70 361.51C557.10 361.51 561.31 375.29 569.71 375.29C578.12 375.29 582.32 368.40 590.73 368.40C599.14 368.40 603.34 368.40 611.75 368.40C620.16 368.40 624.36 368.40 632.77 368.40C641.18 368.40 645.38 368.40 653.79 368.40C662.19 368.40 666.40 368.40 674.80 368.40C683.21 368.40 687.41 368.40 695.82 368.40C704.23 368.40 708.43 368.40 716.84 368.40C725.25 368.40 729.45 368.40 737.86 368.40C746.27 368.40 750.47 368.40 758.88 368.40C767.28 368.40 771.49 368.40 779.89 368.40C788.30 368.40 792.50 368.40 800.91 368.40C809.32 368.40 813.52 368.40 821.93 368.40C830.34 368.40 834.54 368.40 842.95 368.40C851.36 368.40 855.56 368.40 863.97 368.40C872.37 368.40 876.58 368.40 884.98 368.40C893.39 368.40 897.59 368.40 906.00 368.40C914.41 368.40 918.61 368.40 927.02 368.40C935.43 368.40 939.63 368.40 948.04 368.40C956.45 368.40 960.65 368.40 969.06 368.40C977.46 368.40 981.67 361.51 990.07 361.51C998.48 361.51 1002.68 365.64 1011.09 368.40C1019.50 371.16 1023.70 375.29 1032.11 375.29C1040.52 375.29 1044.72 361.51 1053.13 361.51C1061.54 361.51 1065.74 368.40 1074.15 368.40C1082.55 368.40 1086.76 368.40 1095.16 368.40C1103.57 368.40 1107.77 375.29 1116.18 375.29C1124.59 375.29 1128.79 361.51 1137.20 361.51C1145.61 361.51 1149.81 368.40 1158.22 368.40C1166.63 368.40 1170.83 368.40 1179.24 368.40C1187.64 368.40 1191.85 368.40 1200.25 368.40C1208.66 368.40 1212.86 375.29 1221.27 375.29C1229.68 375.29 1233.88 368.40 1242.29 368.40C1250.70 368.40 1254.90 368.40 1263.31 368.40C1271.72 368.40 1275.92 368.40 1284.33 368.40C1292.73 368.40 1296.94 361.51 1305.34 361.51C1313.75 361.51 1317.95 365.64 1326.36 368.40C1334.77 371.16 1338.97 375.29 1347.38 375.29C1355.79 375.29 1359.99 361.51 1368.40 361.51C1376.81 361.51 1381.01 375.29 1389.42 375.29C1397.82 375.29 1402.03 368.40 1410.43 368.40C1418.84 368.40 1423.04 368.40 1431.45 368.40C1439.86 368.40 1444.06 361.51 1452.47 361.51C1460.88 361.51 1465.08 375.29 1473.49 375.29C1481.90 375.29 1486.10 361.51 1494.51 361.51C1502.91 361.51 1507.12 375.29 1515.52 375.29C1523.93 375.29 1528.13 361.51 1536.54 361.51C1544.95 361.51 1549.15 375.29 1557.56 375.29C1565.97 375.29 1570.17 368.40 1578.58 368.40C1586.99 368.40 1591.19 368.40 1599.60 368.40C1608.00 368.40 1612.21 368.40 1620.61 368.40C1629.02 368.40 1633.22 368.40 1641.63 368.40C1650.04 368.40 1654.24 368.40 1662.65 368.40C1671.06 368.40 1675.26 368.40 1683.67 368.40C1692.08 368.40 1696.28 361.51 1704.69 361.51C1713.09 361.51 1717.30 368.40 1725.70 368.40C1734.11 368.40 1738.31 361.51 1746.72 361.51C1755.13 361.51 1759.33 368.40 1767.74 368.40C1776.15 368.40 1780.35 368.40 1788.76 368.40C1797.17 368.40 1801.37 368.40 1809.78 368.40C1818.18 368.40 1822.39 361.51 1830.79 361.51C1839.20 361.51 1843.40 365.64 1851.81 368.40C1860.22 371.16 1864.42 375.29 1872.83 375.29C1881.24 375.29 1885.44 368.40 1893.85 368.40C1902.26 368.40 1906.46 368.40 1914.87 368.40C1923.27 368.40 1927.48 368.40 1935.88 368.40C1944.29 368.40 1956.90 368.40 1956.90 368.40" fill="none" stroke="#2e8f56" stroke-width="2.5" stroke-linejoin="round" stroke-linecap="round"/><path d="M81.30 363.40L91.30 363.40L86.30 373.40Z" fill="#2e8f56"/><path d="M102.32 356.51L112.32 356.51L107.32 366.51Z" fill="#2e8f56"/><path d="M123.34 363.40L133.34 363.40L128.34 373.40Z" fill="#2e8f56"/><path d="M144.35 370.29L154.35 370.29L149.35 380.29Z" fill="#2e8f56"/><path d="M165.37 363.40L175.37 363.40L170.37 373.40Z" fill="#2e8f56"/><path d="M186.39 363.40L196.39 363.40L191.39 373.40Z" fill="#2e8f56"/><path d="M207.41 363.40L217.41 363.40L212.41 373.40Z" fill="#2e8f56"/><path d="M228.43 363.40L238.43 363.40L233.43 373.40Z" fill="#2e8f56"/><path d="M249.44 363.40L259.44 363.40L254.44 373.40Z" fill="#2e8f56"/><path d="M270.46 363.40L280.46 363.40L275.46 373.40Z" fill="#2e8f56"/><path d="M291.48 363.40L301.48 363.40L296.48 373.40Z" fill="#2e8f56"/><path d="M312.50 363.40L322.50 363.40L317.50 373.40Z" fill="#2e8f56"/><path d="M333.52 363.40L343.52 363.40L338.52 373.40Z" fill="#2e8f56"/><path d="M354.53 370.29L364.53 370.29L359.53 380.29Z" fill="#2e8f56"/><path d="M375.55 356.51L385.55 356.51L380.55 366.51Z" fill="#2e8f56"/><path d="M396.57 363.40L406.57 363.40L401.57 373.40Z" fill="#2e8f56"/><path d="M417.59 356.51L427.59 356.51L422.59 366.51Z" fill="#2e8f56"/><path d="M438.61 363.40L448.61 363.40L443.61 373.40Z" fill="#2e8f56"/><path d="M459.62 370.29L469.62 370.29L464.62 380.29Z" fill="#2e8f56"/><path d="M480.64 363.40L490.64 363.40L485.64 373.40Z" fill="#2e8f56"/><path d="M501.66 363.40L511.66 363.40L506.66 373.40Z" fill="#2e8f56"/><path d="M522.68 363.40L532.68 363.40L527.68 373.40Z" fill="#2e8f56"/><path d="M543.70 356.51L553.70 356.51L548.70 366.51Z" fill="#2e8f56"/><path d="M564.71 370.29L574.71 370.29L569.71 380.29Z" fill="#2e8f56"/><path d="M585.73 363.40L595.73 363.40L590.73 373.40Z" fill="#2e8f56"/><path d="M606.75 363.40L616.75 363.40L611.75 373.40Z" fill="#2e8f56"/><path d="M627.77 363.40L637.77 363.40L632.77 373.40Z" fill="#2e8f56"/><path d="M648.79 363.40L658.79 363.40L653.79 373.40Z" fill="#2e8f56"/><path d="M669.80 363.40L679.80 363.40L674.80 373.40Z" fill="#2e8f56"/><path d="M690.82 363.40L700.82 363.40L695.82 373.40Z" fill="#2e8f56"/><path d="M711.84 363.40L721.84 363.40L716.84 373.40Z" fill="#2e8f56"/><path d="M732.86 363.40L742.86 363.40L737.86 373.40Z" fill="#2e8f56"/><path d="M753.88 363.40L763.88 363.40L758.88 373.40Z" fill="#2e8f56"/><path d="M774.89 363.40L784.89 363.40L779.89 373.40Z" fill="#2e8f56"/><path d="M795.91 363.40L805.91 363.40L800.91 373.40Z" fill="#2e8f56"/><path d="M816.93 363.40L826.93 363.40L821.93 373.40Z" fill="#2e8f56"/><path d="M837.95 363.40L847.95 363.40L842.95 373.40Z" fill="#2e8f56"/><path d="M858.97 363.40L868.97 363.40L863.97 373.40Z" fill="#2e8f56"/><path d="M879.98 363.40L889.98 363.40L884.98 373.40Z" fill="#2e8f56"/><path d="M901.00 363.40L911.00 363.40L906.00 373.40Z" fill="#2e8f56"/><path d="M922.02 363.40L932.02 363.40L927.02 373.40Z" fill="#2e8f56"/><path d="M943.04 363.40L953.04 363.40L948.04 373.40Z" fill="#2e8f56"/><path d="M964.06 363.40L974.06 363.40L969.06 373.40Z" fill="#2e8f56"/><path d="M985.07 356.51L995.07 356.51L990.07 366.51Z" fill="#2e8f56"/><path d="M1006.09 363.40L1016.09 363.40L1011.09 373.40Z" fill="#2e8f56"/><path d="M1027.11 370.29L1037.11 370.29L1032.11 380.29Z" fill="#2e8f56"/><path d="M1048.13 356.51L1058.13 356.51L1053.13 366.51Z" fill="#2e8f56"/><path d="M1069.15 363.40L1079.15 363.40L1074.15 373.40Z" fill="#2e8f56"/><path d="M1090.16 363.40L1100.16 363.40L1095.16 373.40Z" fill="#2e8f56"/><path d="M1111.18 370.29L1121.18 370.29L1116.18 380.29Z" fill="#2e8f56"/><path d="M1132.20 356.51L1142.20 356.51L1137.20 366.51Z" fill="#2e8f56"/><path d="M1153.22 363.40L1163.22 363.40L1158.22 373.40Z" fill="#2e8f56"/><path d="M1174.24 363.40L1184.24 363.40L1179.24 373.40Z" fill="#2e8f56"/><path d="M1195.25 363.40L1205.25 363.40L1200.25 373.40Z" fill="#2e8f56"/><path d="M1216.27 370.29L1226.27 370.29L1221.27 380.29Z" fill="#2e8f56"/><path d="M1237.29 363.40L1247.29 363.40L1242.29 373.40Z" fill="#2e8f56"/><path d="M1258.31 363.40L1268.31 363.40L1263.31 373.40Z" fill="#2e8f56"/><path d="M1279.33 363.40L1289.33 363.40L1284.33 373.40Z" fill="#2e8f56"/><path d="M1300.34 356.51L1310.34 356.51L1305.34 366.51Z" fill="#2e8f56"/><path d="M1321.36 363.40L1331.36 363.40L1326.36 373.40Z" fill="#2e8f56"/><path d="M1342.38 370.29L1352.38 370.29L1347.38 380.29Z" fill="#2e8f56"/><path d="M1363.40 356.51L1373.40 356.51L1368.40 366.51Z" fill="#2e8f56"/><path d="M1384.42 370.29L1394.42 370.29L1389.42 380.29Z" fill="#2e8f56"/><path d="M1405.43 363.40L1415.43 363.40L1410.43 373.40Z" fill="#2e8f56"/><path d="M1426.45 363.40L1436.45 363.40L1431.45 373.40Z" fill="#2e8f56"/><path d="M1447.47 356.51L1457.47 356.51L1452.47 366.51Z" fill="#2e8f56"/><path d="M1468.49 370.29L1478.49 370.29L1473.49 380.29Z" fill="#2e8f56"/><path d="M1489.51 356.51L1499.51 356.51L1494.51 366.51Z" fill="#2e8f56"/><path d="M1510.52 370.29L1520.52 370.29L1515.52 380.29Z" fill="#2e8f56"/><path d="M1531.54 356.51L1541.54 356.51L1536.54 366.51Z" fill="#2e8f56"/><path d="M1552.56 370.29L1562.56 370.29L1557.56 380.29Z" fill="#2e8f56"/><path d="M1573.58 363.40L1583.58 363.40L1578.58 373.40Z" fill="#2e8f56"/><path d="M1594.60 363.40L1604.60 363.40L1599.60 373.40Z" fill="#2e8f56"/><path d="M1615.61 363.40L1625.61 363.40L1620.61 373.40Z" fill="#2e8f56"/><path d="M1636.63 363.40L1646.63 363.40L1641.63 373.40Z" fill="#2e8f56"/><path d="M1657.65 363.40L1667.65 363.40L1662.65 373.40Z" fill="#2e8f56"/><path d="M1678.67 363.40L1688.67 363.40L1683.67 373.40Z" fill="#2e8f56"/><path d="M1699.69 356.51L1709.69 356.51L1704.69 366.51Z" fill="#2e8f56"/><path d="M1720.70 363.40L1730.70 363.40L1725.70 373.40Z" fill="#2e8f56"/><path d="M1741.72 356.51L1751.72 356.51L1746.72 366.51Z" fill="#2e8f56"/><path d="M1762.74 363.40L1772.74 363.40L1767.74 373.40Z" fill="#2e8f56"/><path d="M1783.76 363.40L1793.76 363.40L1788.76 373.40Z" fill="#2e8f56"/><path d="M1804.78 363.40L1814.78 363.40L1809.78 373.40Z" fill="#2e8f56"/><path d="M1825.79 356.51L1835.79 356.51L1830.79 366.51Z" fill="#2e8f56"/><path d="M1846.81 363.40L1856.81 363.40L1851.81 373.40Z" fill="#2e8f56"/><path d="M1867.83 370.29L1877.83 370.29L1872.83 380.29Z" fill="#2e8f56"/><path d="M1888.85 363.40L1898.85 363.40L1893.85 373.40Z" fill="#2e8f56"/><path d="M1909.87 363.40L1919.87 363.40L1914.87 373.40Z" fill="#2e8f56"/><path d="M1930.88 363.40L1940.88 363.40L1935.88 373.40Z" fill="#2e8f56"/><path d="M1951.90 363.40L1961.90 363.40L1956.90 373.40Z" fill="#2e8f56"/></g><path d="M59.8 622.7H79.5" stroke="#eeb10c" stroke-width="2.5"/><circle cx="69.65" cy="622.70" r="5" fill="#eeb10c"/><text x="85.0" y="629.0" class="lg" textLength="139.3" lengthAdjust="spacingAndGlyphs">Polish (Poland)</text><path d="M247.8 622.7H267.5" stroke="#b8d900" stroke-width="2.5"/><path d="M257.65 617.70L262.65 622.70L257.65 627.70L252.65 622.70Z" fill="#b8d900"/><text x="273.0" y="629.0" class="lg" textLength="320.7" lengthAdjust="spacingAndGlyphs">English (United States of America)</text><path d="M617.4 622.7H637.1" stroke="#946db0" stroke-width="2.5"/><rect x="622.25" y="617.70" width="10" height="10" fill="#946db0"/><text x="642.6" y="629.0" class="lg" textLength="240.7" lengthAdjust="spacingAndGlyphs">English (United Kingdom)</text><path d="M906.6 622.7H926.3" stroke="#4fbcc8" stroke-width="2.5"/><path d="M916.45 617.70L921.45 627.70L911.45 627.70Z" fill="#4fbcc8"/><text x="931.8" y="629.0" class="lg" textLength="271.5" lengthAdjust="spacingAndGlyphs">Russian (Russian Federation)</text><path d="M1227.0 622.7H1246.7" stroke="#3f5570" stroke-width="2.5"/><path d="M1231.85 617.70L1241.85 617.70L1236.85 627.70Z" fill="#3f5570"/><text x="1252.2" y="629.0" class="lg" textLength="178.1" lengthAdjust="spacingAndGlyphs">German (Germany)</text><path d="M1453.4 622.7H1473.1" stroke="#7a3342" stroke-width="2.5"/><circle cx="1463.25" cy="622.70" r="5" fill="#7a3342"/><text x="1478.6" y="629.0" class="lg" textLength="145.7" lengthAdjust="spacingAndGlyphs">French (France)</text><path d="M1647.4 622.7H1667.1" stroke="#b0282a" stroke-width="2.5"/><path d="M1657.25 617.70L1662.25 622.70L1657.25 627.70L1652.25 622.70Z" fill="#b0282a"/><text x="1672.6" y="629.0" class="lg" textLength="222.7" lengthAdjust="spacingAndGlyphs">Spanish (Latin America)</text><path d="M59.8 645.7H79.5" stroke="#2e8f56" stroke-width="2.5"/><rect x="64.65" y="640.70" width="10" height="10" fill="#2e8f56"/><text x="85.0" y="652.0" class="lg" textLength="61.7" lengthAdjust="spacingAndGlyphs">Arabic</text><path d="M169.6 645.7H189.3" stroke="#4cf03c" stroke-width="2.5"/><path d="M179.45 640.70L184.45 650.70L174.45 650.70Z" fill="#4cf03c"/><text x="194.8" y="652.0" class="lg" textLength="314.5" lengthAdjust="spacingAndGlyphs">Persian (Iran, Islamic Republic of)</text><path d="M533.0 645.7H552.7" stroke="#5cc2cb" stroke-width="2.5"/><path d="M537.85 640.70L547.85 640.70L542.85 650.70Z" fill="#5cc2cb"/><text x="558.2" y="652.0" class="lg" textLength="182.1" lengthAdjust="spacingAndGlyphs">Ukrainian (Ukraine)</text><path d="M763.4 645.7H783.1" stroke="#b040c4" stroke-width="2.5"/><circle cx="773.25" cy="645.70" r="5" fill="#b040c4"/><text x="788.6" y="652.0" class="lg" textLength="140.7" lengthAdjust="spacingAndGlyphs">Spanish (Chile)</text><path d="M953.0 645.7H972.7" stroke="#9c66a8" stroke-width="2.5"/><path d="M962.85 640.70L967.85 645.70L962.85 650.70L957.85 645.70Z" fill="#9c66a8"/><text x="978.2" y="652.0" class="lg" textLength="157.1" lengthAdjust="spacingAndGlyphs">Slovak (Slovakia)</text><path d="M1158.4 645.7H1178.1" stroke="#5858c6" stroke-width="2.5"/><rect x="1163.25" y="640.70" width="10" height="10" fill="#5858c6"/><text x="1183.6" y="652.0" class="lg" textLength="222.7" lengthAdjust="spacingAndGlyphs">Czech (Czech Republic)</text><path d="M1430.0 645.7H1449.7" stroke="#f0c030" stroke-width="2.5"/><path d="M1439.85 640.70L1444.85 650.70L1434.85 650.70Z" fill="#f0c030"/><text x="1455.2" y="652.0" class="lg" textLength="151.5" lengthAdjust="spacingAndGlyphs">English (Poland)</text><path d="M1630.4 645.7H1650.1" stroke="#52b552" stroke-width="2.5"/><path d="M1635.25 640.70L1645.25 640.70L1640.25 650.70Z" fill="#52b552"/><text x="1655.6" y="652.0" class="lg" textLength="197.3" lengthAdjust="spacingAndGlyphs">Hungarian (Hungary)</text><path d="M59.8 668.6H79.5" stroke="#c5e43a" stroke-width="2.5"/><circle cx="69.65" cy="668.60" r="5" fill="#c5e43a"/><text x="85.0" y="674.9" class="lg" textLength="140.9" lengthAdjust="spacingAndGlyphs">Gujarati (India)</text><path d="M249.0 668.6H268.7" stroke="#e64545" stroke-width="2.5"/><path d="M258.85 663.60L263.85 668.60L258.85 673.60L253.85 668.60Z" fill="#e64545"/><text x="274.2" y="674.9" class="lg" textLength="178.1" lengthAdjust="spacingAndGlyphs">Portuguese (Brazil)</text><path d="M476.0 668.6H495.7" stroke="#f0b000" stroke-width="2.5"/><rect x="480.85" y="663.60" width="10" height="10" fill="#f0b000"/><text x="501.2" y="674.9" class="lg" textLength="214.1" lengthAdjust="spacingAndGlyphs">Indonesian (Indonesia)</text><path d="M739.0 668.6H758.7" stroke="#b4de00" stroke-width="2.5"/><path d="M748.85 663.60L753.85 673.60L743.85 673.60Z" fill="#b4de00"/><text x="764.2" y="674.9" class="lg" textLength="195.5" lengthAdjust="spacingAndGlyphs">Romanian (Romania)</text><path d="M983.0 668.6H1002.7" stroke="#9272b2" stroke-width="2.5"/><path d="M987.85 663.60L997.85 663.60L992.85 673.60Z" fill="#9272b2"/><text x="1008.2" y="674.9" class="lg" textLength="117.5" lengthAdjust="spacingAndGlyphs">Italian (Italy)</text><path d="M1149.0 668.6H1168.7" stroke="#42b9c2" stroke-width="2.5"/><circle cx="1158.85" cy="668.60" r="5" fill="#42b9c2"/><text x="1174.2" y="674.9" class="lg" textLength="204.1" lengthAdjust="spacingAndGlyphs">Portuguese (Portugal)</text><path d="M1402.4 668.6H1422.1" stroke="#3a5068" stroke-width="2.5"/><path d="M1412.25 663.60L1417.25 668.60L1412.25 673.60L1407.25 668.60Z" fill="#3a5068"/><text x="1427.6" y="674.9" class="lg" textLength="116.1" lengthAdjust="spacingAndGlyphs">Hindi (India)</text><path d="M1567.0 668.6H1586.7" stroke="#743242" stroke-width="2.5"/><rect x="1571.85" y="663.60" width="10" height="10" fill="#743242"/><text x="1592.2" y="674.9" class="lg" textLength="144.7" lengthAdjust="spacingAndGlyphs">Spanish (Spain)</text><path d="M1760.4 668.6H1780.1" stroke="#b2232a" stroke-width="2.5"/><path d="M1770.25 663.60L1775.25 673.60L1765.25 673.60Z" fill="#b2232a"/><text x="1785.6" y="674.9" class="lg" textLength="156.3" lengthAdjust="spacingAndGlyphs">Turkish (Turkey)</text><path d="M59.8 691.6H79.5" stroke="#2e8f56" stroke-width="2.5"/><path d="M64.65 686.60L74.65 686.60L69.65 696.60Z" fill="#2e8f56"/><text x="85.0" y="697.9" class="lg" textLength="134.3" lengthAdjust="spacingAndGlyphs">English (India)</text><text x="20.8" y="59.8" class="ttl" textLength="270" lengthAdjust="spacingAndGlyphs">Change in Languages</text><rect x="297" y="38" width="58" height="22.7" fill="#1b7af0"/><text x="301.8" y="55" class="bdg" textLength="48.5" lengthAdjust="spacingAndGlyphs">insights</text><circle cx="375.6" cy="51.9" r="7.8" fill="#9a9a9a"/><text x="372.5" y="57.4" class="hlp" textLength="6.6" lengthAdjust="spacingAndGlyphs">?</text><text x="1891" y="720.3" class="cr">sotrender.com</text></svg>
<svg class="dl" width="20" height="22" viewBox="0 0 20 22"><path d="M6.6 0.9H13.5V6.9H18.3L10.1 14.6L2 6.9H6.6Z" fill="#666"/><rect x="2" y="17.7" width="16.3" height="2.3" fill="#666"/></svg>
<div class="chat"><svg width="74" height="74" viewBox="0 0 74 74"><path d="M25.3 20.2C33 19.2 46 19 51.5 19.8C54.5 20.4 55.6 22.5 55.7 27C55.9 32 55.6 37 55.2 41.2C54.2 37 53.8 31 53.3 27C53 24.2 52 22.8 49 22.4C42 21.8 32 21.6 25.3 20.2Z" fill="#fff"/><path d="M22.5 24.6C30 24 42 24 47.5 24.6C49.8 24.9 50.4 25.8 50.5 28C50.8 33 50.8 40 50.2 44.5C49.9 46.9 49 47.6 46.5 47.9C43.5 48.2 39.5 48.4 37.2 48.4L34.2 54.3L31.5 48.4C29 48.4 25.5 48.2 22.5 47.9C20 47.6 19.1 46.9 18.8 44.5C18.2 40 18.2 33 18.5 28C18.6 25.8 19.2 24.9 22.5 24.6Z" fill="#fff"/></svg></div>
</div></body></html>
